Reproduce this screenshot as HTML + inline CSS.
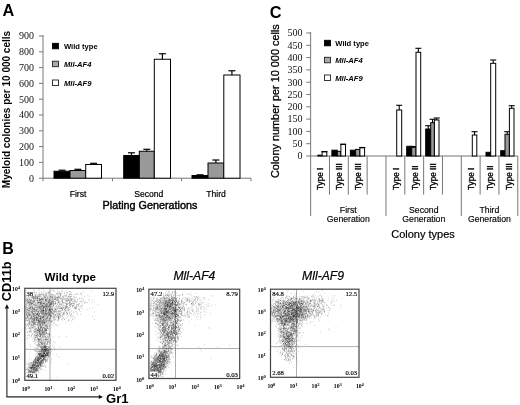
<!DOCTYPE html>
<html><head><meta charset="utf-8"><title>Figure</title>
<style>
html,body{margin:0;padding:0;background:#fff;}
body{width:520px;height:405px;overflow:hidden;}
svg{display:block;}
.sa{font-family:"Liberation Sans",Arial,sans-serif;}
.se{font-family:"Liberation Serif","Times New Roman",serif;}
</style></head><body>
<svg width="520" height="405" viewBox="0 0 520 405" style="filter:blur(0.4px)">
<defs><filter id="bl" x="-5%" y="-5%" width="110%" height="110%"><feGaussianBlur stdDeviation="0.35"/></filter></defs>
<rect width="520" height="405" fill="#fff"/>
<text class="sa" x="2.4" y="15.8" font-size="16.3" font-weight="bold" font-style="normal" text-anchor="start" fill="#000" >A</text>
<text class="sa" transform="translate(9.6,188.2) rotate(-90)" font-size="10" font-weight="bold" text-anchor="start" fill="#000" >Myeloid colonies per 10 000 cells</text>
<line x1="43" y1="35" x2="43" y2="178.2" stroke="#777" stroke-width="1"/>
<line x1="43" y1="178.2" x2="251" y2="178.2" stroke="#777" stroke-width="1"/>
<line x1="39" y1="178.2" x2="43" y2="178.2" stroke="#777" stroke-width="1"/>
<text class="se" x="33.9" y="181.5" font-size="10" font-weight="normal" font-style="normal" text-anchor="end" fill="#111" >0</text>
<line x1="39" y1="162.39999999999998" x2="43" y2="162.39999999999998" stroke="#777" stroke-width="1"/>
<text class="se" x="33.9" y="165.7" font-size="10" font-weight="normal" font-style="normal" text-anchor="end" fill="#111" >100</text>
<line x1="39" y1="146.6" x2="43" y2="146.6" stroke="#777" stroke-width="1"/>
<text class="se" x="33.9" y="149.9" font-size="10" font-weight="normal" font-style="normal" text-anchor="end" fill="#111" >200</text>
<line x1="39" y1="130.79999999999998" x2="43" y2="130.79999999999998" stroke="#777" stroke-width="1"/>
<text class="se" x="33.9" y="134.1" font-size="10" font-weight="normal" font-style="normal" text-anchor="end" fill="#111" >300</text>
<line x1="39" y1="114.99999999999999" x2="43" y2="114.99999999999999" stroke="#777" stroke-width="1"/>
<text class="se" x="33.9" y="118.3" font-size="10" font-weight="normal" font-style="normal" text-anchor="end" fill="#111" >400</text>
<line x1="39" y1="99.19999999999999" x2="43" y2="99.19999999999999" stroke="#777" stroke-width="1"/>
<text class="se" x="33.9" y="102.5" font-size="10" font-weight="normal" font-style="normal" text-anchor="end" fill="#111" >500</text>
<line x1="39" y1="83.39999999999998" x2="43" y2="83.39999999999998" stroke="#777" stroke-width="1"/>
<text class="se" x="33.9" y="86.7" font-size="10" font-weight="normal" font-style="normal" text-anchor="end" fill="#111" >600</text>
<line x1="39" y1="67.59999999999998" x2="43" y2="67.59999999999998" stroke="#777" stroke-width="1"/>
<text class="se" x="33.9" y="70.9" font-size="10" font-weight="normal" font-style="normal" text-anchor="end" fill="#111" >700</text>
<line x1="39" y1="51.79999999999998" x2="43" y2="51.79999999999998" stroke="#777" stroke-width="1"/>
<text class="se" x="33.9" y="55.1" font-size="10" font-weight="normal" font-style="normal" text-anchor="end" fill="#111" >800</text>
<line x1="39" y1="35.99999999999997" x2="43" y2="35.99999999999997" stroke="#777" stroke-width="1"/>
<text class="se" x="33.9" y="39.3" font-size="10" font-weight="normal" font-style="normal" text-anchor="end" fill="#111" >900</text>
<line x1="43" y1="178.2" x2="43" y2="181.2" stroke="#777" stroke-width="1"/>
<line x1="112.5" y1="178.2" x2="112.5" y2="181.2" stroke="#777" stroke-width="1"/>
<line x1="181.5" y1="178.2" x2="181.5" y2="181.2" stroke="#777" stroke-width="1"/>
<line x1="251" y1="178.2" x2="251" y2="181.2" stroke="#777" stroke-width="1"/>
<rect x="54.00" y="171.25" width="16.00" height="6.95" fill="#000" stroke="#000" stroke-width="1"/>
<line x1="62.0" y1="170.2" x2="62.0" y2="171.25" stroke="#000" stroke-width="1.2"/>
<line x1="58.5" y1="170.2" x2="65.5" y2="170.2" stroke="#000" stroke-width="1.2"/>
<rect x="70.00" y="170.50" width="15.70" height="7.70" fill="#999" stroke="#000" stroke-width="1"/>
<line x1="77.85" y1="169.3" x2="77.85" y2="170.5" stroke="#000" stroke-width="1.2"/>
<line x1="74.35" y1="169.3" x2="81.35" y2="169.3" stroke="#000" stroke-width="1.2"/>
<rect x="85.70" y="164.50" width="15.80" height="13.70" fill="#fff" stroke="#000" stroke-width="1"/>
<line x1="93.6" y1="163.3" x2="93.6" y2="164.5" stroke="#000" stroke-width="1.2"/>
<line x1="90.1" y1="163.3" x2="97.1" y2="163.3" stroke="#000" stroke-width="1.2"/>
<rect x="123.70" y="155.50" width="15.60" height="22.70" fill="#000" stroke="#000" stroke-width="1"/>
<line x1="131.5" y1="152.8" x2="131.5" y2="155.5" stroke="#000" stroke-width="1.2"/>
<line x1="128.0" y1="152.8" x2="135.0" y2="152.8" stroke="#000" stroke-width="1.2"/>
<rect x="139.30" y="151.25" width="15.00" height="26.95" fill="#999" stroke="#000" stroke-width="1"/>
<line x1="146.8" y1="149.3" x2="146.8" y2="151.25" stroke="#000" stroke-width="1.2"/>
<line x1="143.3" y1="149.3" x2="150.3" y2="149.3" stroke="#000" stroke-width="1.2"/>
<rect x="154.30" y="59.25" width="16.20" height="118.95" fill="#fff" stroke="#000" stroke-width="1"/>
<line x1="162.4" y1="53.75" x2="162.4" y2="59.25" stroke="#000" stroke-width="1.2"/>
<line x1="158.9" y1="53.75" x2="165.9" y2="53.75" stroke="#000" stroke-width="1.2"/>
<rect x="192.00" y="175.50" width="16.00" height="2.70" fill="#000" stroke="#000" stroke-width="1"/>
<line x1="200.0" y1="174.8" x2="200.0" y2="175.5" stroke="#000" stroke-width="1.2"/>
<line x1="196.5" y1="174.8" x2="203.5" y2="174.8" stroke="#000" stroke-width="1.2"/>
<rect x="208.00" y="163.00" width="15.80" height="15.20" fill="#999" stroke="#000" stroke-width="1"/>
<line x1="215.9" y1="160" x2="215.9" y2="163" stroke="#000" stroke-width="1.2"/>
<line x1="212.4" y1="160" x2="219.4" y2="160" stroke="#000" stroke-width="1.2"/>
<rect x="223.80" y="75.00" width="16.20" height="103.20" fill="#fff" stroke="#000" stroke-width="1"/>
<line x1="231.9" y1="70.75" x2="231.9" y2="75" stroke="#000" stroke-width="1.2"/>
<line x1="228.4" y1="70.75" x2="235.4" y2="70.75" stroke="#000" stroke-width="1.2"/>
<text class="sa" x="78" y="197.2" font-size="8.6" font-weight="normal" font-style="normal" text-anchor="middle" fill="#000" stroke="#000" stroke-width=".2">First</text>
<text class="sa" x="148.8" y="197.2" font-size="8.6" font-weight="normal" font-style="normal" text-anchor="middle" fill="#000" stroke="#000" stroke-width=".2">Second</text>
<text class="sa" x="216" y="197.2" font-size="8.6" font-weight="normal" font-style="normal" text-anchor="middle" fill="#000" stroke="#000" stroke-width=".2">Third</text>
<text class="sa" x="150" y="208.9" font-size="10.8" font-weight="normal" font-style="normal" text-anchor="middle" fill="#000" stroke="#000" stroke-width=".4">Plating Generations</text>
<rect x="52.50" y="43.30" width="6.00" height="5.50" fill="#000" stroke="#000" stroke-width="0.9"/>
<text class="sa" x="64" y="48.6" font-size="7.6" font-weight="bold" font-style="normal" text-anchor="start" fill="#000" >Wild type</text>
<rect x="52.50" y="61.20" width="6.00" height="5.50" fill="#aaa" stroke="#222" stroke-width="0.9"/>
<text class="sa" x="64" y="66.7" font-size="7.6" font-weight="bold" font-style="italic" text-anchor="start" fill="#000" >Mll-AF4</text>
<rect x="52.50" y="80.00" width="6.00" height="5.50" fill="#fff" stroke="#222" stroke-width="0.9"/>
<text class="sa" x="64" y="85.7" font-size="7.6" font-weight="bold" font-style="italic" text-anchor="start" fill="#000" >Mll-AF9</text>
<text class="sa" x="269.8" y="18.2" font-size="16.3" font-weight="bold" font-style="normal" text-anchor="start" fill="#000" >C</text>
<text class="sa" transform="translate(279.2,178) rotate(-90)" font-size="10.9" font-weight="normal" text-anchor="start" fill="#000" stroke="#000" stroke-width=".3">Colony number per 10 000 cells</text>
<line x1="310.65" y1="32" x2="310.65" y2="156" stroke="#777" stroke-width="1"/>
<line x1="310.65" y1="156" x2="517.78" y2="156" stroke="#777" stroke-width="1"/>
<line x1="306.3" y1="156.0" x2="310.65" y2="156.0" stroke="#777" stroke-width="1"/>
<text class="se" x="302.6" y="159.3" font-size="10" font-weight="normal" font-style="normal" text-anchor="end" fill="#111" >0</text>
<line x1="306.3" y1="143.7" x2="310.65" y2="143.7" stroke="#777" stroke-width="1"/>
<text class="se" x="302.6" y="147.0" font-size="10" font-weight="normal" font-style="normal" text-anchor="end" fill="#111" >50</text>
<line x1="306.3" y1="131.4" x2="310.65" y2="131.4" stroke="#777" stroke-width="1"/>
<text class="se" x="302.6" y="134.7" font-size="10" font-weight="normal" font-style="normal" text-anchor="end" fill="#111" >100</text>
<line x1="306.3" y1="119.1" x2="310.65" y2="119.1" stroke="#777" stroke-width="1"/>
<text class="se" x="302.6" y="122.4" font-size="10" font-weight="normal" font-style="normal" text-anchor="end" fill="#111" >150</text>
<line x1="306.3" y1="106.8" x2="310.65" y2="106.8" stroke="#777" stroke-width="1"/>
<text class="se" x="302.6" y="110.1" font-size="10" font-weight="normal" font-style="normal" text-anchor="end" fill="#111" >200</text>
<line x1="306.3" y1="94.5" x2="310.65" y2="94.5" stroke="#777" stroke-width="1"/>
<text class="se" x="302.6" y="97.8" font-size="10" font-weight="normal" font-style="normal" text-anchor="end" fill="#111" >250</text>
<line x1="306.3" y1="82.19999999999999" x2="310.65" y2="82.19999999999999" stroke="#777" stroke-width="1"/>
<text class="se" x="302.6" y="85.5" font-size="10" font-weight="normal" font-style="normal" text-anchor="end" fill="#111" >300</text>
<line x1="306.3" y1="69.89999999999999" x2="310.65" y2="69.89999999999999" stroke="#777" stroke-width="1"/>
<text class="se" x="302.6" y="73.2" font-size="10" font-weight="normal" font-style="normal" text-anchor="end" fill="#111" >350</text>
<line x1="306.3" y1="57.599999999999994" x2="310.65" y2="57.599999999999994" stroke="#777" stroke-width="1"/>
<text class="se" x="302.6" y="60.9" font-size="10" font-weight="normal" font-style="normal" text-anchor="end" fill="#111" >400</text>
<line x1="306.3" y1="45.3" x2="310.65" y2="45.3" stroke="#777" stroke-width="1"/>
<text class="se" x="302.6" y="48.6" font-size="10" font-weight="normal" font-style="normal" text-anchor="end" fill="#111" >450</text>
<line x1="306.3" y1="33.0" x2="310.65" y2="33.0" stroke="#777" stroke-width="1"/>
<text class="se" x="302.6" y="36.3" font-size="10" font-weight="normal" font-style="normal" text-anchor="end" fill="#111" >500</text>
<line x1="310.65" y1="156" x2="310.65" y2="216" stroke="#777" stroke-width="1"/>
<line x1="329.47999999999996" y1="156" x2="329.47999999999996" y2="194.6" stroke="#777" stroke-width="1"/>
<line x1="348.30999999999995" y1="156" x2="348.30999999999995" y2="194.6" stroke="#777" stroke-width="1"/>
<line x1="367.14" y1="156" x2="367.14" y2="194.6" stroke="#777" stroke-width="1"/>
<line x1="385.96999999999997" y1="156" x2="385.96999999999997" y2="216" stroke="#777" stroke-width="1"/>
<line x1="404.79999999999995" y1="156" x2="404.79999999999995" y2="194.6" stroke="#777" stroke-width="1"/>
<line x1="423.63" y1="156" x2="423.63" y2="194.6" stroke="#777" stroke-width="1"/>
<line x1="442.46" y1="156" x2="442.46" y2="194.6" stroke="#777" stroke-width="1"/>
<line x1="461.28999999999996" y1="156" x2="461.28999999999996" y2="216" stroke="#777" stroke-width="1"/>
<line x1="480.11999999999995" y1="156" x2="480.11999999999995" y2="194.6" stroke="#777" stroke-width="1"/>
<line x1="498.94999999999993" y1="156" x2="498.94999999999993" y2="194.6" stroke="#777" stroke-width="1"/>
<line x1="517.78" y1="156" x2="517.78" y2="216" stroke="#777" stroke-width="1"/>
<rect x="317.80" y="155.20" width="3.60" height="0.80" fill="#999" stroke="#000" stroke-width="1"/>
<rect x="322.10" y="151.80" width="4.70" height="4.20" fill="#fff" stroke="#000" stroke-width="1"/>
<line x1="324.45000000000005" y1="151.6" x2="324.45000000000005" y2="151.8" stroke="#000" stroke-width="1.1"/>
<line x1="321.45000000000005" y1="151.6" x2="327.45000000000005" y2="151.6" stroke="#000" stroke-width="1.1"/>
<rect x="331.90" y="150.20" width="5.40" height="5.80" fill="#000" stroke="#000" stroke-width="1"/>
<rect x="337.30" y="151.40" width="3.60" height="4.60" fill="#999" stroke="#000" stroke-width="1"/>
<rect x="340.90" y="144.40" width="4.60" height="11.60" fill="#fff" stroke="#000" stroke-width="1"/>
<line x1="343.2" y1="144.2" x2="343.2" y2="144.4" stroke="#000" stroke-width="1.1"/>
<line x1="340.2" y1="144.2" x2="346.2" y2="144.2" stroke="#000" stroke-width="1.1"/>
<rect x="350.40" y="150.20" width="5.20" height="5.80" fill="#000" stroke="#000" stroke-width="1"/>
<rect x="355.60" y="149.40" width="4.30" height="6.60" fill="#999" stroke="#000" stroke-width="1"/>
<rect x="359.90" y="147.80" width="4.70" height="8.20" fill="#fff" stroke="#000" stroke-width="1"/>
<line x1="362.25" y1="147.5" x2="362.25" y2="147.8" stroke="#000" stroke-width="1.1"/>
<line x1="359.25" y1="147.5" x2="365.25" y2="147.5" stroke="#000" stroke-width="1.1"/>
<rect x="396.70" y="110.00" width="5.00" height="46.00" fill="#fff" stroke="#000" stroke-width="1"/>
<line x1="399.2" y1="105.3" x2="399.2" y2="110" stroke="#000" stroke-width="1.1"/>
<line x1="396.2" y1="105.3" x2="402.2" y2="105.3" stroke="#000" stroke-width="1.1"/>
<rect x="406.70" y="147.30" width="5.00" height="8.70" fill="#000" stroke="#000" stroke-width="1"/>
<line x1="409.2" y1="146.3" x2="409.2" y2="147.3" stroke="#000" stroke-width="1.1"/>
<line x1="406.2" y1="146.3" x2="412.2" y2="146.3" stroke="#000" stroke-width="1.1"/>
<rect x="411.70" y="147.30" width="4.30" height="8.70" fill="#999" stroke="#000" stroke-width="1"/>
<line x1="413.85" y1="146.5" x2="413.85" y2="147.3" stroke="#000" stroke-width="1.1"/>
<line x1="410.85" y1="146.5" x2="416.85" y2="146.5" stroke="#000" stroke-width="1.1"/>
<rect x="416.00" y="52.30" width="4.70" height="103.70" fill="#fff" stroke="#000" stroke-width="1"/>
<line x1="418.35" y1="48.3" x2="418.35" y2="52.3" stroke="#000" stroke-width="1.1"/>
<line x1="415.35" y1="48.3" x2="421.35" y2="48.3" stroke="#000" stroke-width="1.1"/>
<rect x="425.70" y="129.00" width="5.00" height="27.00" fill="#000" stroke="#000" stroke-width="1"/>
<line x1="428.2" y1="125.7" x2="428.2" y2="129" stroke="#000" stroke-width="1.1"/>
<line x1="425.2" y1="125.7" x2="431.2" y2="125.7" stroke="#000" stroke-width="1.1"/>
<rect x="430.70" y="122.70" width="3.70" height="33.30" fill="#999" stroke="#000" stroke-width="1"/>
<line x1="432.54999999999995" y1="119.3" x2="432.54999999999995" y2="122.7" stroke="#000" stroke-width="1.1"/>
<line x1="429.54999999999995" y1="119.3" x2="435.54999999999995" y2="119.3" stroke="#000" stroke-width="1.1"/>
<rect x="434.40" y="120.00" width="4.60" height="36.00" fill="#fff" stroke="#000" stroke-width="1"/>
<line x1="436.7" y1="118" x2="436.7" y2="120" stroke="#000" stroke-width="1.1"/>
<line x1="433.7" y1="118" x2="439.7" y2="118" stroke="#000" stroke-width="1.1"/>
<rect x="472.30" y="135.00" width="4.50" height="21.00" fill="#fff" stroke="#000" stroke-width="1"/>
<line x1="474.55" y1="131.7" x2="474.55" y2="135" stroke="#000" stroke-width="1.1"/>
<line x1="471.55" y1="131.7" x2="477.55" y2="131.7" stroke="#000" stroke-width="1.1"/>
<rect x="486.00" y="152.30" width="4.70" height="3.70" fill="#000" stroke="#000" stroke-width="1"/>
<rect x="490.70" y="63.30" width="5.00" height="92.70" fill="#fff" stroke="#000" stroke-width="1"/>
<line x1="493.2" y1="60" x2="493.2" y2="63.3" stroke="#000" stroke-width="1.1"/>
<line x1="490.2" y1="60" x2="496.2" y2="60" stroke="#000" stroke-width="1.1"/>
<rect x="500.70" y="150.70" width="4.30" height="5.30" fill="#000" stroke="#000" stroke-width="1"/>
<rect x="505.00" y="134.30" width="4.40" height="21.70" fill="#999" stroke="#000" stroke-width="1"/>
<line x1="507.2" y1="131.7" x2="507.2" y2="134.3" stroke="#000" stroke-width="1.1"/>
<line x1="504.2" y1="131.7" x2="510.2" y2="131.7" stroke="#000" stroke-width="1.1"/>
<rect x="509.40" y="108.30" width="4.60" height="47.70" fill="#fff" stroke="#000" stroke-width="1"/>
<line x1="511.7" y1="105.7" x2="511.7" y2="108.3" stroke="#000" stroke-width="1.1"/>
<line x1="508.7" y1="105.7" x2="514.7" y2="105.7" stroke="#000" stroke-width="1.1"/>
<text class="sa" transform="translate(323.37,190) rotate(-90)" font-size="8.2" font-weight="normal" text-anchor="start" fill="#000" stroke="#000" stroke-width=".3">Type I</text>
<text class="sa" transform="translate(342.19,190) rotate(-90)" font-size="8.2" font-weight="normal" text-anchor="start" fill="#000" stroke="#000" stroke-width=".3">Type III</text>
<text class="sa" transform="translate(361.02,190) rotate(-90)" font-size="8.2" font-weight="normal" text-anchor="start" fill="#000" stroke="#000" stroke-width=".3">Type III</text>
<text class="sa" transform="translate(398.69,190) rotate(-90)" font-size="8.2" font-weight="normal" text-anchor="start" fill="#000" stroke="#000" stroke-width=".3">Type I</text>
<text class="sa" transform="translate(417.51,190) rotate(-90)" font-size="8.2" font-weight="normal" text-anchor="start" fill="#000" stroke="#000" stroke-width=".3">Type II</text>
<text class="sa" transform="translate(436.34,190) rotate(-90)" font-size="8.2" font-weight="normal" text-anchor="start" fill="#000" stroke="#000" stroke-width=".3">Type III</text>
<text class="sa" transform="translate(474.0,190) rotate(-90)" font-size="8.2" font-weight="normal" text-anchor="start" fill="#000" stroke="#000" stroke-width=".3">Type I</text>
<text class="sa" transform="translate(492.83,190) rotate(-90)" font-size="8.2" font-weight="normal" text-anchor="start" fill="#000" stroke="#000" stroke-width=".3">Type II</text>
<text class="sa" transform="translate(511.66,190) rotate(-90)" font-size="8.2" font-weight="normal" text-anchor="start" fill="#000" stroke="#000" stroke-width=".3">Type III</text>
<text class="sa" x="348.3" y="213" font-size="8.7" font-weight="normal" font-style="normal" text-anchor="middle" fill="#000" stroke="#000" stroke-width=".15">First</text>
<text class="sa" x="348.3" y="222" font-size="8.7" font-weight="normal" font-style="normal" text-anchor="middle" fill="#000" stroke="#000" stroke-width=".15">Generation</text>
<text class="sa" x="423.8" y="213" font-size="8.7" font-weight="normal" font-style="normal" text-anchor="middle" fill="#000" stroke="#000" stroke-width=".15">Second</text>
<text class="sa" x="423.8" y="222" font-size="8.7" font-weight="normal" font-style="normal" text-anchor="middle" fill="#000" stroke="#000" stroke-width=".15">Generation</text>
<text class="sa" x="489.4" y="213" font-size="8.7" font-weight="normal" font-style="normal" text-anchor="middle" fill="#000" stroke="#000" stroke-width=".15">Third</text>
<text class="sa" x="489.4" y="222" font-size="8.7" font-weight="normal" font-style="normal" text-anchor="middle" fill="#000" stroke="#000" stroke-width=".15">Generation</text>
<text class="sa" x="423" y="237.5" font-size="11" font-weight="normal" font-style="normal" text-anchor="middle" fill="#000" stroke="#000" stroke-width=".2">Colony types</text>
<rect x="324.50" y="40.30" width="6.00" height="5.50" fill="#000" stroke="#000" stroke-width="0.9"/>
<text class="sa" x="335.3" y="46.2" font-size="7.6" font-weight="bold" font-style="normal" text-anchor="start" fill="#000" >Wild type</text>
<rect x="324.50" y="57.30" width="6.00" height="5.50" fill="#aaa" stroke="#222" stroke-width="0.9"/>
<text class="sa" x="335.3" y="62.6" font-size="7.6" font-weight="bold" font-style="italic" text-anchor="start" fill="#000" >Mll-AF4</text>
<rect x="324.50" y="75.00" width="6.00" height="5.50" fill="#fff" stroke="#222" stroke-width="0.9"/>
<text class="sa" x="335.3" y="80.6" font-size="7.6" font-weight="bold" font-style="italic" text-anchor="start" fill="#000" >Mll-AF9</text>
<text class="sa" x="2.2" y="254" font-size="16" font-weight="bold" font-style="normal" text-anchor="start" fill="#000" >B</text>
<text class="sa" transform="translate(11.2,301.2) rotate(-90)" font-size="12.8" font-weight="bold" text-anchor="start" fill="#000" >CD11b</text>
<line x1="6.9" y1="307" x2="6.9" y2="397" stroke="#222" stroke-width="1.1"/>
<line x1="6.4" y1="396.9" x2="100" y2="396.9" stroke="#222" stroke-width="1.1"/>
<polygon points="6.9,304.2 4.7,308.5 9.1,308.5" fill="#111"/>
<polygon points="103,396.9 98.8,394.8 98.8,399" fill="#111"/>
<text class="sa" x="106" y="402.7" font-size="13.1" font-weight="bold" font-style="normal" text-anchor="start" fill="#000" >Gr1</text>
<line x1="50.0" y1="288.3" x2="50.0" y2="380.3" stroke="#999" stroke-width="0.8"/>
<line x1="24.8" y1="349.3" x2="116.0" y2="349.3" stroke="#999" stroke-width="0.8"/>
<path transform="translate(24.8,288.3)" d="M14.5 70.7h.6M22.2 67.5h.6M20.1 63.6h.6M11.6 81.6h.6M9.2 80.6h.6M16.8 62.5h.6M10.2 85.5h.6M23.1 64.3h.6M18.3 66.4h.6M12.5 71.9h.6M13.2 77.5h.6M7.8 78.5h.6M9.1 77.4h.6M13.4 74.6h.6M13.8 74.2h.6M14.2 72.6h.6M20.2 59.2h.6M18.0 65.1h.6M17.7 72.8h.6M20.7 61.2h.6M8.7 76.4h.6M9.7 81.7h.6M16.0 67.7h.6M6.5 80.8h.6M8.3 84.1h.6M14.4 66.2h.6M15.0 77.3h.6M23.1 61.9h.6M14.5 69.6h.6M16.9 69.1h.6M15.3 69.1h.6M7.0 82.9h.6M9.0 89.9h.6M9.3 78.9h.6M15.8 65.0h.6M10.8 79.4h.6M13.0 77.2h.6M3.3 82.1h.6M18.0 61.9h.6M5.8 80.0h.6M12.1 77.1h.6M17.1 67.9h.6M14.9 71.4h.6M20.8 68.2h.6M17.9 67.9h.6M18.9 68.3h.6M7.8 86.0h.6M16.8 72.4h.6M14.0 75.3h.6M18.9 65.6h.6M8.1 78.4h.6M12.9 68.7h.6M2.8 79.6h.6M10.8 71.9h.6M9.2 76.4h.6M7.8 78.3h.6M20.3 65.9h.6M12.1 76.3h.6M22.9 60.2h.6M18.7 70.0h.6M11.2 68.2h.6M16.1 70.2h.6M17.7 69.6h.6M6.4 80.0h.6M12.7 76.8h.6M8.0 75.2h.6M13.1 77.1h.6M9.1 82.8h.6M22.0 64.0h.6M11.9 80.8h.6M13.5 65.3h.6M13.1 80.8h.6M24.8 61.2h.6M16.7 67.9h.6M8.8 77.5h.6M18.9 61.2h.6M20.9 63.6h.6M22.7 65.5h.6M14.0 69.2h.6M9.8 82.7h.6M13.6 83.7h.6M23.3 64.8h.6M10.7 74.0h.6M8.1 81.0h.6M16.6 67.3h.6M15.6 67.9h.6M15.7 73.8h.6M6.7 74.4h.6M14.0 76.9h.6M9.5 78.4h.6M5.3 87.8h.6M19.0 67.9h.6M10.2 74.6h.6M10.6 74.8h.6M8.5 78.4h.6M22.6 65.3h.6M2.9 85.5h.6M13.7 75.5h.6M8.5 81.9h.6M21.4 62.2h.6M14.1 67.5h.6M14.0 74.0h.6M14.2 67.2h.6M22.5 64.8h.6M12.4 77.1h.6M15.2 73.3h.6M21.5 69.9h.6M14.4 79.2h.6M15.4 70.9h.6M20.7 68.2h.6M20.3 57.5h.6M8.7 87.6h.6M23.1 64.5h.6M3.4 80.9h.6M18.1 67.7h.6M18.6 67.2h.6M10.0 84.1h.6M13.9 79.9h.6M19.4 65.0h.6M6.0 77.9h.6M18.5 68.2h.6M13.6 65.3h.6M9.3 71.7h.6M17.0 68.1h.6M11.2 78.0h.6M9.6 83.2h.6M11.3 78.0h.6M9.9 79.1h.6M11.0 73.9h.6M25.1 65.6h.6M10.2 70.9h.6M7.6 78.8h.6M12.7 82.3h.6M20.2 67.4h.6M12.8 72.0h.6M20.3 61.8h.6M16.6 72.8h.6M16.4 68.5h.6M23.2 61.7h.6M18.3 70.5h.6M19.7 71.5h.6M14.0 72.3h.6M21.3 66.6h.6M13.4 78.5h.6M19.0 61.5h.6M6.3 87.8h.6M13.7 71.0h.6M11.0 77.1h.6M19.0 63.3h.6M11.0 80.7h.6M17.4 64.9h.6M17.6 68.6h.6M19.0 67.8h.6M15.5 70.0h.6M25.9 61.0h.6M11.1 83.2h.6M10.1 73.9h.6M5.1 79.5h.6M8.8 85.2h.6M9.0 79.2h.6M21.1 65.6h.6M17.6 65.0h.6M7.4 80.1h.6M14.5 68.5h.6M17.1 77.9h.6M13.5 63.3h.6M16.1 62.0h.6M11.3 82.3h.6M20.2 59.7h.6M14.9 67.5h.6M18.1 68.9h.6M20.4 71.9h.6M9.2 81.6h.6M2.9 82.6h.6M14.9 77.4h.6M18.0 67.8h.6M23.2 65.9h.6M14.2 66.0h.6M7.1 83.4h.6M22.7 67.6h.6M18.1 65.1h.6M19.1 65.5h.6M17.2 74.9h.6M22.3 60.7h.6M5.7 82.5h.6M9.4 85.3h.6M6.8 84.3h.6M4.4 75.0h.6M9.7 79.4h.6M10.0 82.4h.6M18.8 71.7h.6M6.6 87.6h.6M14.3 66.0h.6M7.9 80.7h.6M12.5 67.7h.6M5.5 85.8h.6M10.5 79.3h.6M22.0 62.2h.6M12.1 72.3h.6M21.1 63.4h.6M14.9 70.1h.6M12.9 74.8h.6M5.6 80.4h.6M14.3 76.3h.6M8.4 85.8h.6M24.8 66.5h.6M26.4 63.2h.6M14.8 64.6h.6M5.3 85.4h.6M12.2 72.4h.6M11.8 77.1h.6M10.6 84.6h.6M18.2 68.3h.6M18.2 58.1h.6M15.2 76.8h.6M18.4 62.5h.6M17.8 63.8h.6M10.9 82.4h.6M16.7 67.0h.6M18.3 65.2h.6M8.0 79.6h.6M16.8 75.0h.6M14.7 68.6h.6M17.3 71.1h.6M9.1 77.4h.6M17.0 71.7h.6M13.5 68.2h.6M20.5 66.3h.6M19.7 64.7h.6M10.2 73.5h.6M16.2 67.9h.6M17.5 64.5h.6M19.6 67.4h.6M5.9 82.2h.6M5.7 82.8h.6M13.3 66.9h.6M6.5 81.0h.6M12.2 70.5h.6M20.0 61.0h.6M11.7 74.3h.6M7.4 79.0h.6M15.1 76.1h.6M10.6 70.1h.6M4.2 83.9h.6M16.5 74.4h.6M4.4 85.8h.6M18.1 70.9h.6M17.9 63.1h.6M13.3 78.0h.6M8.6 76.2h.6M17.0 73.8h.6M3.4 75.8h.6M8.2 78.3h.6M6.4 79.2h.6M13.4 74.5h.6M8.4 86.7h.6M19.8 69.5h.6M14.0 69.4h.6M8.2 74.3h.6M4.7 79.2h.6M18.5 68.0h.6M5.7 77.8h.6M9.2 79.5h.6M5.3 76.9h.6M6.9 79.1h.6M23.6 65.4h.6M6.9 76.9h.6M11.0 75.5h.6M16.7 66.8h.6M14.9 68.7h.6M7.9 81.6h.6M11.8 74.9h.6M17.9 66.8h.6M8.1 75.9h.6M12.4 64.3h.6M10.7 82.7h.6M13.8 61.7h.6M18.9 66.7h.6M20.8 66.5h.6M18.3 72.1h.6M14.8 77.1h.6M7.9 85.2h.6M16.6 72.4h.6M21.3 63.7h.6M11.3 82.4h.6M4.0 78.8h.6M16.9 76.2h.6M15.5 69.2h.6M21.0 67.0h.6M12.3 81.6h.6M10.7 81.4h.6M13.4 66.1h.6M13.7 65.6h.6M18.2 64.2h.6M23.1 62.4h.6M17.8 61.7h.6M18.9 65.0h.6M20.1 66.4h.6M11.9 73.5h.6M15.0 65.1h.6M9.1 77.4h.6M22.1 65.8h.6M21.6 65.1h.6M15.0 63.7h.6M7.5 74.8h.6M12.1 76.4h.6M14.8 75.6h.6M5.2 84.8h.6M20.0 62.0h.6M15.0 73.2h.6M9.4 76.5h.6M18.2 70.0h.6M20.6 67.7h.6M16.7 78.5h.6M23.2 64.8h.6M18.5 57.9h.6M15.0 76.8h.6M3.1 85.6h.6M15.3 66.4h.6M22.6 62.5h.6M7.2 83.8h.6M18.3 67.7h.6M19.4 61.6h.6M16.3 60.7h.6M5.2 83.7h.6M10.0 79.1h.6M17.3 58.9h.6M3.5 83.1h.6M9.8 81.0h.6M15.5 70.1h.6M13.5 76.6h.6M15.8 62.9h.6M7.1 80.8h.6M15.9 61.9h.6M9.8 79.7h.6M15.8 62.3h.6M8.4 86.6h.6M14.0 73.0h.6M8.0 86.0h.6M15.7 72.7h.6M7.9 77.5h.6M22.0 66.6h.6M14.2 74.9h.6M9.9 86.5h.6M21.9 58.5h.6M23.7 63.1h.6M23.3 60.7h.6M5.9 75.5h.6M10.0 75.7h.6M6.3 79.0h.6M3.5 77.7h.6M9.0 84.7h.6M15.4 69.8h.6M6.6 80.2h.6M8.0 77.4h.6M21.6 60.9h.6M16.3 74.7h.6M8.3 84.8h.6M13.8 70.1h.6M5.1 79.4h.6M18.5 70.5h.6M12.7 82.4h.6M15.9 70.1h.6M20.4 71.2h.6M14.7 67.2h.6M14.6 74.3h.6M14.8 63.3h.6M22.1 65.7h.6M8.1 80.2h.6M11.0 83.5h.6M6.3 83.1h.6M21.6 61.1h.6M26.3 60.9h.6M2.9 79.8h.6M21.0 60.1h.6M7.1 81.3h.6M11.0 70.1h.6M14.9 71.3h.6M17.5 60.6h.6M8.4 83.4h.6M4.6 77.7h.6M19.1 69.7h.6M4.9 84.1h.6M11.2 78.8h.6M11.3 71.8h.6M16.0 68.1h.6M20.7 70.4h.6M22.4 66.3h.6M24.7 66.5h.6M14.9 65.2h.6M22.0 65.2h.6M14.8 71.0h.6M19.0 63.8h.6M12.1 73.6h.6M6.3 79.5h.6M16.8 66.2h.6M4.4 83.0h.6M20.3 59.7h.6M16.5 63.4h.6M13.7 76.8h.6M24.2 60.6h.6M8.4 80.0h.6M14.7 75.8h.6M10.8 81.6h.6M16.2 61.3h.6M13.5 70.5h.6M19.6 65.1h.6M12.0 76.9h.6M17.2 63.1h.6M17.7 67.1h.6M18.5 73.1h.6M16.8 62.4h.6M10.9 73.0h.6M8.5 74.2h.6M12.9 69.0h.6M19.8 68.6h.6M11.8 78.8h.6M12.5 71.2h.6M9.4 84.2h.6M12.8 75.0h.6M20.3 67.1h.6M11.2 85.6h.6M20.3 63.3h.6M6.0 89.2h.6M19.4 62.1h.6M11.6 69.8h.6M8.5 73.0h.6M16.2 67.5h.6M15.5 68.2h.6M17.0 67.7h.6M3.4 83.9h.6M10.6 72.2h.6M20.4 74.4h.6M23.1 62.8h.6M4.4 86.9h.6M13.6 77.3h.6M18.6 69.9h.6M14.0 69.4h.6M10.7 87.9h.6M19.2 71.4h.6M7.0 76.4h.6M7.2 84.4h.6M22.0 65.8h.6M4.9 76.3h.6M10.9 74.1h.6M14.0 70.1h.6M19.0 69.8h.6M17.9 71.6h.6M17.1 59.4h.6M9.2 77.2h.6M23.4 67.7h.6M17.9 67.4h.6M18.8 67.1h.6M16.5 66.0h.6M15.1 74.3h.6M18.1 73.3h.6M12.3 78.9h.6M20.7 67.0h.6M9.2 76.0h.6M5.9 75.8h.6M19.2 59.2h.6M12.9 70.0h.6M17.6 76.1h.6M19.8 67.9h.6M10.5 70.6h.6M18.5 59.0h.6M19.5 62.0h.6M12.6 73.9h.6M12.2 67.5h.6M3.1 82.7h.6M9.1 79.9h.6M16.7 66.8h.6M15.0 70.5h.6M14.5 74.1h.6M18.2 70.5h.6M19.5 70.7h.6M21.9 69.9h.6M13.6 71.8h.6M5.9 78.9h.6M8.3 72.9h.6M11.5 81.0h.6M15.2 77.3h.6M23.0 58.6h.6M7.5 77.3h.6M11.3 73.8h.6M11.7 79.8h.6M14.3 69.9h.6M21.0 56.9h.6M19.1 64.6h.6M10.2 74.1h.6M10.6 81.6h.6M20.1 66.7h.6M9.5 73.6h.6M17.9 64.8h.6M7.9 77.3h.6M19.8 62.4h.6M12.3 80.6h.6M17.5 73.6h.6M6.1 79.3h.6M11.5 71.8h.6M21.2 65.3h.6M16.7 62.2h.6M13.2 71.6h.6M19.9 69.1h.6M12.2 74.4h.6M11.3 80.7h.6M15.8 73.8h.6M8.8 84.2h.6M12.6 79.1h.6M14.9 68.9h.6M21.9 68.4h.6M5.2 81.6h.6M18.2 71.6h.6M18.4 66.9h.6M10.9 75.5h.6M8.9 83.1h.6M19.9 65.6h.6M10.2 77.0h.6M15.6 69.9h.6M12.2 71.9h.6M13.1 71.8h.6M15.6 78.5h.6M10.1 73.0h.6M11.0 78.0h.6M19.6 64.5h.6M13.1 78.5h.6M19.9 63.4h.6M11.1 78.1h.6M6.5 75.3h.6M7.8 77.1h.6M6.7 87.8h.6M8.3 73.7h.6M18.6 65.0h.6M17.2 67.0h.6M5.6 74.6h.6M9.7 82.9h.6M11.3 70.7h.6M13.9 65.3h.6M13.1 72.0h.6M19.4 67.0h.6M14.2 71.1h.6M17.4 67.1h.6M16.3 67.6h.6M16.2 63.9h.6M12.8 78.0h.6M6.6 79.6h.6M12.3 75.1h.6M15.8 76.1h.6M4.2 80.5h.6M13.6 72.6h.6M17.5 68.5h.6M9.1 84.4h.6M4.2 81.8h.6M9.6 80.9h.6M11.2 79.2h.6M25.3 61.2h.6M8.5 78.6h.6M10.8 79.8h.6M6.0 79.6h.6M13.0 73.7h.6M1.4 84.2h.6M11.4 75.3h.6M10.3 85.5h.6M6.4 77.2h.6M15.5 64.7h.6M7.2 77.5h.6M12.0 68.5h.6M10.6 74.5h.6M10.4 77.0h.6M21.9 62.3h.6M10.9 81.6h.6M22.8 58.6h.6M24.3 63.6h.6M18.7 65.8h.6M5.8 84.2h.6M19.7 69.0h.6M20.0 65.7h.6M17.2 68.9h.6M10.7 77.6h.6M21.0 56.6h.6M20.4 62.3h.6M7.1 79.9h.6M11.7 74.3h.6M5.8 86.1h.6M23.1 66.2h.6M17.0 62.6h.6M19.8 61.3h.6M15.8 72.0h.6M22.0 73.0h.6M15.0 66.8h.6M15.0 69.8h.6M17.1 62.9h.6M17.7 65.8h.6M12.0 74.1h.6M12.9 69.6h.6M9.0 88.0h.6M18.3 68.1h.6M16.1 65.8h.6M15.3 75.5h.6M15.0 65.9h.6M21.3 66.6h.6M13.7 70.0h.6M2.5 85.7h.6M9.2 80.0h.6M3.7 76.1h.6M9.2 77.0h.6M12.9 70.1h.6M23.5 67.6h.6M13.9 80.4h.6M19.6 58.1h.6M14.8 67.6h.6M19.4 65.2h.6M9.7 73.1h.6M8.4 88.4h.6M16.1 59.4h.6M8.3 80.9h.6M7.8 79.0h.6M16.9 67.9h.6M17.8 66.9h.6M11.4 81.9h.6M4.8 82.6h.6M18.2 60.0h.6M9.2 81.2h.6M20.1 71.2h.6M12.2 80.5h.6M18.1 67.8h.6M4.0 83.0h.6M20.5 72.7h.6M7.6 85.0h.6M18.8 70.0h.6M18.9 62.9h.6M5.1 84.4h.6M7.8 77.0h.6M18.1 62.6h.6M12.2 65.0h.6M6.6 74.5h.6M18.8 71.5h.6M16.5 76.7h.6M14.2 61.7h.6M15.4 75.7h.6M18.9 67.1h.6M16.2 73.0h.6M15.2 66.6h.6M15.0 75.9h.6M19.7 66.9h.6M19.3 69.9h.6M9.1 75.6h.6M4.8 83.6h.6M19.4 65.0h.6M17.3 71.4h.6M12.4 80.2h.6M13.3 65.5h.6M8.5 76.0h.6M13.6 70.2h.6M16.9 60.0h.6M12.2 73.5h.6M14.3 74.5h.6M10.3 75.4h.6M5.8 83.6h.6M8.7 77.2h.6M10.9 77.9h.6M7.2 82.6h.6M2.8 80.7h.6M10.4 72.2h.6M7.0 84.3h.6M17.1 67.0h.6M20.1 62.8h.6M7.2 77.7h.6M11.7 73.6h.6M9.9 70.9h.6M8.1 84.4h.6M9.3 83.0h.6M21.0 67.3h.6M12.8 71.2h.6M17.7 68.2h.6M7.7 84.9h.6M18.6 68.9h.6M23.5 68.5h.6M23.2 67.6h.6M12.1 86.4h.6M12.1 72.0h.6M12.4 77.5h.6M17.9 65.6h.6M4.8 78.8h.6M6.7 82.9h.6M15.5 65.2h.6M10.6 74.7h.6M7.8 73.6h.6M23.3 65.1h.6M11.6 80.3h.6M3.5 81.3h.6M11.0 77.4h.6M5.5 79.2h.6M8.6 83.2h.6M15.2 73.5h.6M19.4 60.0h.6M18.5 68.4h.6M19.2 70.3h.6M7.2 76.5h.6M17.4 73.0h.6M16.0 68.0h.6M16.2 70.5h.6M21.3 64.6h.6M16.2 75.2h.6M8.8 80.9h.6M18.1 69.6h.6M9.6 71.7h.6M13.3 84.0h.6M18.0 74.5h.6M18.4 67.0h.6M6.3 82.3h.6M15.2 65.9h.6M17.6 68.2h.6M12.0 76.6h.6M8.3 78.9h.6M14.4 78.4h.6M18.3 72.6h.6M13.5 65.3h.6M17.5 67.3h.6M3.3 79.1h.6M23.0 63.6h.6M24.4 64.1h.6M13.2 85.1h.6M8.5 82.4h.6M8.8 81.5h.6M19.4 64.3h.6M21.8 64.3h.6M4.2 88.9h.6M12.4 75.3h.6M11.3 83.3h.6M15.3 76.3h.6M17.3 60.8h.6M8.9 85.6h.6M7.1 78.8h.6M13.3 76.6h.6M13.9 74.7h.6M19.9 67.4h.6M13.8 74.7h.6M7.5 82.5h.6M8.3 75.9h.6M22.8 64.1h.6M20.1 68.4h.6M12.3 82.2h.6M14.9 65.5h.6M15.1 76.2h.6M23.1 66.7h.6M4.2 85.1h.6M19.9 61.4h.6M6.9 84.5h.6M13.6 79.3h.6M14.3 71.0h.6M14.9 74.5h.6M9.6 82.9h.6M4.1 80.6h.6M11.0 78.4h.6M7.5 90.8h.6M7.8 77.4h.6M0.9 81.3h.6M9.9 73.3h.6M11.8 77.9h.6M15.2 74.0h.6M8.2 80.8h.6M4.3 86.0h.6M8.3 75.1h.6M15.1 62.8h.6M7.2 75.4h.6M11.5 77.6h.6M16.4 67.7h.6M14.5 79.4h.6M21.2 62.7h.6M22.2 69.5h.6M14.0 76.2h.6M22.1 71.5h.6M10.3 81.6h.6M7.0 80.2h.6M13.2 71.7h.6M20.2 72.7h.6M25.4 62.1h.6M5.7 79.5h.6M18.1 64.6h.6M13.1 69.6h.6M5.9 80.9h.6M23.1 58.1h.6M13.7 65.2h.6M6.0 80.6h.6M23.0 67.2h.6M9.3 84.9h.6M6.0 79.9h.6M11.0 80.8h.6M21.1 60.2h.6M8.0 84.7h.6M23.4 63.6h.6M9.9 72.5h.6M5.7 83.1h.6M16.6 70.5h.6M15.3 77.6h.6M13.6 70.1h.6M14.4 71.6h.6M18.3 67.6h.6M20.4 61.4h.6M7.9 78.6h.6M13.3 66.5h.6M13.4 73.8h.6M16.3 65.0h.6M22.2 62.2h.6M18.5 61.0h.6M9.5 80.1h.6M19.3 71.9h.6M22.2 65.1h.6M20.2 63.2h.6M13.5 78.1h.6M18.6 63.2h.6M12.3 71.7h.6M12.0 71.1h.6M16.1 67.2h.6M10.3 76.4h.6M10.6 69.0h.6M15.5 75.0h.6M12.8 72.2h.6M8.8 79.0h.6M6.7 86.2h.6M19.8 68.3h.6M14.7 75.2h.6M16.7 72.8h.6M21.8 64.7h.6M6.2 79.2h.6M8.7 72.3h.6M13.8 80.6h.6M12.2 80.7h.6M23.6 67.9h.6M10.2 69.6h.6M13.3 77.5h.6M12.3 70.4h.6M9.9 80.4h.6M10.5 80.8h.6M21.2 72.3h.6M15.0 66.6h.6M15.5 78.4h.6M13.8 67.5h.6M4.4 86.3h.6M15.1 78.3h.6M16.8 74.3h.6M8.4 77.1h.6M9.1 74.7h.6M19.2 69.3h.6M18.5 70.8h.6M4.7 83.5h.6M16.1 65.8h.6M5.5 79.6h.6M20.1 58.9h.6M10.3 78.1h.6M7.5 78.9h.6M5.8 80.8h.6M23.8 59.3h.6M7.3 79.1h.6M11.5 73.7h.6M24.2 59.4h.6M22.2 64.5h.6M4.9 84.1h.6M12.6 75.2h.6M10.5 70.7h.6M10.5 66.5h.6M8.3 75.9h.6M13.5 77.8h.6M0.9 88.4h.6M6.5 82.4h.6M14.9 75.2h.6M3.7 84.2h.6M10.2 79.1h.6M16.8 81.2h.6M7.4 88.3h.6M10.4 82.1h.6M16.4 61.7h.6M10.2 71.9h.6M12.5 82.0h.6M22.0 67.0h.6M5.5 86.1h.6M12.2 78.1h.6M23.1 64.8h.6M18.4 58.4h.6M11.7 68.6h.6M4.6 82.2h.6M11.5 72.3h.6M8.8 85.5h.6M11.2 80.9h.6M7.9 79.4h.6M5.9 79.8h.6M18.6 73.8h.6M8.0 81.1h.6M6.2 83.4h.6M23.8 62.0h.6M15.6 76.5h.6M10.7 78.3h.6M8.9 86.2h.6M20.7 66.5h.6M16.3 68.1h.6M12.8 73.3h.6M13.3 66.6h.6M2.7 85.4h.6M5.3 76.8h.6M16.9 73.1h.6M19.3 61.1h.6M19.8 64.6h.6M11.9 69.9h.6M11.4 68.8h.6M3.7 83.8h.6M19.7 64.7h.6M3.6 85.3h.6M7.6 85.4h.6M17.4 67.3h.6M20.7 69.2h.6M21.8 67.9h.6M12.6 70.7h.6M7.8 77.3h.6M4.2 78.4h.6M22.6 67.2h.6M21.8 64.3h.6M11.9 77.8h.6M20.0 63.0h.6M16.3 74.9h.6M9.4 76.5h.6M12.9 68.5h.6M7.2 83.6h.6M13.0 72.3h.6M9.5 79.2h.6M19.3 67.8h.6M11.0 70.1h.6M16.9 61.0h.6M19.8 59.8h.6M7.0 76.2h.6M16.1 77.4h.6M22.6 63.4h.6M13.4 69.5h.6M9.1 84.4h.6M2.7 82.2h.6M29.7 60.3h.6M16.1 72.5h.6M4.3 86.0h.6M18.2 77.6h.6M15.9 75.1h.6M17.0 71.2h.6M19.8 60.1h.6M23.6 60.7h.6M5.8 83.7h.6M6.8 79.5h.6M14.0 74.4h.6M28.0 65.5h.6M16.8 72.5h.6M18.8 66.3h.6M15.8 69.0h.6M15.3 72.5h.6M4.2 77.8h.6M25.5 64.1h.6M21.1 66.0h.6M19.5 76.5h.6M5.6 79.7h.6M10.9 80.5h.6M9.9 78.8h.6M10.8 75.8h.6M6.0 78.4h.6M16.7 80.3h.6M15.2 81.0h.6M16.2 72.3h.6M10.2 72.8h.6M22.5 62.5h.6M15.0 66.0h.6M9.3 73.5h.6M13.3 73.2h.6M20.3 73.2h.6M11.6 80.4h.6M12.0 77.1h.6M9.1 75.1h.6M18.2 67.2h.6M10.6 75.4h.6M9.6 77.3h.6M8.6 73.3h.6M17.5 68.0h.6M10.0 74.1h.6M2.2 81.0h.6M17.9 72.3h.6M8.9 83.4h.6M16.1 67.4h.6M16.2 67.8h.6M21.9 66.7h.6M20.8 68.9h.6M9.7 62.0h.6M12.5 78.4h.6M4.9 81.9h.6M25.2 60.8h.6M16.7 77.2h.6M23.2 63.4h.6M11.5 63.4h.6M24.2 59.4h.6M14.3 68.4h.6M14.6 71.2h.6M14.1 66.4h.6M18.1 69.7h.6M17.3 72.1h.6M2.8 81.8h.6M21.1 60.4h.6M10.1 73.9h.6M10.5 71.3h.6M25.5 74.7h.6M20.0 59.6h.6M11.4 60.1h.6M1.0 75.7h.6M14.8 73.7h.6M17.4 74.7h.6M13.1 71.4h.6M5.2 86.5h.6M8.3 73.0h.6M5.1 83.6h.6M15.2 65.4h.6M19.3 59.2h.6M20.7 79.1h.6M8.7 75.3h.6M15.3 75.6h.6M17.5 78.1h.6M10.2 79.7h.6M12.7 75.0h.6M28.2 53.2h.6M15.1 80.9h.6M19.7 60.7h.6M10.7 62.7h.6M14.0 68.7h.6M2.0 79.8h.6M13.5 72.9h.6M21.8 72.7h.6M28.0 56.5h.6M21.9 63.0h.6M18.4 63.9h.6M14.0 56.3h.6M9.6 71.8h.6M12.6 71.0h.6M17.9 59.2h.6M8.3 85.9h.6M20.1 74.1h.6M6.9 81.0h.6M1.5 87.7h.6M6.8 74.5h.6M2.3 84.9h.6M4.3 70.2h.6M21.4 56.3h.6M12.3 69.1h.6M15.2 73.8h.6M21.6 61.7h.6M22.3 59.9h.6M10.2 82.4h.6M22.8 62.4h.6M16.3 65.9h.6M13.7 71.3h.6M16.7 60.2h.6M3.9 73.8h.6M8.3 82.6h.6M12.9 72.6h.6M17.9 74.2h.6M11.1 71.3h.6M12.8 78.9h.6M20.3 61.0h.6M23.3 61.6h.6M18.9 61.9h.6M22.4 65.8h.6M10.9 84.2h.6M11.6 63.5h.6M15.9 71.8h.6M11.6 65.9h.6M10.2 73.1h.6M25.0 58.4h.6M12.3 62.5h.6M7.1 76.5h.6M17.0 61.0h.6M26.2 70.7h.6M14.2 66.7h.6M22.1 66.7h.6M10.7 76.2h.6M10.3 75.6h.6M9.0 74.7h.6M12.7 63.2h.6M26.2 73.0h.6M5.8 79.5h.6M24.9 67.1h.6M6.8 71.6h.6M12.1 76.8h.6M19.4 64.7h.6M18.0 71.3h.6M15.6 66.8h.6M2.4 76.4h.6M16.2 72.9h.6M6.7 78.6h.6M31.3 65.8h.6M12.2 72.1h.6M15.0 66.2h.6M5.8 83.2h.6M10.4 68.6h.6M20.4 78.2h.6M11.9 82.9h.6M17.5 72.3h.6M9.0 76.8h.6M10.3 76.2h.6M22.5 65.2h.6M7.0 74.1h.6M1.4 86.6h.6M16.5 78.1h.6M5.9 87.4h.6M10.7 62.2h.6M19.9 81.8h.6M8.1 78.8h.6M19.7 58.2h.6M9.0 73.8h.6M23.9 68.7h.6M22.7 64.6h.6M10.5 70.2h.6M12.2 66.4h.6M8.0 83.4h.6M15.0 66.7h.6M21.5 64.1h.6M3.8 74.6h.6M20.0 58.4h.6M4.6 82.9h.6M7.8 87.0h.6M1.5 81.1h.6M28.1 48.7h.6M14.1 68.0h.6M15.4 69.7h.6M9.1 61.8h.6M21.0 72.6h.6M13.9 76.1h.6M28.8 58.9h.6M11.1 74.5h.6M13.8 63.1h.6M18.3 74.4h.6M8.1 81.0h.6M13.8 82.5h.6M20.3 63.8h.6M15.0 74.4h.6M16.2 67.8h.6M11.3 81.5h.6M15.8 73.0h.6M14.1 65.9h.6M23.6 64.9h.6M18.6 64.3h.6M12.0 70.9h.6M18.6 78.0h.6M18.8 61.9h.6M7.4 77.2h.6M20.0 77.3h.6M10.5 81.0h.6M15.2 64.8h.6M22.1 61.7h.6M13.6 73.0h.6M13.0 72.5h.6M9.9 71.3h.6M24.8 64.6h.6M21.0 63.7h.6M13.0 72.4h.6M8.3 79.9h.6M17.6 60.7h.6M8.7 79.6h.6M19.8 68.1h.6M16.2 74.3h.6M15.7 73.9h.6M18.1 61.7h.6M17.1 71.3h.6M7.8 84.3h.6M29.7 61.9h.6M10.4 87.0h.6M21.0 61.2h.6M12.6 69.2h.6M8.1 89.6h.6M4.6 75.5h.6M17.3 66.5h.6M20.7 71.3h.6M23.3 59.5h.6M14.0 82.5h.6M20.8 73.8h.6M6.6 88.0h.6M14.8 78.6h.6M9.0 71.3h.6M14.9 79.9h.6M18.8 75.3h.6M21.0 72.1h.6M6.9 77.5h.6M22.3 67.0h.6M10.4 70.2h.6M6.7 83.4h.6M12.5 81.8h.6M3.7 84.8h.6M13.7 72.4h.6M14.0 44.7h.6M18.7 68.6h.6M24.2 47.6h.6M15.2 53.2h.6M18.0 51.4h.6M22.6 40.7h.6M15.0 43.5h.6M14.3 51.4h.6M13.6 39.5h.6M19.5 44.7h.6M20.1 48.8h.6M17.0 45.2h.6M17.9 45.9h.6M22.6 54.2h.6M21.2 55.3h.6M12.5 47.8h.6M17.7 59.7h.6M18.1 62.4h.6M20.4 37.3h.6M16.6 52.3h.6M14.9 48.9h.6M15.6 50.5h.6M11.3 47.5h.6M17.4 48.9h.6M15.0 48.0h.6M19.6 58.7h.6M13.8 39.1h.6M15.8 56.6h.6M14.0 38.2h.6M14.0 65.9h.6M20.3 61.0h.6M15.8 38.5h.6M19.7 51.8h.6M13.4 55.0h.6M18.1 44.7h.6M11.8 57.5h.6M15.4 47.9h.6M15.9 69.0h.6M20.1 55.3h.6M18.4 57.1h.6M16.8 42.8h.6M20.9 41.2h.6M18.4 59.0h.6M19.6 34.4h.6M20.7 56.6h.6M17.4 68.4h.6M16.6 70.5h.6M18.8 34.7h.6M15.6 50.0h.6M19.3 57.2h.6M21.8 58.1h.6M20.8 61.2h.6M16.2 35.6h.6M12.7 48.9h.6M17.4 32.3h.6M16.9 52.0h.6M21.3 71.2h.6M16.0 39.9h.6M16.6 53.7h.6M20.7 52.9h.6M15.9 33.8h.6M16.8 52.7h.6M23.6 40.2h.6M23.2 50.9h.6M20.1 58.2h.6M18.8 43.6h.6M13.8 54.6h.6M19.7 37.6h.6M17.8 39.1h.6M18.8 48.8h.6M15.4 42.1h.6M17.5 42.6h.6M16.6 52.8h.6M18.9 40.0h.6M23.0 53.1h.6M19.1 42.7h.6M11.8 56.7h.6M13.7 47.3h.6M11.9 43.9h.6M14.5 56.8h.6M20.0 54.9h.6M19.3 56.1h.6M15.2 40.9h.6M18.7 57.8h.6M14.5 43.8h.6M12.7 34.0h.6M12.4 44.5h.6M14.6 63.8h.6M22.9 49.5h.6M12.8 38.1h.6M22.4 53.6h.6M22.4 40.0h.6M16.8 41.9h.6M17.3 43.9h.6M14.9 51.6h.6M17.4 55.5h.6M20.4 53.0h.6M17.5 48.1h.6M21.5 44.9h.6M22.2 46.2h.6M19.2 53.5h.6M19.2 48.8h.6M17.2 44.2h.6M18.9 65.4h.6M13.4 55.9h.6M19.2 58.5h.6M18.6 52.4h.6M14.1 51.3h.6M25.0 53.6h.6M13.9 57.1h.6M14.2 41.4h.6M18.9 45.9h.6M11.2 62.1h.6M14.3 48.2h.6M12.2 58.4h.6M14.2 32.5h.6M16.9 54.7h.6M19.0 54.5h.6M22.0 49.5h.6M21.0 52.4h.6M22.2 51.1h.6M19.7 34.9h.6M15.4 45.9h.6M21.8 42.0h.6M15.7 37.2h.6M15.2 58.7h.6M22.8 35.3h.6M20.7 42.7h.6M18.4 39.2h.6M20.5 59.1h.6M21.0 41.7h.6M12.5 43.8h.6M17.1 55.5h.6M13.7 28.1h.6M18.1 42.6h.6M14.7 51.1h.6M22.7 48.6h.6M19.6 40.1h.6M14.5 37.2h.6M17.5 42.3h.6M13.2 36.5h.6M17.7 34.7h.6M19.7 62.2h.6M18.7 55.4h.6M11.0 56.0h.6M15.9 47.5h.6M19.5 35.5h.6M18.9 42.1h.6M21.9 60.6h.6M12.7 50.8h.6M19.6 39.0h.6M14.9 54.3h.6M18.6 50.8h.6M19.4 45.9h.6M20.0 67.0h.6M15.2 40.3h.6M18.4 44.9h.6M13.2 42.3h.6M12.5 57.2h.6M19.8 58.2h.6M17.3 56.2h.6M11.7 45.2h.6M14.1 47.5h.6M17.6 47.1h.6M22.9 34.5h.6M21.4 37.6h.6M20.7 57.7h.6M11.3 53.6h.6M17.2 32.7h.6M19.7 53.6h.6M19.0 35.9h.6M19.1 34.2h.6M16.5 55.3h.6M23.9 53.5h.6M23.1 49.8h.6M17.2 58.6h.6M13.9 58.0h.6M24.7 54.8h.6M15.4 39.6h.6M22.2 55.0h.6M24.4 53.0h.6M13.8 53.1h.6M18.7 63.2h.6M16.3 34.3h.6M19.3 70.7h.6M18.9 57.1h.6M24.4 45.8h.6M19.8 63.6h.6M17.5 42.0h.6M21.7 38.2h.6M16.4 58.2h.6M15.8 46.1h.6M25.1 61.2h.6M14.3 42.9h.6M15.3 47.5h.6M17.7 46.1h.6M13.8 35.2h.6M10.4 43.0h.6M21.4 37.3h.6M14.4 41.7h.6M15.5 60.8h.6M15.8 45.5h.6M13.7 43.1h.6M13.7 61.9h.6M18.2 36.0h.6M25.7 50.8h.6M20.6 45.9h.6M20.5 59.3h.6M12.0 47.0h.6M17.4 45.1h.6M13.0 51.3h.6M20.8 49.1h.6M16.8 68.5h.6M17.7 35.6h.6M17.2 60.8h.6M15.6 68.5h.6M12.2 56.8h.6M19.9 58.8h.6M12.5 42.5h.6M13.2 57.0h.6M16.1 45.2h.6M14.8 58.3h.6M18.5 29.4h.6M21.5 44.5h.6M18.4 31.2h.6M18.3 60.2h.6M17.6 41.5h.6M20.9 59.9h.6M11.1 42.1h.6M19.1 42.0h.6M14.3 63.4h.6M13.1 58.9h.6M17.6 61.3h.6M16.1 63.6h.6M19.9 57.8h.6M21.7 59.9h.6M10.0 59.8h.6M17.0 47.5h.6M24.4 46.0h.6M20.8 63.0h.6M22.9 56.2h.6M18.1 49.1h.6M12.3 50.1h.6M13.3 55.1h.6M20.4 41.4h.6M21.2 41.6h.6M14.6 41.3h.6M16.2 51.6h.6M18.5 31.1h.6M11.7 32.3h.6M15.9 53.6h.6M23.5 52.0h.6M24.9 40.6h.6M17.1 58.1h.6M24.1 47.3h.6M15.2 48.1h.6M14.4 55.8h.6M10.0 49.4h.6M21.0 65.1h.6M15.9 55.1h.6M25.1 68.4h.6M18.7 29.0h.6M18.3 34.7h.6M11.4 36.5h.6M23.1 47.8h.6M16.1 38.4h.6M16.9 36.2h.6M10.2 38.3h.6M21.1 40.9h.6M21.3 59.6h.6M15.0 43.8h.6M17.9 55.9h.6M19.1 61.8h.6M21.2 61.6h.6M18.0 44.0h.6M23.6 41.1h.6M16.7 62.8h.6M15.4 32.3h.6M15.9 34.5h.6M9.2 50.5h.6M14.3 53.4h.6M21.6 51.2h.6M18.6 39.2h.6M14.2 52.6h.6M18.9 61.2h.6M10.6 44.3h.6M16.6 68.1h.6M20.0 48.3h.6M20.2 38.4h.6M14.4 45.2h.6M21.1 42.2h.6M24.2 46.5h.6M15.8 40.9h.6M20.7 48.6h.6M12.0 55.8h.6M10.7 49.7h.6M20.3 51.0h.6M17.7 36.6h.6M18.3 33.8h.6M15.1 44.0h.6M16.3 57.4h.6M20.8 58.0h.6M23.8 52.9h.6M16.8 35.3h.6M11.7 44.6h.6M22.5 51.3h.6M20.0 58.3h.6M20.3 40.8h.6M18.4 45.7h.6M25.5 52.0h.6M17.9 47.8h.6M19.4 33.8h.6M11.1 49.2h.6M15.5 32.8h.6M15.0 36.4h.6M17.3 48.4h.6M19.0 40.2h.6M14.4 49.9h.6M23.7 58.8h.6M13.4 51.1h.6M15.8 58.5h.6M18.6 43.5h.6M12.8 48.0h.6M20.0 43.6h.6M20.1 41.3h.6M16.7 75.7h.6M24.4 48.3h.6M17.9 66.6h.6M19.0 47.5h.6M13.9 57.3h.6M11.6 46.8h.6M15.3 35.4h.6M16.4 65.4h.6M15.5 46.5h.6M20.9 51.2h.6M10.0 63.5h.6M13.3 41.7h.6M11.1 47.4h.6M22.6 55.8h.6M15.3 56.6h.6M16.0 21.9h.6M13.3 52.3h.6M20.8 67.0h.6M15.9 58.8h.6M18.6 54.4h.6M10.6 51.1h.6M22.2 51.4h.6M19.1 60.8h.6M19.9 43.9h.6M22.3 55.6h.6M16.9 62.8h.6M16.9 58.2h.6M20.6 54.5h.6M19.3 40.7h.6M16.5 43.3h.6M17.8 53.9h.6M15.3 48.5h.6M20.7 47.8h.6M20.8 31.7h.6M17.6 56.7h.6M24.3 46.8h.6M12.1 41.0h.6M16.6 59.3h.6M23.8 49.2h.6M15.6 46.9h.6M11.8 52.4h.6M22.8 45.2h.6M19.7 39.3h.6M13.3 37.4h.6M20.9 52.4h.6M13.5 46.3h.6M13.2 27.7h.6M17.0 60.8h.6M15.4 46.2h.6M13.5 39.5h.6M15.8 47.0h.6M13.7 41.7h.6M17.9 46.8h.6M17.5 40.9h.6M20.4 37.4h.6M15.5 51.5h.6M12.6 46.1h.6M12.6 48.6h.6M16.4 54.0h.6M23.3 51.1h.6M20.8 61.6h.6M15.0 40.8h.6M20.9 34.3h.6M13.6 32.6h.6M21.3 38.0h.6M16.1 59.2h.6M20.4 35.5h.6M20.1 57.9h.6M16.2 49.7h.6M18.8 32.3h.6M13.7 58.8h.6M17.3 40.0h.6M21.9 47.6h.6M30.1 54.0h.6M20.4 59.3h.6M18.0 44.1h.6M13.6 53.2h.6M21.6 40.1h.6M11.9 36.6h.6M14.7 62.0h.6M19.2 55.8h.6M13.0 51.4h.6M23.1 62.0h.6M21.7 61.4h.6M15.1 47.7h.6M15.1 51.2h.6M13.1 63.3h.6M12.4 53.3h.6M19.5 43.9h.6M20.0 62.2h.6M19.0 59.7h.6M18.6 34.2h.6M15.5 35.8h.6M18.9 65.4h.6M12.5 60.5h.6M17.6 44.5h.6M22.9 62.0h.6M22.7 53.3h.6M15.6 54.1h.6M16.1 42.5h.6M22.1 72.5h.6M23.5 70.1h.6M12.4 59.4h.6M15.9 38.4h.6M18.8 51.9h.6M21.9 66.3h.6M14.2 43.3h.6M20.2 42.4h.6M16.1 52.1h.6M25.7 54.5h.6M19.5 44.7h.6M17.1 36.9h.6M16.0 47.0h.6M21.8 45.0h.6M20.6 50.8h.6M13.4 52.2h.6M18.5 59.6h.6M12.6 45.5h.6M14.5 51.9h.6M12.7 50.5h.6M12.8 39.1h.6M14.8 43.3h.6M13.9 39.7h.6M19.5 65.1h.6M20.9 44.2h.6M16.5 56.0h.6M13.4 56.3h.6M20.8 59.1h.6M10.8 36.7h.6M10.9 40.0h.6M20.5 57.9h.6M20.1 61.6h.6M21.6 50.3h.6M16.6 54.7h.6M13.2 33.0h.6M15.7 63.2h.6M19.6 67.1h.6M14.4 51.4h.6M14.6 48.5h.6M12.4 46.7h.6M13.2 40.7h.6M20.5 31.3h.6M19.7 54.1h.6M13.2 53.7h.6M13.9 64.6h.6M15.1 45.9h.6M19.8 40.9h.6M13.1 50.9h.6M17.0 37.1h.6M10.2 47.2h.6M13.2 34.1h.6M19.5 45.8h.6M21.0 60.9h.6M13.2 54.6h.6M14.8 63.3h.6M20.5 66.5h.6M15.8 45.7h.6M15.4 39.6h.6M19.5 31.7h.6M18.7 50.5h.6M22.0 53.1h.6M20.6 61.4h.6M15.4 38.6h.6M17.0 44.3h.6M17.3 56.4h.6M12.6 41.3h.6M13.8 42.6h.6M21.0 67.5h.6M11.9 40.8h.6M21.7 49.0h.6M18.9 54.6h.6M16.9 54.4h.6M19.6 33.4h.6M19.4 34.9h.6M21.8 33.8h.6M16.1 60.8h.6M16.6 56.6h.6M16.6 39.4h.6M24.1 62.2h.6M21.3 57.9h.6M14.4 65.2h.6M16.5 31.7h.6M14.9 37.9h.6M17.7 43.7h.6M18.7 46.7h.6M25.5 55.3h.6M11.2 51.4h.6M21.6 44.1h.6M19.4 57.8h.6M15.0 36.5h.6M16.9 55.2h.6M15.6 58.2h.6M17.8 36.3h.6M21.7 52.0h.6M12.1 42.6h.6M22.6 54.9h.6M16.4 69.4h.6M23.2 45.5h.6M19.2 63.3h.6M22.2 40.1h.6M19.7 65.0h.6M21.4 67.5h.6M17.9 45.3h.6M14.3 43.9h.6M20.6 49.0h.6M20.3 62.3h.6M24.9 43.3h.6M10.9 60.6h.6M16.7 54.8h.6M21.7 58.5h.6M12.9 51.9h.6M16.7 39.8h.6M25.0 57.2h.6M22.9 45.3h.6M14.2 41.3h.6M22.6 66.3h.6M22.0 61.9h.6M20.9 54.5h.6M19.3 56.7h.6M18.8 45.7h.6M14.7 66.3h.6M15.5 41.0h.6M20.6 42.3h.6M18.4 52.1h.6M24.0 63.6h.6M16.0 48.9h.6M9.6 52.1h.6M16.2 42.5h.6M19.1 51.0h.6M19.3 41.7h.6M18.0 55.0h.6M14.7 34.7h.6M22.6 70.9h.6M15.1 59.1h.6M20.6 44.8h.6M16.6 63.9h.6M13.2 40.9h.6M22.7 62.3h.6M9.3 46.4h.6M14.4 57.9h.6M19.6 55.2h.6M16.0 46.7h.6M20.9 51.5h.6M17.2 54.2h.6M16.1 29.4h.6M25.2 51.3h.6M16.8 59.5h.6M17.0 39.2h.6M13.6 40.1h.6M14.9 36.5h.6M20.0 33.2h.6M19.9 59.9h.6M17.7 38.2h.6M15.0 37.3h.6M20.7 50.2h.6M11.6 45.4h.6M16.6 74.8h.6M16.6 55.8h.6M14.7 32.0h.6M18.3 66.6h.6M14.9 54.6h.6M14.4 45.4h.6M24.1 45.7h.6M20.4 34.6h.6M21.9 66.7h.6M18.0 48.7h.6M21.4 41.7h.6M20.6 63.1h.6M22.4 51.1h.6M25.4 35.3h.6M16.9 35.9h.6M18.9 43.3h.6M17.6 72.4h.6M6.8 47.6h.6M12.5 44.2h.6M17.8 53.6h.6M20.5 51.0h.6M15.9 22.8h.6M22.2 52.9h.6M22.5 60.1h.6M15.8 45.9h.6M23.1 54.0h.6M24.0 54.1h.6M19.9 51.1h.6M14.0 40.5h.6M23.2 48.6h.6M17.1 61.6h.6M15.9 50.7h.6M18.3 43.7h.6M15.5 54.2h.6M21.7 39.3h.6M20.8 42.1h.6M22.3 60.3h.6M20.3 46.4h.6M15.0 30.5h.6M17.2 34.1h.6M21.4 51.0h.6M16.1 39.4h.6M27.2 57.7h.6M16.9 63.5h.6M15.3 42.6h.6M22.3 48.1h.6M20.8 44.7h.6M17.6 49.9h.6M16.7 45.0h.6M19.6 55.9h.6M21.2 45.3h.6M20.8 41.6h.6M16.2 49.8h.6M19.5 41.1h.6M20.7 66.8h.6M20.8 58.5h.6M8.1 34.8h.6M14.7 32.2h.6M14.5 45.8h.6M16.6 50.6h.6M18.5 62.5h.6M21.5 46.6h.6M20.3 41.8h.6M17.3 63.9h.6M17.9 42.8h.6M24.1 46.5h.6M15.2 43.8h.6M19.0 61.4h.6M23.5 45.7h.6M25.4 32.9h.6M14.3 27.8h.6M0.9 24.8h.6M25.5 24.5h.6M23.8 27.3h.6M4.7 19.8h.6M29.9 9.0h.6M2.0 22.9h.6M17.1 23.7h.6M24.2 25.4h.6M21.4 7.0h.6M11.7 14.3h.6M12.4 13.0h.6M2.0 28.5h.6M17.2 23.8h.6M1.2 19.3h.6M2.2 20.2h.6M7.8 30.8h.6M0.9 28.9h.6M26.9 16.7h.6M6.3 39.2h.6M7.8 20.3h.6M12.6 8.6h.6M20.9 28.4h.6M21.7 18.8h.6M9.7 35.3h.6M8.3 12.2h.6M12.9 33.0h.6M20.2 33.3h.6M20.5 25.2h.6M8.3 1.8h.6M29.8 31.7h.6M22.5 16.6h.6M16.4 18.2h.6M15.7 6.1h.6M7.5 33.8h.6M3.8 35.6h.6M8.1 25.8h.6M9.5 16.3h.6M5.2 17.3h.6M9.6 35.6h.6M18.6 30.3h.6M6.2 23.3h.6M12.8 11.9h.6M9.8 27.2h.6M11.3 32.3h.6M1.0 13.0h.6M3.5 23.5h.6M17.0 6.4h.6M8.4 33.5h.6M19.5 27.6h.6M8.7 29.4h.6M11.6 31.2h.6M8.6 28.2h.6M20.4 22.2h.6M7.1 27.0h.6M8.0 13.8h.6M22.0 22.4h.6M24.3 21.5h.6M19.5 7.7h.6M23.3 18.2h.6M18.6 19.5h.6M21.4 21.7h.6M22.2 20.8h.6M17.4 14.6h.6M13.2 30.6h.6M14.0 9.6h.6M31.2 9.1h.6M12.7 9.5h.6M9.6 27.8h.6M9.2 36.2h.6M12.1 27.5h.6M16.4 19.2h.6M1.6 13.4h.6M16.5 25.7h.6M15.5 29.4h.6M14.0 10.1h.6M23.5 12.8h.6M26.6 32.8h.6M17.5 17.8h.6M6.3 27.9h.6M1.6 30.4h.6M5.7 37.5h.6M12.9 36.1h.6M13.6 27.0h.6M12.3 17.2h.6M18.9 32.1h.6M8.1 25.8h.6M14.1 25.7h.6M5.9 35.5h.6M8.4 36.6h.6M14.8 19.0h.6M26.3 29.8h.6M15.3 23.4h.6M16.8 13.7h.6M4.1 5.5h.6M25.5 29.6h.6M4.3 14.8h.6M19.2 3.5h.6M14.7 20.4h.6M3.9 8.0h.6M20.6 41.8h.6M12.7 7.4h.6M15.7 21.9h.6M16.5 37.9h.6M12.3 12.4h.6M8.6 10.5h.6M17.2 9.3h.6M8.5 9.3h.6M14.0 22.5h.6M5.5 29.5h.6M4.5 21.9h.6M6.5 16.5h.6M12.7 27.9h.6M24.5 21.0h.6M14.5 16.7h.6M3.9 3.5h.6M7.5 32.9h.6M14.1 33.3h.6M13.5 14.4h.6M11.3 32.1h.6M4.7 31.8h.6M30.6 23.7h.6M10.7 12.2h.6M3.2 25.4h.6M27.7 24.7h.6M18.9 11.8h.6M7.9 15.5h.6M24.3 16.9h.6M14.2 11.0h.6M19.0 31.7h.6M16.1 18.3h.6M2.3 27.9h.6M21.9 11.4h.6M14.4 12.1h.6M3.0 31.5h.6M5.4 8.7h.6M21.5 32.5h.6M8.8 9.5h.6M13.4 18.0h.6M19.3 30.6h.6M13.8 33.0h.6M20.3 21.8h.6M22.0 28.7h.6M21.7 15.5h.6M26.2 33.4h.6M17.8 21.7h.6M21.4 21.5h.6M25.4 36.8h.6M8.5 17.2h.6M27.2 32.2h.6M25.7 40.6h.6M20.8 28.1h.6M28.7 23.5h.6M21.1 12.3h.6M3.3 26.7h.6M22.6 8.2h.6M15.7 7.5h.6M16.8 10.1h.6M14.1 8.2h.6M25.6 18.0h.6M18.8 27.9h.6M5.0 14.3h.6M17.6 11.2h.6M20.9 18.7h.6M4.2 24.4h.6M8.6 36.0h.6M8.1 13.6h.6M5.3 17.3h.6M15.9 34.3h.6M23.3 20.4h.6M28.8 15.1h.6M24.5 22.6h.6M22.6 13.6h.6M23.6 14.0h.6M24.0 34.4h.6M7.6 25.6h.6M20.3 16.0h.6M16.0 11.4h.6M11.3 7.6h.6M8.6 38.3h.6M6.0 22.4h.6M9.4 13.0h.6M1.4 10.2h.6M17.2 6.0h.6M12.3 31.7h.6M14.0 26.8h.6M16.0 32.5h.6M20.1 12.8h.6M6.9 34.2h.6M11.5 9.2h.6M26.5 27.7h.6M17.0 35.0h.6M26.4 23.7h.6M6.5 23.0h.6M26.9 13.4h.6M28.8 18.9h.6M22.6 18.5h.6M31.8 25.1h.6M20.1 21.5h.6M4.1 23.1h.6M18.3 13.3h.6M6.7 24.0h.6M1.8 36.0h.6M31.0 11.7h.6M5.8 23.7h.6M12.4 9.6h.6M4.7 20.5h.6M14.2 11.7h.6M10.4 7.1h.6M7.8 28.2h.6M4.1 19.1h.6M15.3 36.5h.6M30.3 22.9h.6M23.5 24.1h.6M28.3 28.3h.6M18.9 24.1h.6M11.9 36.1h.6M1.1 9.0h.6M12.8 15.3h.6M9.5 31.1h.6M26.6 31.6h.6M17.3 17.7h.6M22.4 36.0h.6M7.5 18.4h.6M6.8 25.8h.6M7.4 18.1h.6M24.8 21.0h.6M28.3 6.5h.6M4.8 14.6h.6M9.3 34.2h.6M11.2 10.8h.6M9.4 34.6h.6M13.7 34.0h.6M16.7 30.7h.6M16.5 8.5h.6M1.0 27.1h.6M11.5 29.4h.6M22.5 24.9h.6M3.6 8.2h.6M10.1 33.5h.6M8.4 33.8h.6M6.2 14.8h.6M3.5 35.7h.6M27.6 11.7h.6M16.9 21.7h.6M16.2 27.7h.6M30.2 27.5h.6M11.8 31.7h.6M19.0 28.3h.6M13.6 19.1h.6M23.5 10.1h.6M18.1 11.3h.6M16.6 28.5h.6M10.0 30.1h.6M16.2 13.4h.6M22.5 37.0h.6M11.2 26.5h.6M8.7 33.0h.6M9.7 32.2h.6M19.3 36.5h.6M4.5 30.9h.6M10.3 29.5h.6M6.3 20.8h.6M8.3 10.3h.6M2.8 24.6h.6M8.9 26.7h.6M12.9 29.9h.6M13.5 32.3h.6M11.5 9.7h.6M30.8 19.9h.6M18.7 23.4h.6M1.4 12.2h.6M6.3 29.6h.6M5.6 14.7h.6M9.8 21.9h.6M6.7 31.2h.6M4.0 13.8h.6M26.5 34.3h.6M13.5 13.7h.6M9.3 31.5h.6M9.5 16.3h.6M10.7 8.1h.6M25.9 16.4h.6M18.3 28.8h.6M24.3 22.2h.6M16.1 33.6h.6M22.6 32.2h.6M29.8 21.4h.6M13.4 14.9h.6M20.1 23.0h.6M5.9 16.0h.6M6.7 32.1h.6M22.9 12.0h.6M23.6 32.9h.6M20.7 15.0h.6M3.6 7.5h.6M31.4 37.1h.6M1.0 19.4h.6M11.9 17.3h.6M25.0 29.1h.6M18.4 26.1h.6M20.9 34.7h.6M15.0 20.3h.6M12.1 15.0h.6M15.0 29.9h.6M23.0 26.9h.6M22.8 22.2h.6M7.4 21.6h.6M13.0 24.6h.6M17.5 21.5h.6M26.2 33.2h.6M16.2 43.4h.6M13.6 14.3h.6M8.0 8.2h.6M6.5 29.5h.6M14.4 17.8h.6M10.2 11.6h.6M14.0 14.1h.6M20.1 9.7h.6M18.8 23.2h.6M16.9 16.8h.6M20.6 17.5h.6M15.4 27.9h.6M12.7 9.6h.6M18.5 15.0h.6M25.0 25.9h.6M1.0 12.4h.6M20.9 32.2h.6M13.5 16.6h.6M21.4 42.3h.6M13.4 32.7h.6M3.3 14.5h.6M23.7 26.7h.6M16.3 20.0h.6M14.1 36.9h.6M13.8 7.2h.6M23.2 16.1h.6M22.1 22.6h.6M16.4 16.8h.6M9.1 8.3h.6M15.3 19.2h.6M27.6 34.1h.6M18.0 25.7h.6M12.1 9.1h.6M24.7 16.6h.6M11.8 28.0h.6M12.9 14.5h.6M16.1 20.9h.6M21.3 36.0h.6M17.5 31.6h.6M9.7 14.1h.6M1.4 24.5h.6M16.4 17.5h.6M24.5 5.7h.6M5.7 26.1h.6M1.9 19.7h.6M17.9 28.7h.6M8.9 35.7h.6M7.3 39.7h.6M10.4 8.5h.6M6.2 23.8h.6M16.6 10.5h.6M9.6 20.8h.6M5.6 20.6h.6M7.8 14.4h.6M20.0 14.4h.6M21.8 33.2h.6M21.7 10.6h.6M19.9 31.8h.6M5.0 1.4h.6M8.5 21.5h.6M15.0 6.5h.6M26.3 16.4h.6M17.7 21.9h.6M5.7 17.3h.6M14.9 31.5h.6M9.5 31.9h.6M4.4 18.4h.6M17.6 36.3h.6M8.4 31.2h.6M6.3 29.0h.6M12.0 31.8h.6M3.1 32.5h.6M25.4 20.7h.6M2.0 26.0h.6M28.6 20.7h.6M22.7 24.2h.6M4.9 5.8h.6M15.0 28.0h.6M22.7 38.1h.6M10.0 20.9h.6M1.0 22.2h.6M15.6 20.2h.6M28.8 34.8h.6M20.1 22.8h.6M13.9 23.8h.6M12.1 36.6h.6M8.3 16.2h.6M8.7 23.7h.6M22.6 9.7h.6M20.0 27.0h.6M4.0 33.5h.6M27.4 20.9h.6M1.2 30.6h.6M20.8 17.6h.6M15.1 33.2h.6M25.0 23.4h.6M18.0 25.4h.6M24.0 22.5h.6M13.1 28.8h.6M22.6 30.0h.6M18.2 23.3h.6M30.8 26.8h.6M4.9 20.5h.6M24.9 24.8h.6M16.9 40.5h.6M16.3 23.7h.6M7.7 8.6h.6M19.1 18.6h.6M21.0 27.3h.6M26.3 14.7h.6M10.4 10.9h.6M16.6 15.3h.6M14.7 16.5h.6M18.7 17.5h.6M9.2 23.3h.6M8.2 18.6h.6M11.5 23.0h.6M24.0 18.9h.6M23.7 30.8h.6M25.1 28.0h.6M17.9 15.5h.6M10.8 27.1h.6M20.9 20.9h.6M19.9 40.4h.6M9.6 5.1h.6M21.7 14.7h.6M25.4 15.8h.6M14.5 29.9h.6M22.9 32.3h.6M17.6 25.2h.6M8.2 30.5h.6M7.6 20.3h.6M19.3 14.6h.6M4.0 15.8h.6M8.9 32.6h.6M5.3 39.6h.6M13.4 23.1h.6M14.2 29.8h.6M23.4 17.6h.6M20.4 7.4h.6M14.8 6.8h.6M17.1 18.4h.6M14.5 10.5h.6M14.3 6.8h.6M27.4 21.6h.6M11.4 12.4h.6M17.9 22.9h.6M24.3 26.8h.6M2.6 29.3h.6M18.3 22.3h.6M22.1 28.3h.6M8.3 13.1h.6M9.8 8.0h.6M2.1 10.9h.6M19.4 33.5h.6M4.8 11.4h.6M28.7 25.4h.6M14.7 8.6h.6M4.4 16.4h.6M6.8 22.9h.6M2.3 15.3h.6M17.9 28.4h.6M27.0 18.9h.6M10.5 16.7h.6M23.1 23.5h.6M3.1 17.9h.6M16.5 32.1h.6M31.9 17.3h.6M0.8 32.4h.6M25.1 16.0h.6M24.8 17.4h.6M23.4 24.2h.6M7.5 20.0h.6M11.5 30.4h.6M19.9 8.7h.6M15.0 27.9h.6M15.8 11.3h.6M9.9 31.7h.6M24.5 18.8h.6M4.6 26.0h.6M27.8 13.8h.6M9.0 25.9h.6M5.2 30.4h.6M20.7 16.8h.6M17.7 33.2h.6M16.0 13.1h.6M1.9 36.9h.6M4.6 13.9h.6M21.8 26.0h.6M4.7 30.7h.6M18.3 18.7h.6M8.8 14.3h.6M29.6 26.5h.6M12.2 24.9h.6M1.8 14.0h.6M2.3 14.3h.6M3.2 22.3h.6M14.8 30.2h.6M13.3 31.6h.6M23.0 27.5h.6M15.4 13.7h.6M15.1 14.5h.6M17.8 17.8h.6M11.9 8.2h.6M17.3 25.6h.6M21.7 25.6h.6M21.7 25.7h.6M8.3 5.0h.6M4.1 18.4h.6M17.0 16.0h.6M9.1 2.4h.6M17.7 10.0h.6M7.0 13.2h.6M2.4 29.9h.6M28.5 17.2h.6M26.1 24.9h.6M9.1 20.9h.6M25.8 19.6h.6M25.4 25.9h.6M1.8 15.3h.6M33.2 9.4h.6M3.9 11.5h.6M9.3 18.3h.6M3.8 37.3h.6M14.0 10.2h.6M1.0 11.7h.6M13.4 24.7h.6M23.9 26.0h.6M15.8 13.7h.6M10.2 30.3h.6M26.9 14.4h.6M4.4 31.5h.6M22.4 30.0h.6M8.5 21.2h.6M15.1 34.8h.6M14.4 21.5h.6M14.9 14.7h.6M12.5 33.9h.6M5.1 12.1h.6M6.6 27.6h.6M18.3 15.0h.6M11.5 17.8h.6M1.4 25.7h.6M5.2 27.0h.6M6.7 36.1h.6M12.4 29.4h.6M15.1 29.8h.6M13.8 6.4h.6M6.3 11.2h.6M13.1 34.3h.6M12.3 26.6h.6M3.4 13.5h.6M1.1 26.6h.6M20.3 24.4h.6M0.7 19.6h.6M15.9 31.4h.6M6.6 18.9h.6M17.9 30.0h.6M18.0 17.4h.6M20.7 12.6h.6M28.8 18.4h.6M15.8 30.4h.6M16.1 12.9h.6M10.8 18.3h.6M14.2 14.0h.6M9.2 9.7h.6M3.8 29.9h.6M29.8 22.3h.6M15.5 30.5h.6M16.5 4.3h.6M14.4 11.3h.6M4.3 36.1h.6M10.1 15.6h.6M7.2 27.6h.6M2.6 10.8h.6M11.8 19.4h.6M7.1 23.5h.6M5.7 19.5h.6M20.4 17.0h.6M1.6 20.9h.6M18.4 24.0h.6M5.1 22.8h.6M17.7 15.2h.6M13.3 32.5h.6M16.5 21.2h.6M2.1 22.4h.6M4.1 26.3h.6M3.7 13.9h.6M14.3 33.6h.6M20.9 25.1h.6M23.0 29.1h.6M6.6 15.0h.6M13.6 27.3h.6M4.7 35.0h.6M4.9 16.2h.6M19.2 22.6h.6M4.2 13.2h.6M30.4 8.0h.6M15.2 18.4h.6M8.4 27.0h.6M20.0 26.6h.6M4.3 14.5h.6M25.7 8.2h.6M10.2 17.1h.6M3.7 18.4h.6M25.9 20.9h.6M6.5 40.9h.6M15.3 27.7h.6M18.0 10.8h.6M22.9 19.0h.6M15.2 39.2h.6M30.8 21.1h.6M8.1 37.0h.6M13.8 4.3h.6M21.7 19.1h.6M9.0 32.9h.6M8.9 12.5h.6M7.1 29.5h.6M5.0 15.2h.6M0.8 20.9h.6M6.7 32.4h.6M15.9 33.8h.6M29.9 20.7h.6M27.0 29.8h.6M21.7 36.2h.6M10.2 6.6h.6M6.7 8.0h.6M23.3 32.2h.6M13.8 6.4h.6M19.1 19.1h.6M3.9 23.6h.6M23.3 22.0h.6M3.3 24.0h.6M13.1 7.8h.6M6.4 36.8h.6M16.4 3.8h.6M7.2 12.1h.6M7.5 31.9h.6M20.9 25.0h.6M11.2 30.8h.6M24.5 20.7h.6M19.0 18.3h.6M17.9 27.9h.6M21.8 22.2h.6M3.4 3.4h.6M5.3 29.4h.6M18.5 12.9h.6M7.1 20.5h.6M17.3 29.4h.6M4.1 9.0h.6M16.4 19.3h.6M22.5 29.6h.6M16.3 25.4h.6M18.4 32.7h.6M12.6 8.1h.6M2.8 14.5h.6M25.4 23.8h.6M27.2 7.5h.6M5.0 14.8h.6M26.7 19.6h.6M11.7 5.1h.6M13.0 31.0h.6M16.6 24.1h.6M18.8 23.8h.6M22.9 25.3h.6M4.0 34.2h.6M17.2 11.8h.6M20.6 20.2h.6M7.8 19.8h.6M3.5 8.7h.6M2.3 26.7h.6M20.7 21.8h.6M21.0 18.1h.6M3.1 25.6h.6M23.9 14.0h.6M13.6 8.4h.6M3.7 28.6h.6M13.2 34.6h.6M8.7 23.0h.6M25.4 27.5h.6M30.2 10.6h.6M9.7 12.8h.6M22.5 16.0h.6M21.0 5.8h.6M7.1 8.0h.6M3.2 14.1h.6M26.6 27.2h.6M8.5 34.5h.6M10.7 21.8h.6M8.0 25.7h.6M10.3 28.8h.6M4.8 24.5h.6M18.8 35.7h.6M23.1 8.4h.6M8.2 32.4h.6M12.5 14.1h.6M5.4 12.0h.6M23.6 12.5h.6M31.2 23.7h.6M15.8 32.1h.6M1.3 25.8h.6M18.8 36.9h.6M3.9 20.6h.6M25.9 27.7h.6M19.6 30.3h.6M20.1 32.9h.6M11.2 28.2h.6M6.8 36.4h.6M16.7 13.5h.6M5.0 19.3h.6M21.2 22.5h.6M4.6 26.0h.6M2.1 28.0h.6M14.3 35.9h.6M3.7 13.6h.6M19.5 18.2h.6M8.5 27.3h.6M22.5 29.7h.6M8.0 10.5h.6M6.4 5.3h.6M1.2 16.0h.6M18.4 6.0h.6M35.2 25.8h.6M2.5 32.2h.6M16.7 23.3h.6M18.3 22.3h.6M4.4 25.7h.6M12.8 29.7h.6M9.1 34.0h.6M20.9 30.6h.6M26.8 15.5h.6M9.7 27.5h.6M9.1 30.4h.6M17.1 13.7h.6M23.1 15.6h.6M17.3 29.4h.6M4.0 27.7h.6M16.1 13.5h.6M22.2 17.3h.6M4.7 29.6h.6M18.6 21.5h.6M15.7 9.9h.6M21.6 29.6h.6M12.9 11.5h.6M4.7 16.4h.6M7.5 31.4h.6M2.4 11.4h.6M2.8 12.4h.6M6.7 33.6h.6M7.9 4.3h.6M22.4 31.7h.6M0.7 29.6h.6M11.1 25.9h.6M5.7 13.1h.6M25.9 15.8h.6M16.0 22.7h.6M8.5 8.2h.6M21.0 16.7h.6M12.7 7.8h.6M26.4 19.4h.6M17.8 41.5h.6M27.6 25.2h.6M22.9 31.1h.6M21.0 20.1h.6M14.2 19.3h.6M2.2 32.3h.6M19.0 32.4h.6M12.9 25.3h.6M20.1 23.5h.6M12.1 41.9h.6M5.2 11.5h.6M1.6 20.8h.6M20.4 21.3h.6M24.8 18.3h.6M9.1 31.8h.6M18.2 21.9h.6M24.6 11.8h.6M4.1 10.8h.6M7.8 15.4h.6M0.9 24.0h.6M23.4 29.0h.6M14.7 8.3h.6M6.7 15.0h.6M10.7 39.5h.6M21.9 29.7h.6M9.6 38.0h.6M8.0 8.9h.6M19.8 18.9h.6M12.7 25.5h.6M4.8 9.6h.6M4.5 33.7h.6M15.9 23.3h.6M11.2 33.6h.6M10.1 36.8h.6M15.3 18.3h.6M14.0 1.2h.6M4.0 7.2h.6M4.3 20.6h.6M17.7 26.0h.6M23.6 19.1h.6M24.4 11.6h.6M4.6 34.6h.6M21.4 37.2h.6M18.7 4.7h.6M11.5 16.8h.6M16.6 6.3h.6M21.4 18.5h.6M27.0 8.7h.6M1.8 27.3h.6M19.0 15.3h.6M10.9 6.5h.6M10.0 10.3h.6M23.6 25.9h.6M20.4 12.0h.6M2.2 27.9h.6M9.6 34.9h.6M15.0 14.4h.6M20.9 12.4h.6M11.5 33.9h.6M14.0 11.4h.6M16.0 13.1h.6M28.1 25.3h.6M12.6 41.7h.6M8.5 10.4h.6M27.3 13.3h.6M6.4 15.2h.6M7.6 36.9h.6M22.4 11.3h.6M15.2 12.0h.6M17.8 15.1h.6M14.6 25.1h.6M10.3 15.6h.6M3.9 27.1h.6M3.6 24.7h.6M16.8 30.7h.6M14.0 17.0h.6M27.0 25.1h.6M4.8 11.4h.6M6.9 13.0h.6M2.4 29.3h.6M23.6 5.5h.6M1.2 31.6h.6M20.7 16.0h.6M25.0 11.2h.6M10.9 8.2h.6M18.2 39.9h.6M8.5 8.8h.6M13.7 40.2h.6M12.3 29.5h.6M3.6 22.3h.6M22.1 26.0h.6M15.7 7.9h.6M6.5 28.9h.6M7.4 8.9h.6M10.6 35.3h.6M29.6 29.6h.6M4.5 26.5h.6M18.0 19.8h.6M6.8 10.7h.6M21.3 23.3h.6M16.9 11.2h.6M10.2 36.1h.6M6.1 25.4h.6M24.0 16.5h.6M8.9 26.2h.6M18.6 31.7h.6M6.5 15.9h.6M18.0 22.6h.6M15.9 29.7h.6M6.3 30.3h.6M9.2 3.7h.6M16.7 21.8h.6M5.8 14.2h.6M15.7 8.7h.6M10.2 9.7h.6M10.8 10.6h.6M6.1 12.1h.6M3.5 15.8h.6M16.4 10.4h.6M6.7 27.8h.6M19.1 22.2h.6M23.2 26.6h.6M13.9 12.2h.6M4.2 16.6h.6M21.0 32.0h.6M8.3 23.1h.6M3.6 25.2h.6M10.5 23.3h.6M18.8 19.4h.6M16.1 24.1h.6M20.0 23.9h.6M5.6 38.9h.6M9.6 9.6h.6M9.3 28.8h.6M11.9 25.2h.6M9.9 10.3h.6M25.4 16.2h.6M25.8 10.6h.6M26.0 7.2h.6M20.0 9.5h.6M6.9 13.9h.6M21.2 32.7h.6M10.4 8.1h.6M18.2 9.2h.6M3.5 12.6h.6M6.2 12.4h.6M18.5 20.1h.6M27.9 25.8h.6M12.1 9.6h.6M30.2 10.6h.6M33.4 29.4h.6M11.8 17.0h.6M3.2 12.2h.6M10.2 16.8h.6M7.1 9.7h.6M11.7 10.0h.6M21.7 12.1h.6M20.9 34.0h.6M15.2 11.7h.6M12.2 19.6h.6M13.6 32.9h.6M13.8 12.5h.6M17.8 34.3h.6M12.4 11.0h.6M16.8 5.5h.6M20.2 11.5h.6M27.8 16.9h.6M14.5 13.0h.6M25.0 15.1h.6M7.7 18.9h.6M8.8 20.7h.6M18.3 9.8h.6M17.4 17.1h.6M24.2 14.3h.6M18.2 7.8h.6M14.3 17.7h.6M1.2 18.5h.6M14.6 14.1h.6M19.9 26.9h.6M2.5 13.1h.6M6.6 8.9h.6M18.6 21.9h.6M10.1 32.5h.6M15.7 15.9h.6M7.9 8.0h.6M12.6 37.2h.6M19.5 28.0h.6M11.6 4.0h.6M16.5 21.3h.6M20.1 20.8h.6M6.5 28.0h.6M21.5 18.0h.6M24.4 26.4h.6M16.7 30.7h.6M25.3 21.4h.6M5.8 29.5h.6M20.8 8.5h.6M15.1 32.9h.6M2.0 21.6h.6M11.5 29.2h.6M7.4 34.2h.6M7.5 5.8h.6M13.2 39.1h.6M21.8 7.7h.6M9.4 34.5h.6M14.6 18.8h.6M1.0 2.8h.6M13.3 39.2h.6M22.7 33.3h.6M19.9 8.5h.6M18.5 18.4h.6M6.3 27.2h.6M2.1 21.1h.6M11.4 31.4h.6M1.8 7.7h.6M22.4 24.9h.6M2.6 19.2h.6M27.4 10.6h.6M1.0 4.6h.6M17.5 27.8h.6M0.8 17.8h.6M14.6 27.9h.6M2.1 27.3h.6M13.0 26.5h.6M10.5 28.6h.6M8.4 36.6h.6M16.8 38.2h.6M26.1 27.6h.6M5.2 19.1h.6M20.7 9.3h.6M13.5 27.7h.6M11.7 23.7h.6M30.5 15.3h.6M4.4 22.1h.6M9.7 4.3h.6M9.2 25.4h.6M39.3 24.4h.6M15.6 36.0h.6M28.2 17.0h.6M25.0 23.4h.6M8.7 4.1h.6M18.4 25.0h.6M27.0 13.6h.6M14.3 10.7h.6M14.3 5.7h.6M17.3 33.7h.6M3.4 20.6h.6M17.3 22.2h.6M19.1 24.6h.6M2.7 25.0h.6M8.1 25.4h.6M11.4 40.4h.6M10.5 14.2h.6M20.6 20.0h.6M13.6 31.3h.6M15.4 21.7h.6M1.4 2.6h.6M1.8 16.9h.6M16.6 25.9h.6M15.4 29.9h.6M4.6 22.6h.6M3.8 26.8h.6M20.1 23.6h.6M5.3 13.0h.6M3.5 14.7h.6M5.2 28.7h.6M13.4 23.2h.6M33.8 20.2h.6M11.5 21.2h.6M9.5 29.3h.6M22.0 28.3h.6M7.1 20.0h.6M25.0 16.8h.6M1.2 22.8h.6M11.7 31.0h.6M1.4 25.7h.6M5.9 22.8h.6M21.8 19.5h.6M21.7 23.1h.6M6.1 30.0h.6M17.0 7.4h.6M8.4 11.2h.6M14.1 18.6h.6M13.9 10.6h.6M19.6 16.9h.6M5.0 23.9h.6M9.8 19.1h.6M13.2 10.3h.6M4.6 10.7h.6M27.7 24.4h.6M7.0 13.9h.6M18.5 2.3h.6M14.9 15.1h.6M23.5 11.0h.6M29.6 15.4h.6M10.3 6.3h.6M13.8 14.4h.6M30.8 26.1h.6M6.2 19.3h.6M23.9 8.7h.6M9.0 20.7h.6M8.9 29.7h.6M30.5 20.7h.6M8.3 25.9h.6M24.8 15.7h.6M4.3 22.3h.6M3.8 27.2h.6M22.8 24.0h.6M19.8 22.3h.6M18.7 11.3h.6M19.2 13.5h.6M4.9 19.1h.6M14.5 33.0h.6M15.5 14.4h.6M7.5 33.3h.6M5.1 18.6h.6M4.3 20.3h.6M8.9 28.0h.6M11.6 29.2h.6M13.2 25.0h.6M10.6 24.2h.6M2.4 11.8h.6M21.4 16.3h.6M28.4 12.1h.6M24.1 31.9h.6M15.8 21.4h.6M11.2 25.3h.6M5.0 18.9h.6M12.1 10.4h.6M24.6 31.5h.6M18.8 17.3h.6M6.5 21.2h.6M5.1 13.7h.6M6.7 18.5h.6M18.9 27.0h.6M28.2 28.4h.6M3.9 40.3h.6M12.2 10.5h.6M8.6 34.7h.6M3.9 25.3h.6M15.8 5.9h.6M18.8 25.9h.6M1.5 23.1h.6M23.7 14.2h.6M16.9 20.3h.6M18.3 26.9h.6M7.5 8.1h.6M7.1 24.3h.6M16.6 33.8h.6M6.0 24.9h.6M1.3 15.6h.6M12.2 32.4h.6M21.3 13.0h.6M2.2 13.5h.6M20.9 3.6h.6M19.8 27.9h.6M3.4 14.1h.6M12.3 36.2h.6M11.5 26.6h.6M19.8 19.6h.6M19.8 16.2h.6M22.6 27.1h.6M13.6 26.9h.6M17.5 16.8h.6M16.1 14.1h.6M26.1 15.1h.6M1.2 11.8h.6M22.2 10.0h.6M5.2 36.5h.6M20.2 26.6h.6M25.2 22.5h.6M16.3 10.2h.6M9.1 12.5h.6M7.8 22.3h.6M12.7 18.4h.6M2.7 9.5h.6M2.2 24.5h.6M19.9 24.6h.6M20.6 11.9h.6M5.7 15.5h.6M31.2 17.9h.6M22.9 13.6h.6M16.5 27.5h.6M2.4 29.9h.6M5.0 20.9h.6M14.2 42.0h.6M2.3 16.7h.6M26.3 12.4h.6M14.5 19.2h.6M17.5 23.8h.6M2.7 10.8h.6M2.5 21.3h.6M4.5 11.3h.6M14.6 2.7h.6M9.2 12.7h.6M9.1 11.0h.6M16.0 14.7h.6M15.3 17.1h.6M26.1 18.3h.6M8.9 19.6h.6M2.8 10.8h.6M12.1 35.8h.6M26.0 23.4h.6M6.1 13.7h.6M12.7 30.4h.6M7.1 22.2h.6M16.8 28.8h.6M15.4 15.1h.6M4.2 12.3h.6M10.1 7.3h.6M21.9 15.7h.6M22.9 27.9h.6M22.1 18.2h.6M21.2 14.9h.6M9.1 7.6h.6M9.2 39.0h.6M22.0 16.9h.6M2.5 36.2h.6M11.5 12.6h.6M7.6 14.9h.6M5.1 12.0h.6M18.6 28.1h.6M4.1 17.0h.6M8.6 9.1h.6M8.2 22.5h.6M3.8 20.5h.6M24.7 31.6h.6M7.4 9.5h.6M22.5 20.3h.6M19.8 15.5h.6M23.9 15.3h.6M19.7 8.5h.6M27.4 11.8h.6M46.5 32.7h.6M43.4 19.5h.6M49.0 28.8h.6M51.6 18.1h.6M18.0 14.8h.6M37.9 26.9h.6M50.9 23.6h.6M60.3 13.2h.6M11.3 22.6h.6M12.8 9.7h.6M38.9 14.1h.6M25.8 14.0h.6M18.3 7.8h.6M37.5 21.4h.6M18.7 19.5h.6M2.6 28.2h.6M30.8 15.3h.6M33.0 9.7h.6M39.8 7.0h.6M45.4 16.3h.6M34.1 23.5h.6M27.4 24.7h.6M21.9 29.2h.6M8.7 20.0h.6M25.1 8.9h.6M43.4 31.8h.6M39.4 31.4h.6M56.6 5.5h.6M29.0 29.7h.6M7.3 18.7h.6M42.5 25.6h.6M45.7 10.2h.6M14.8 14.3h.6M9.0 19.6h.6M33.4 11.0h.6M42.5 15.9h.6M15.1 15.7h.6M26.6 5.9h.6M20.2 11.2h.6M14.3 25.0h.6M12.8 26.1h.6M34.0 19.8h.6M24.4 20.8h.6M20.2 18.6h.6M54.1 10.4h.6M16.7 19.4h.6M28.7 14.7h.6M14.3 20.0h.6M37.0 12.0h.6M11.1 28.8h.6M32.3 6.5h.6M27.8 15.0h.6M44.6 12.6h.6M15.4 15.3h.6M21.8 11.0h.6M27.4 12.3h.6M58.0 12.8h.6M10.5 21.9h.6M34.9 29.1h.6M20.5 17.3h.6M36.6 19.9h.6M41.5 19.0h.6M32.7 1.9h.6M34.4 30.4h.6M36.3 16.4h.6M22.8 10.0h.6M27.8 10.7h.6M9.5 12.2h.6M25.9 28.0h.6M19.8 26.6h.6M26.9 13.1h.6M42.6 18.7h.6M36.0 5.3h.6M38.9 14.6h.6M47.1 14.2h.6M0.9 18.8h.6M38.4 19.2h.6M30.5 16.3h.6M29.3 23.8h.6M12.3 20.5h.6M39.8 20.7h.6M47.5 13.7h.6M44.7 26.1h.6M29.7 28.9h.6M40.8 12.7h.6M44.8 14.1h.6M54.6 21.3h.6M48.5 17.2h.6M33.0 25.7h.6M32.1 3.9h.6M33.2 28.8h.6M33.9 5.5h.6M23.3 25.3h.6M42.6 12.8h.6M19.7 21.3h.6M18.4 22.4h.6M36.1 9.8h.6M22.4 12.5h.6M26.3 21.0h.6M4.3 27.4h.6M40.9 2.7h.6M30.8 7.6h.6M28.4 16.4h.6M38.8 19.3h.6M34.6 14.4h.6M19.6 18.4h.6M56.1 6.6h.6M24.1 26.2h.6M45.5 15.6h.6M54.8 20.1h.6M22.3 9.4h.6M32.1 5.2h.6M18.0 20.1h.6M45.9 11.7h.6M26.2 8.2h.6M14.7 22.1h.6M48.9 22.1h.6M43.5 8.5h.6M17.7 15.5h.6M48.0 17.1h.6M33.5 6.9h.6M64.2 11.9h.6M52.3 26.8h.6M21.9 15.9h.6M25.6 18.8h.6M19.6 6.6h.6M33.7 17.2h.6M31.9 19.6h.6M42.1 12.7h.6M32.4 14.9h.6M11.6 30.0h.6M18.2 18.3h.6M50.6 17.6h.6M46.0 6.0h.6M28.8 2.4h.6M28.8 26.7h.6M28.2 25.8h.6M31.1 24.6h.6M8.3 25.3h.6M44.0 21.3h.6M20.1 18.5h.6M32.9 9.2h.6M34.0 28.5h.6M47.9 28.0h.6M2.9 14.2h.6M50.4 6.2h.6M37.3 28.0h.6M21.0 30.6h.6M9.1 19.6h.6M46.5 7.9h.6M34.6 9.4h.6M40.5 14.7h.6M26.6 12.6h.6M18.6 16.6h.6M43.9 20.4h.6M18.6 6.5h.6M44.6 15.9h.6M8.9 28.3h.6M16.9 23.2h.6M11.9 30.7h.6M49.4 15.1h.6M8.2 13.2h.6M15.3 28.8h.6M40.0 8.2h.6M33.7 3.3h.6M58.8 11.6h.6M54.6 22.5h.6M40.1 23.2h.6M41.8 19.0h.6M7.3 29.5h.6M18.5 28.4h.6M24.8 20.8h.6M27.1 19.8h.6M11.8 15.8h.6M17.8 28.2h.6M19.9 6.5h.6M45.3 8.2h.6M37.0 9.9h.6M25.4 23.9h.6M27.1 6.1h.6M36.1 20.1h.6M21.7 6.5h.6M27.0 10.0h.6M8.0 26.9h.6M41.4 20.0h.6M43.1 3.6h.6M36.0 9.3h.6M39.1 17.9h.6M37.1 14.8h.6M57.4 12.9h.6M34.0 23.7h.6M11.9 21.6h.6M15.6 24.7h.6M42.0 19.7h.6M46.2 12.1h.6M42.0 23.6h.6M43.0 10.5h.6M34.4 15.8h.6M10.7 14.9h.6M20.5 12.3h.6M7.7 12.4h.6M24.7 13.3h.6M12.1 15.0h.6M32.9 19.1h.6M28.0 13.1h.6M5.5 27.2h.6M42.4 18.2h.6M41.9 10.5h.6M11.1 20.6h.6M33.1 13.3h.6M41.1 24.4h.6M26.7 8.3h.6M43.7 20.6h.6M33.9 13.6h.6M46.7 15.8h.6M33.4 10.0h.6M27.6 21.6h.6M38.3 24.5h.6M41.0 29.5h.6M35.3 19.9h.6M24.2 27.6h.6M18.8 15.0h.6M25.5 8.0h.6M23.3 33.7h.6M33.6 27.1h.6M33.6 14.3h.6M29.4 8.7h.6M30.5 14.7h.6M33.6 14.2h.6M52.0 11.3h.6M47.7 11.2h.6M22.9 7.3h.6M37.2 11.8h.6M25.8 27.8h.6M28.8 22.2h.6M26.1 16.1h.6M21.1 25.4h.6M11.3 22.2h.6M33.8 23.2h.6M47.2 10.4h.6M16.7 22.6h.6M38.0 25.2h.6M24.3 24.4h.6M35.9 16.4h.6M20.3 5.1h.6M26.3 15.7h.6M29.0 7.3h.6M33.3 32.1h.6M28.1 14.5h.6M39.6 26.5h.6M30.0 26.3h.6M33.2 5.0h.6M35.5 28.6h.6M23.7 23.8h.6M15.8 11.4h.6M23.6 13.2h.6M24.7 30.7h.6M59.3 14.8h.6M55.2 18.2h.6M21.9 20.5h.6M24.1 12.5h.6M35.8 22.0h.6M39.9 19.2h.6M21.1 8.6h.6M17.3 32.2h.6M56.2 17.1h.6M45.9 12.1h.6M9.8 29.1h.6M6.8 25.3h.6M18.9 28.9h.6M34.5 15.5h.6M39.1 21.8h.6M25.2 12.1h.6M9.0 13.5h.6M34.7 16.4h.6M40.3 19.7h.6M30.2 15.1h.6M21.8 18.2h.6M38.7 25.9h.6M29.5 9.7h.6M13.9 18.2h.6M31.8 11.1h.6M13.0 29.6h.6M44.1 9.4h.6M36.4 2.9h.6M15.8 15.0h.6M33.4 28.2h.6M48.6 15.1h.6M2.4 21.9h.6M27.6 15.8h.6M53.2 16.5h.6M9.0 17.0h.6M27.2 22.4h.6M10.3 18.7h.6M29.1 23.9h.6M8.8 13.7h.6M21.5 23.0h.6M32.5 11.9h.6M36.2 24.2h.6M37.7 20.1h.6M47.5 17.4h.6M40.2 7.4h.6M41.6 22.4h.6M16.8 10.9h.6M28.1 29.0h.6M69.2 13.9h.6M59.4 8.0h.6M42.7 10.8h.6M41.3 24.1h.6M44.3 25.0h.6M24.2 11.7h.6M55.9 23.1h.6M24.3 13.7h.6M28.8 22.7h.6M59.1 14.2h.6M5.2 6.6h.6M35.3 6.1h.6M7.3 15.0h.6M21.1 29.2h.6M28.6 14.9h.6M23.7 18.0h.6M34.0 18.2h.6M19.7 9.6h.6M28.9 30.4h.6M13.0 17.7h.6M23.3 17.4h.6M10.8 25.8h.6M39.2 4.7h.6M12.6 29.1h.6M41.8 16.0h.6M22.8 17.9h.6M26.4 33.3h.6M46.5 25.9h.6M32.0 25.4h.6M5.2 15.8h.6M37.8 9.5h.6M35.2 14.8h.6M25.1 33.5h.6M10.3 18.9h.6M31.7 22.3h.6M25.8 9.6h.6M56.3 5.6h.6M24.7 3.7h.6M56.3 9.7h.6M49.7 9.5h.6M21.2 27.0h.6M17.3 18.9h.6M48.6 24.3h.6M28.2 11.0h.6M32.7 26.8h.6M25.2 20.5h.6M13.0 26.2h.6M23.8 22.8h.6M15.8 16.2h.6M8.9 24.8h.6M24.9 16.4h.6M54.5 21.8h.6M51.8 5.6h.6M29.2 23.6h.6M32.4 9.7h.6M37.1 2.7h.6M47.6 31.6h.6M35.3 25.2h.6M21.8 20.8h.6M24.6 9.8h.6M47.3 19.4h.6M63.7 11.1h.6M20.5 25.0h.6M3.1 17.6h.6M42.1 25.4h.6M29.1 11.3h.6M32.1 36.9h.6M46.8 28.7h.6M31.3 5.1h.6M11.0 19.1h.6M4.2 27.5h.6M29.8 3.2h.6M14.1 12.5h.6M34.7 8.7h.6M11.7 23.5h.6M24.6 13.4h.6M9.6 17.0h.6M25.3 30.6h.6M23.1 13.9h.6M40.6 18.1h.6M48.7 6.5h.6M27.7 8.5h.6M17.1 24.7h.6M56.9 18.7h.6M37.0 15.1h.6M40.0 11.3h.6M40.5 20.1h.6M51.5 16.0h.6M45.5 11.2h.6M41.3 12.9h.6M41.5 7.9h.6M16.8 17.7h.6M21.0 26.2h.6M28.9 30.8h.6M31.8 11.1h.6M30.6 21.2h.6M36.1 20.4h.6M30.8 20.8h.6M24.4 30.2h.6M7.6 23.7h.6M41.1 33.7h.6M40.3 20.1h.6M17.3 26.5h.6M37.2 4.3h.6M37.1 13.1h.6M31.8 20.0h.6M5.2 20.1h.6M13.0 14.8h.6M20.9 25.3h.6M53.3 16.7h.6M16.8 22.6h.6M26.0 2.1h.6M13.5 19.6h.6M23.8 32.6h.6M35.8 10.7h.6M5.2 5.0h.6M31.1 18.3h.6M21.4 11.4h.6M45.3 20.5h.6M45.6 18.1h.6M3.1 29.9h.6M27.8 26.7h.6M44.9 30.6h.6M20.7 10.6h.6M25.6 27.6h.6M45.2 13.1h.6M25.5 15.4h.6M12.9 25.2h.6M18.9 19.0h.6M10.9 21.2h.6M39.6 21.0h.6M6.4 20.8h.6M46.0 15.5h.6M8.0 28.2h.6M31.1 27.9h.6M9.8 26.9h.6M24.3 17.5h.6M44.6 6.2h.6M45.8 5.6h.6M49.6 13.1h.6M29.0 10.6h.6M32.5 16.2h.6M33.9 8.9h.6M40.9 15.4h.6M23.5 15.3h.6M47.2 18.1h.6M36.7 17.1h.6M45.5 3.1h.6M37.5 26.4h.6M41.8 16.4h.6M18.8 24.3h.6M24.1 11.2h.6M13.4 7.9h.6M24.8 21.6h.6M28.2 36.6h.6M43.2 11.4h.6M12.2 15.8h.6M69.5 23.6h.6M27.7 20.8h.6M49.2 16.1h.6M43.9 31.9h.6M25.8 14.6h.6M51.7 13.5h.6M42.3 22.2h.6M16.4 24.9h.6M22.6 14.9h.6M33.9 25.6h.6M6.1 11.3h.6M33.8 13.9h.6M21.9 34.2h.6M20.2 7.4h.6M42.1 15.1h.6M73.0 16.1h.6M36.8 16.1h.6M38.0 30.2h.6M29.2 16.0h.6M21.1 35.9h.6M34.4 25.8h.6M50.9 5.9h.6M33.1 8.1h.6M44.5 19.1h.6M26.8 26.4h.6M62.7 7.7h.6M7.2 21.5h.6M40.3 14.8h.6M39.0 11.7h.6M34.4 26.2h.6M14.1 14.2h.6M15.5 34.5h.6M27.0 7.7h.6M31.8 29.6h.6M12.6 25.2h.6M14.5 25.4h.6M39.1 11.0h.6M45.6 10.3h.6M20.9 16.2h.6M19.2 15.1h.6M18.7 15.7h.6M62.7 14.5h.6M37.0 30.9h.6M29.5 34.2h.6M43.4 32.1h.6M60.8 14.6h.6M48.0 17.7h.6M9.6 21.9h.6M28.4 16.0h.6M22.8 21.3h.6M24.9 26.9h.6M13.7 31.1h.6M24.9 32.4h.6M15.1 11.2h.6M35.5 10.1h.6M30.9 28.5h.6M9.8 22.9h.6M6.6 18.1h.6M23.6 7.4h.6M40.7 21.9h.6M38.9 15.4h.6M29.2 9.3h.6M22.3 25.4h.6M18.0 20.1h.6M24.7 25.1h.6M14.5 6.0h.6M23.5 12.0h.6M19.1 17.9h.6M64.7 20.2h.6M40.9 9.9h.6M26.9 13.1h.6M29.2 23.1h.6M27.9 22.7h.6M32.9 28.9h.6M22.6 19.9h.6M29.9 11.1h.6M45.1 8.7h.6M43.1 11.8h.6M35.0 10.7h.6M49.6 20.2h.6M34.1 22.1h.6M16.3 11.1h.6M6.1 18.1h.6M19.5 26.0h.6M29.0 13.8h.6M36.4 10.6h.6M46.2 10.7h.6M20.2 18.6h.6M17.5 24.1h.6M42.6 13.3h.6M46.1 4.3h.6M21.6 18.0h.6M35.7 23.4h.6M50.3 13.1h.6M35.0 27.3h.6M28.9 16.0h.6M2.3 24.0h.6M49.0 8.7h.6M41.2 15.9h.6M32.1 9.6h.6M24.2 3.4h.6M11.7 22.4h.6M28.5 25.5h.6M28.2 14.2h.6M47.1 16.8h.6M12.1 19.5h.6M50.9 20.1h.6M30.7 13.2h.6M48.2 15.4h.6M17.6 34.7h.6M36.6 19.8h.6M48.5 13.3h.6M31.9 8.9h.6M9.3 25.3h.6M24.9 25.7h.6M38.1 8.4h.6M10.2 25.5h.6M9.3 20.2h.6M34.2 13.4h.6M16.0 14.4h.6M41.7 16.7h.6M13.6 28.7h.6M5.6 14.4h.6M17.8 23.5h.6M51.6 19.4h.6M18.8 5.9h.6M30.1 11.0h.6M34.0 26.3h.6M15.6 24.1h.6M47.0 18.1h.6M33.1 24.4h.6M36.3 31.1h.6M7.2 15.6h.6M6.4 15.9h.6M26.6 22.6h.6M25.6 16.7h.6M41.6 11.6h.6M50.9 23.2h.6M25.4 22.1h.6M25.5 23.9h.6M37.4 11.5h.6M52.2 13.5h.6M18.5 29.5h.6M40.3 22.2h.6M26.9 6.1h.6M25.0 26.8h.6M43.5 15.3h.6M18.0 25.0h.6M15.3 11.2h.6M41.5 17.4h.6M29.6 22.6h.6M26.3 28.0h.6M27.4 21.2h.6M38.0 10.6h.6M24.2 13.4h.6M41.2 26.8h.6M36.1 6.1h.6M51.7 17.4h.6M48.2 23.8h.6M44.1 15.5h.6M26.7 24.3h.6M32.2 23.3h.6M20.7 24.8h.6M66.5 14.3h.6M26.3 23.4h.6M38.0 29.7h.6M50.0 11.9h.6M10.6 24.8h.6M18.4 11.0h.6M23.6 14.6h.6M15.3 15.5h.6M11.5 19.4h.6M22.8 9.6h.6M49.4 18.4h.6M41.1 24.7h.6M30.8 14.9h.6M30.7 36.3h.6M7.1 24.1h.6M41.9 15.0h.6M37.6 21.2h.6M15.2 11.2h.6M33.7 11.9h.6M26.2 17.7h.6M21.5 23.0h.6M16.1 12.1h.6M19.7 25.3h.6M15.7 23.6h.6M37.6 11.2h.6M36.4 12.4h.6M34.7 3.6h.6M26.5 21.1h.6M24.8 32.4h.6M57.8 10.2h.6M5.8 13.0h.6M48.4 17.3h.6M35.3 6.3h.6M31.3 5.5h.6M22.1 25.0h.6M26.4 23.3h.6M13.8 29.6h.6M10.4 16.9h.6M28.4 12.5h.6M7.4 17.0h.6M42.4 26.1h.6M46.8 22.1h.6M9.9 32.2h.6M34.3 28.1h.6M33.4 29.6h.6M32.6 20.2h.6M37.6 13.7h.6M42.1 11.8h.6M44.3 16.8h.6M55.0 20.0h.6M30.7 18.6h.6M43.8 12.1h.6M7.6 23.6h.6M27.2 18.2h.6M12.3 23.1h.6M50.5 19.7h.6M61.3 14.2h.6M38.5 26.0h.6M12.2 13.2h.6M28.8 30.1h.6M30.8 14.0h.6M33.3 28.4h.6M45.4 5.7h.6M44.6 9.9h.6M50.3 19.2h.6M23.0 28.1h.6M20.6 20.2h.6M50.9 12.7h.6M27.0 1.9h.6M11.8 30.5h.6M12.2 12.0h.6M31.4 23.5h.6M44.8 14.3h.6M51.4 9.3h.6M27.4 14.0h.6M22.4 15.8h.6M53.5 16.9h.6M22.1 19.6h.6M51.6 14.5h.6M33.9 8.7h.6M33.8 28.9h.6M26.3 23.4h.6M34.8 27.4h.6M23.3 27.0h.6M20.0 26.2h.6M28.4 10.1h.6M21.9 4.9h.6M34.9 7.7h.6M31.7 27.5h.6M25.1 18.4h.6M27.4 27.7h.6M26.3 14.9h.6M53.7 6.6h.6M30.2 13.2h.6M21.3 12.7h.6M24.7 20.7h.6M39.4 31.0h.6M27.8 32.7h.6M27.0 20.0h.6M26.0 14.0h.6M32.9 8.4h.6M37.3 20.8h.6M38.6 16.7h.6M7.4 19.6h.6M15.2 12.6h.6M42.2 25.2h.6M46.3 8.4h.6M49.6 12.8h.6M33.0 14.4h.6M46.5 25.6h.6M29.1 18.7h.6M28.8 31.0h.6M10.6 34.4h.6M17.8 22.1h.6M20.6 23.4h.6M44.5 12.1h.6M52.5 5.6h.6M21.9 19.9h.6M35.6 5.1h.6M35.1 23.0h.6M18.6 14.0h.6M7.5 30.2h.6M18.1 19.0h.6M9.8 23.5h.6M24.4 21.3h.6M27.9 13.6h.6M28.0 32.1h.6M26.7 17.7h.6M38.0 24.1h.6M15.7 19.4h.6M44.4 13.4h.6M7.1 24.2h.6M31.5 21.9h.6M36.2 26.6h.6M18.0 15.6h.6M8.2 26.2h.6M40.8 13.3h.6M20.9 30.1h.6M41.5 7.0h.6M41.8 24.8h.6M30.3 9.5h.6M30.3 22.7h.6M45.4 12.2h.6M37.4 19.0h.6M16.3 15.0h.6M34.0 17.9h.6M38.4 7.8h.6M33.7 12.2h.6M33.5 12.2h.6M28.3 6.7h.6M28.4 24.7h.6M17.2 10.7h.6M9.7 20.6h.6M45.9 27.0h.6M20.0 15.8h.6M34.7 20.0h.6M10.7 9.5h.6M33.1 22.6h.6M17.1 19.8h.6M67.6 12.1h.6M16.9 33.3h.6M15.7 16.4h.6M44.1 24.2h.6M46.1 6.4h.6M3.6 10.9h.6M35.5 17.9h.6M42.5 28.2h.6M12.2 19.4h.6M41.8 15.4h.6M22.0 13.6h.6M15.0 22.8h.6M25.2 28.3h.6M22.1 20.8h.6M11.0 27.7h.6M58.6 3.2h.6M23.1 25.3h.6M18.8 25.2h.6M44.1 17.1h.6M29.3 28.1h.6M49.8 19.3h.6M25.0 20.5h.6M36.3 22.0h.6M32.1 20.9h.6M32.8 8.6h.6M26.6 14.9h.6M28.8 28.8h.6M53.8 18.5h.6M19.9 13.9h.6M21.6 25.0h.6M23.8 18.5h.6M40.3 17.4h.6M37.1 13.0h.6M45.1 18.0h.6M10.9 22.1h.6M34.4 25.0h.6M27.0 15.5h.6M25.9 26.5h.6M32.6 5.7h.6M3.8 22.0h.6M35.5 20.0h.6M32.6 11.6h.6M9.8 21.8h.6M28.0 17.7h.6M52.5 16.0h.6M24.1 25.3h.6M39.3 24.6h.6M26.6 24.9h.6M18.7 11.5h.6M16.5 25.2h.6M23.5 23.0h.6M49.3 19.4h.6M42.8 11.3h.6M21.0 6.0h.6M44.9 23.6h.6M28.1 13.8h.6M18.9 18.9h.6M37.9 20.3h.6M16.4 16.3h.6M9.4 30.0h.6M48.8 9.9h.6M5.4 20.1h.6M38.5 25.2h.6M10.4 10.1h.6M29.9 11.5h.6M27.4 9.8h.6M24.2 30.0h.6M1.6 24.1h.6M28.4 23.4h.6M29.7 13.0h.6M17.9 10.2h.6M29.5 32.0h.6M45.8 16.3h.6M18.6 21.1h.6M34.3 10.0h.6M13.2 21.0h.6M35.9 27.4h.6M41.1 18.8h.6M61.9 21.2h.6M43.9 22.7h.6M38.3 17.0h.6M50.6 19.4h.6M15.2 18.2h.6M45.0 27.3h.6M23.4 3.8h.6M21.5 10.2h.6M46.5 10.9h.6M33.8 27.8h.6M47.4 30.6h.6M10.4 27.3h.6M35.5 20.1h.6M23.6 4.2h.6M26.5 9.1h.6M4.9 25.4h.6M43.7 7.8h.6M33.5 8.7h.6M15.3 20.3h.6M12.1 12.2h.6M16.9 17.5h.6M50.3 20.7h.6M29.0 27.7h.6M24.1 20.5h.6M37.9 9.6h.6M30.7 28.6h.6M33.7 29.7h.6M42.1 12.4h.6M34.7 35.7h.6M42.2 4.2h.6M13.1 24.1h.6M31.5 12.1h.6M25.8 6.0h.6M32.1 29.0h.6M30.0 26.8h.6M22.4 4.4h.6M24.3 21.9h.6M45.3 17.6h.6M21.2 17.6h.6M13.3 13.0h.6M39.1 7.5h.6M45.7 15.6h.6M25.7 22.2h.6M33.5 18.5h.6M17.5 17.6h.6M27.7 8.9h.6M47.3 15.2h.6M41.4 4.3h.6M33.0 25.2h.6M26.0 14.3h.6M9.8 9.3h.6M35.2 8.1h.6M38.6 14.4h.6M45.9 23.1h.6M57.3 19.9h.6M37.6 19.0h.6M45.4 14.0h.6M14.1 22.5h.6M47.0 26.6h.6M43.7 22.5h.6M50.1 12.0h.6M40.9 10.5h.6M37.2 27.9h.6M51.6 18.4h.6M21.8 31.5h.6M40.9 21.8h.6M18.2 19.5h.6M13.8 23.3h.6M37.9 22.5h.6M32.6 27.5h.6M38.9 30.3h.6M41.6 17.4h.6M18.6 22.3h.6M35.6 6.9h.6M45.8 27.9h.6M24.8 15.2h.6M26.8 8.8h.6M16.3 33.6h.6M43.2 11.6h.6M55.6 25.9h.6M11.5 17.0h.6M41.4 6.4h.6M45.0 16.6h.6M21.6 17.1h.6M25.0 25.0h.6M15.2 18.1h.6M19.8 11.3h.6M34.4 19.9h.6M41.8 18.2h.6M33.2 14.4h.6M43.6 10.4h.6M33.8 29.8h.6M13.6 20.2h.6M51.1 20.8h.6M48.2 12.3h.6M20.7 11.8h.6M55.1 13.0h.6M37.7 7.8h.6M33.1 26.0h.6M56.6 17.9h.6M8.7 20.8h.6M42.7 16.0h.6M26.4 21.0h.6M17.9 29.0h.6M52.3 16.2h.6M39.2 21.1h.6M12.9 16.2h.6M20.3 22.1h.6M43.0 8.1h.6M55.3 13.6h.6M6.1 33.8h.6M36.0 19.5h.6M25.8 29.6h.6M7.9 14.6h.6M28.8 8.0h.6M8.8 21.4h.6M22.4 15.6h.6M52.2 25.5h.6M37.7 32.7h.6M43.2 21.3h.6M41.2 19.3h.6M36.1 28.8h.6M46.1 15.7h.6M14.0 18.1h.6M25.5 13.6h.6M42.7 5.8h.6M20.3 13.3h.6M23.8 22.6h.6M48.9 15.2h.6M52.4 11.2h.6M22.4 27.6h.6M19.9 10.0h.6M40.0 10.1h.6M36.5 19.8h.6M20.9 24.9h.6M39.7 10.5h.6M32.6 10.5h.6M66.2 2.5h.6M49.9 8.8h.6M44.2 14.9h.6M46.2 11.0h.6M67.3 19.5h.6M47.1 10.8h.6M21.5 30.7h.6M37.0 13.7h.6M32.7 13.1h.6M23.5 30.6h.6M34.8 4.4h.6M35.1 26.7h.6M30.6 10.1h.6M23.5 23.9h.6M44.3 14.0h.6M9.4 25.9h.6M31.6 10.0h.6M35.0 5.0h.6M1.0 16.9h.6M54.1 10.3h.6M7.5 20.2h.6M17.8 22.0h.6M41.4 11.9h.6M21.2 18.1h.6M24.0 20.6h.6M3.1 31.1h.6M23.8 22.0h.6M35.0 12.5h.6M42.2 20.7h.6M26.4 15.5h.6M35.9 19.0h.6M38.0 25.4h.6M21.3 26.6h.6M20.0 25.6h.6M57.5 16.8h.6M18.0 22.1h.6M48.3 7.9h.6M32.5 26.6h.6M50.0 29.4h.6M21.6 13.8h.6M40.0 20.9h.6M37.8 18.4h.6M28.5 1.6h.6M35.8 6.8h.6M19.6 14.9h.6M30.3 10.6h.6M24.2 17.8h.6M42.5 9.3h.6M30.0 23.7h.6M11.8 26.0h.6M25.2 23.1h.6M30.1 6.8h.6M19.2 8.6h.6M50.3 20.2h.6M37.3 8.5h.6M44.7 17.7h.6M20.4 11.4h.6M24.5 21.9h.6M45.8 9.1h.6M10.8 21.6h.6M38.1 19.8h.6M33.9 17.9h.6M22.8 17.7h.6M33.1 23.0h.6M16.6 29.9h.6M34.5 5.5h.6M13.5 23.4h.6M14.7 32.8h.6M48.9 30.8h.6M22.7 37.5h.6M3.5 26.0h.6M44.8 6.5h.6M20.9 31.2h.6M30.6 31.3h.6M44.5 8.2h.6M37.6 13.9h.6M54.9 12.7h.6M29.7 8.1h.6M39.5 5.3h.6M17.1 12.2h.6M34.4 22.8h.6M51.8 24.7h.6M39.0 25.2h.6M33.6 30.4h.6M6.5 9.3h.6M24.6 20.7h.6M12.5 19.5h.6M43.9 14.7h.6M21.7 5.4h.6M37.6 22.1h.6M17.4 11.1h.6M56.8 12.6h.6M13.9 21.5h.6M33.3 31.4h.6M64.2 7.8h.6M35.0 23.8h.6M17.9 23.5h.6M41.7 14.7h.6M46.6 15.3h.6M43.8 8.0h.6M5.1 26.2h.6M35.8 15.7h.6M3.2 19.8h.6M57.0 14.5h.6M32.7 12.0h.6M23.4 21.4h.6M41.0 7.7h.6M39.3 22.9h.6M15.3 30.4h.6M54.1 15.4h.6M27.9 9.4h.6M7.3 24.9h.6M51.2 20.1h.6M53.0 17.8h.6M49.8 14.3h.6M41.0 18.3h.6M17.5 17.2h.6M44.0 28.5h.6M55.3 4.8h.6M43.9 11.7h.6M53.3 21.3h.6M20.6 9.3h.6M46.8 12.5h.6M44.3 5.8h.6M11.1 29.1h.6M10.3 9.5h.6M19.6 19.1h.6M32.5 32.2h.6M38.6 10.9h.6M27.4 21.5h.6M30.6 26.3h.6M29.5 20.5h.6M32.7 31.6h.6M40.8 11.9h.6M40.3 18.7h.6M30.7 20.9h.6M35.2 7.0h.6M23.4 18.6h.6M43.8 21.7h.6M23.8 26.6h.6M54.4 15.5h.6M31.2 9.6h.6M36.3 22.5h.6M20.3 27.5h.6M26.3 11.2h.6M35.3 16.7h.6M32.7 17.9h.6M23.3 4.8h.6M15.2 29.0h.6M32.7 15.6h.6M33.6 30.5h.6M40.9 19.4h.6M49.5 11.2h.6M26.9 9.8h.6M5.3 30.1h.6M29.4 11.4h.6M6.5 15.7h.6M12.5 21.4h.6M41.4 16.7h.6M21.7 26.3h.6M21.2 15.6h.6M30.3 31.4h.6M8.6 10.4h.6M38.8 9.3h.6M25.5 22.5h.6M56.4 10.5h.6M15.7 15.8h.6M44.7 3.1h.6M20.8 24.5h.6M45.8 25.6h.6M18.6 33.7h.6M43.5 18.9h.6M25.4 30.3h.6M18.2 21.2h.6M14.5 26.2h.6M8.9 52.7h.6M4.7 35.6h.6M19.8 31.5h.6M10.3 48.6h.6M13.4 44.7h.6M18.4 31.2h.6M2.9 43.5h.6M5.1 42.3h.6M26.2 24.5h.6M10.5 45.3h.6M4.5 44.0h.6M10.1 54.2h.6M7.6 46.1h.6M3.6 46.6h.6M9.0 23.0h.6M11.5 26.2h.6M11.6 47.5h.6M15.1 21.5h.6M1.6 38.2h.6M17.3 29.7h.6M8.1 32.9h.6M19.9 43.0h.6M13.6 50.8h.6M2.4 44.1h.6M16.1 36.8h.6M4.4 39.9h.6M13.7 43.7h.6M19.8 28.8h.6M24.5 44.7h.6M11.2 28.6h.6M16.9 41.1h.6M14.4 35.5h.6M17.1 46.1h.6M8.8 44.0h.6M13.6 50.7h.6M15.6 36.9h.6M5.9 37.2h.6M17.5 29.6h.6M19.4 34.3h.6M12.2 45.8h.6M9.9 42.7h.6M9.5 55.3h.6M12.7 46.5h.6M19.3 26.4h.6M21.0 25.2h.6M8.2 29.7h.6M4.9 34.0h.6M5.9 31.5h.6M18.7 32.5h.6M13.1 50.6h.6M13.9 44.7h.6M15.0 26.7h.6M14.3 26.6h.6M10.6 33.9h.6M4.2 39.5h.6M6.9 40.4h.6M12.7 42.2h.6M14.5 45.0h.6M9.3 51.9h.6M8.1 35.1h.6M20.8 40.5h.6M7.8 39.0h.6M13.1 23.0h.6M9.2 31.0h.6M5.5 42.9h.6M1.6 32.0h.6M8.1 49.1h.6M6.0 27.8h.6M17.9 34.4h.6M3.6 38.4h.6M8.5 31.2h.6M16.0 24.9h.6M10.8 41.6h.6M15.2 45.4h.6M16.8 20.7h.6M0.8 36.6h.6M8.9 24.5h.6M4.9 42.6h.6M20.7 33.6h.6M10.8 43.0h.6M15.4 30.9h.6M22.6 39.0h.6M9.0 43.1h.6M12.2 24.0h.6M15.0 33.3h.6M10.0 52.6h.6M20.3 38.8h.6M17.3 44.6h.6M18.3 46.7h.6M12.1 42.6h.6M8.9 41.6h.6M8.5 36.4h.6M9.0 44.1h.6M1.7 50.7h.6M14.6 42.0h.6M17.3 29.2h.6M11.6 48.3h.6M7.9 30.9h.6M12.0 32.0h.6M13.6 41.4h.6M14.5 33.6h.6M22.9 42.6h.6M5.4 40.4h.6M14.3 45.8h.6M16.8 32.5h.6M12.2 25.2h.6M9.9 43.3h.6M4.9 26.9h.6M8.0 53.2h.6M16.6 44.5h.6M20.9 44.9h.6M7.5 23.0h.6M15.3 42.4h.6M15.5 29.7h.6M17.8 52.4h.6M14.0 35.5h.6M15.1 31.4h.6M18.2 37.1h.6M4.9 56.6h.6M12.2 34.6h.6M5.6 33.1h.6M2.2 49.7h.6M15.8 38.9h.6M18.3 29.1h.6M9.4 44.4h.6M10.6 31.1h.6M9.8 41.7h.6M9.3 35.7h.6M12.7 29.6h.6M14.3 43.5h.6M8.9 15.9h.6M5.7 35.4h.6M7.6 33.4h.6M17.3 43.3h.6M8.1 36.1h.6M21.2 39.0h.6M10.0 49.0h.6M20.1 48.8h.6M3.4 34.3h.6M6.3 37.7h.6M14.4 56.3h.6M14.6 53.4h.6M10.3 40.3h.6M24.2 37.3h.6M12.2 30.7h.6M13.6 47.5h.6M7.4 31.2h.6M22.2 39.3h.6M17.7 41.4h.6M15.1 38.3h.6M1.3 28.9h.6M14.5 31.4h.6M8.3 28.7h.6M14.6 43.3h.6M18.2 39.4h.6M6.6 46.7h.6M13.4 42.3h.6M17.9 40.4h.6M13.0 41.6h.6M9.2 30.0h.6M4.2 33.0h.6M6.9 29.9h.6M3.0 35.7h.6M18.1 27.8h.6M12.8 35.3h.6M3.7 28.8h.6M11.6 31.6h.6M3.1 30.6h.6M19.3 46.8h.6M19.0 48.3h.6M2.8 22.0h.6M6.3 33.1h.6M13.3 32.2h.6M8.4 38.6h.6M5.5 41.0h.6M8.6 15.8h.6M9.9 46.7h.6M7.2 37.4h.6M13.7 37.4h.6M10.0 46.8h.6M6.6 47.5h.6M11.8 43.6h.6M0.9 39.6h.6M21.0 40.8h.6M0.7 30.3h.6M11.0 47.1h.6M14.4 32.7h.6M14.3 24.6h.6M13.5 28.6h.6M19.6 46.1h.6M5.2 58.1h.6M11.1 28.9h.6M12.8 31.7h.6M7.9 42.4h.6M7.6 25.9h.6M20.2 40.2h.6M6.2 35.7h.6M8.3 46.0h.6M9.3 33.3h.6M9.9 41.3h.6M12.9 42.0h.6M10.1 27.2h.6M14.7 34.5h.6M12.5 49.3h.6M15.1 30.3h.6M20.4 29.9h.6M5.8 44.1h.6M22.1 40.0h.6M7.8 36.2h.6M16.6 39.2h.6M13.2 35.3h.6M9.3 30.5h.6M20.9 21.3h.6M6.2 43.2h.6M5.9 41.8h.6M17.9 21.6h.6M12.0 18.6h.6M23.4 36.5h.6M22.2 38.3h.6M16.3 46.0h.6M13.3 26.8h.6M17.2 35.2h.6M3.0 43.8h.6M13.0 32.5h.6M12.5 25.2h.6M8.1 30.3h.6M13.1 19.7h.6M2.4 27.5h.6M17.9 32.8h.6M20.2 37.1h.6M3.0 32.1h.6M12.5 26.2h.6M21.3 29.9h.6M14.4 27.5h.6M4.3 34.8h.6M4.9 30.1h.6M17.1 26.6h.6M23.0 38.1h.6M4.6 47.4h.6M11.8 22.8h.6M6.0 31.5h.6M9.3 41.4h.6M14.2 34.3h.6M11.2 39.8h.6M7.2 50.5h.6M24.3 38.2h.6M10.5 48.8h.6M9.9 34.4h.6M19.2 37.8h.6M11.6 26.8h.6M9.7 38.3h.6M18.2 33.4h.6M4.3 39.5h.6M17.0 40.4h.6M18.0 48.1h.6M16.0 28.1h.6M9.9 34.7h.6M11.5 42.7h.6M10.5 41.3h.6M13.7 43.7h.6M17.8 34.5h.6M12.5 26.2h.6M8.4 39.7h.6M6.2 48.5h.6M11.2 42.9h.6M12.4 22.3h.6M19.4 43.6h.6M11.6 26.4h.6M7.6 39.3h.6M10.7 29.7h.6M7.6 37.9h.6M10.0 49.8h.6M2.3 21.0h.6M3.4 38.0h.6M15.0 31.4h.6M10.9 40.6h.6M13.0 38.4h.6M19.4 34.0h.6M4.4 32.6h.6M18.2 20.0h.6M14.8 37.0h.6M6.2 38.5h.6M21.0 42.2h.6M2.7 47.2h.6M4.6 49.6h.6M10.0 30.3h.6M14.0 51.6h.6M10.3 24.9h.6M9.0 40.0h.6M10.9 47.0h.6M26.3 36.6h.6M20.6 36.6h.6M12.4 26.8h.6M4.3 43.2h.6M14.3 40.7h.6M3.5 37.2h.6M13.3 39.9h.6M14.3 42.8h.6M9.0 50.7h.6M13.1 50.2h.6M9.1 43.3h.6M7.1 39.0h.6M21.0 28.8h.6M14.9 19.2h.6M9.6 22.9h.6M6.0 33.1h.6M12.6 21.8h.6M15.9 37.9h.6M17.5 41.5h.6M19.9 19.6h.6M14.6 46.2h.6M3.9 40.4h.6M23.8 38.8h.6M18.7 25.1h.6M17.3 42.1h.6M20.1 30.3h.6M1.9 40.2h.6M9.0 47.3h.6M7.5 34.3h.6M19.5 35.3h.6M4.0 46.3h.6M9.2 44.7h.6M21.0 43.2h.6M15.9 28.3h.6M8.5 32.1h.6M23.1 34.9h.6M2.8 32.6h.6M15.0 41.4h.6M9.7 31.8h.6M15.2 42.5h.6M9.7 48.1h.6M5.7 43.0h.6M13.4 34.3h.6M2.7 36.0h.6M15.1 27.5h.6M9.5 50.5h.6M18.0 38.8h.6M8.0 32.8h.6M6.9 45.2h.6M14.7 34.1h.6M41.4 48.4h.6M32.0 89.4h.6M69.4 31.1h.6M26.4 38.8h.6M67.2 28.3h.6M42.5 75.9h.6M33.8 68.2h.6M35.5 58.8h.6M33.9 48.4h.6" stroke="#000" stroke-opacity="0.5" stroke-width="0.6" fill="none" filter="url(#bl)"/>
<rect x="24.8" y="288.3" width="91.2" height="92.0" fill="none" stroke="#444" stroke-width="1.2"/>
<text class="sa" x="70.3" y="280.8" font-size="11.6" font-weight="bold" font-style="normal" text-anchor="middle" fill="#000" >Wild type</text>
<rect x="26.0" y="290.5" width="7.7" height="5.6" fill="#fff"/>
<text class="se" x="26.5" y="295.5" font-size="6.7" font-weight="normal" font-style="normal" text-anchor="start" fill="#000" stroke="#000" stroke-width=".15">38</text>
<rect x="102.0" y="290.5" width="12.8" height="5.6" fill="#fff"/>
<text class="se" x="114.2" y="295.5" font-size="6.7" font-weight="normal" font-style="normal" text-anchor="end" fill="#000" stroke="#000" stroke-width=".15">12.9</text>
<rect x="26.0" y="373.3" width="12.8" height="5.6" fill="#fff"/>
<text class="se" x="26.5" y="378.3" font-size="6.7" font-weight="normal" font-style="normal" text-anchor="start" fill="#000" stroke="#000" stroke-width=".15">49.1</text>
<rect x="102.0" y="373.3" width="12.8" height="5.6" fill="#fff"/>
<text class="se" x="114.2" y="378.3" font-size="6.7" font-weight="normal" font-style="normal" text-anchor="end" fill="#000" stroke="#000" stroke-width=".15">0.02</text>
<text class="se" x="20.1" y="383.4" font-size="5.7" font-weight="bold" text-anchor="end" fill="#000">10<tspan dy="-2" font-size="4.6">0</tspan></text>
<text class="se" x="25.7" y="390.5" font-size="5.7" font-weight="bold" text-anchor="middle" fill="#000">10<tspan dy="-2" font-size="4.6">0</tspan></text>
<text class="se" x="20.1" y="360.4" font-size="5.7" font-weight="bold" text-anchor="end" fill="#000">10<tspan dy="-2" font-size="4.6">1</tspan></text>
<text class="se" x="48.5" y="390.5" font-size="5.7" font-weight="bold" text-anchor="middle" fill="#000">10<tspan dy="-2" font-size="4.6">1</tspan></text>
<text class="se" x="20.1" y="337.4" font-size="5.7" font-weight="bold" text-anchor="end" fill="#000">10<tspan dy="-2" font-size="4.6">2</tspan></text>
<text class="se" x="71.3" y="390.5" font-size="5.7" font-weight="bold" text-anchor="middle" fill="#000">10<tspan dy="-2" font-size="4.6">2</tspan></text>
<text class="se" x="20.1" y="314.4" font-size="5.7" font-weight="bold" text-anchor="end" fill="#000">10<tspan dy="-2" font-size="4.6">3</tspan></text>
<text class="se" x="94.1" y="390.5" font-size="5.7" font-weight="bold" text-anchor="middle" fill="#000">10<tspan dy="-2" font-size="4.6">3</tspan></text>
<text class="se" x="20.1" y="291.4" font-size="5.7" font-weight="bold" text-anchor="end" fill="#000">10<tspan dy="-2" font-size="4.6">4</tspan></text>
<text class="se" x="116.9" y="390.5" font-size="5.7" font-weight="bold" text-anchor="middle" fill="#000">10<tspan dy="-2" font-size="4.6">4</tspan></text>
<line x1="175.5" y1="289.2" x2="175.5" y2="378.5" stroke="#999" stroke-width="0.8"/>
<line x1="148.9" y1="348.5" x2="239.7" y2="348.5" stroke="#999" stroke-width="0.8"/>
<path transform="translate(148.9,289.2)" d="M6.4 73.3h.6M9.1 81.2h.6M10.8 75.7h.6M1.3 79.4h.6M18.9 71.3h.6M3.3 76.9h.6M11.0 64.4h.6M15.4 76.4h.6M9.6 73.1h.6M18.0 73.1h.6M7.6 74.5h.6M15.6 71.8h.6M11.6 69.7h.6M10.9 65.1h.6M13.7 64.6h.6M7.9 79.0h.6M8.4 83.9h.6M14.3 85.1h.6M10.9 86.9h.6M12.6 77.5h.6M2.8 80.1h.6M9.7 79.7h.6M16.3 72.2h.6M14.3 80.5h.6M11.4 83.7h.6M6.9 88.4h.6M5.9 73.2h.6M11.9 85.1h.6M17.2 62.8h.6M9.9 81.1h.6M16.7 64.2h.6M7.5 74.3h.6M16.2 63.3h.6M4.2 71.7h.6M10.8 79.6h.6M3.7 86.9h.6M13.7 74.2h.6M13.0 77.2h.6M4.2 75.1h.6M5.0 80.0h.6M6.6 77.6h.6M1.6 79.6h.6M4.2 83.4h.6M4.9 71.7h.6M13.6 82.9h.6M17.2 66.1h.6M6.8 73.5h.6M7.9 82.4h.6M11.0 79.0h.6M6.6 71.1h.6M7.7 79.5h.6M13.9 83.1h.6M10.9 83.0h.6M9.1 67.9h.6M6.3 84.5h.6M17.2 59.4h.6M6.3 68.7h.6M10.6 75.9h.6M3.7 76.6h.6M6.1 84.3h.6M10.3 77.8h.6M7.2 82.6h.6M12.9 67.3h.6M10.0 83.6h.6M2.0 83.1h.6M15.3 65.8h.6M17.0 79.2h.6M9.7 81.5h.6M4.9 81.1h.6M13.3 70.4h.6M7.6 75.1h.6M9.7 62.0h.6M4.3 75.3h.6M13.5 66.9h.6M15.8 72.6h.6M6.5 72.1h.6M18.8 61.8h.6M6.2 73.2h.6M11.5 74.3h.6M1.0 79.0h.6M20.1 70.1h.6M16.5 81.6h.6M15.9 63.4h.6M0.8 78.6h.6M11.3 75.6h.6M12.3 76.1h.6M10.0 58.1h.6M11.6 77.0h.6M4.6 88.0h.6M8.5 80.1h.6M3.2 77.6h.6M7.4 81.9h.6M12.1 76.0h.6M4.8 77.2h.6M7.8 80.4h.6M6.6 76.8h.6M9.8 75.5h.6M14.6 77.6h.6M11.5 72.7h.6M11.8 81.1h.6M2.0 76.1h.6M7.5 83.9h.6M14.6 72.2h.6M6.8 81.3h.6M4.4 88.4h.6M16.4 59.0h.6M6.5 79.1h.6M5.2 75.3h.6M12.8 83.4h.6M15.4 77.8h.6M12.9 73.4h.6M14.8 79.2h.6M10.8 65.8h.6M8.7 79.5h.6M6.6 76.7h.6M6.3 75.8h.6M5.7 80.0h.6M11.8 67.1h.6M8.9 81.1h.6M10.2 71.3h.6M13.0 63.6h.6M9.2 73.4h.6M2.0 81.4h.6M4.8 82.2h.6M3.1 80.8h.6M10.4 76.7h.6M2.4 80.8h.6M3.3 82.1h.6M14.7 66.8h.6M7.3 77.0h.6M14.8 60.0h.6M9.1 84.1h.6M7.0 84.5h.6M13.0 67.0h.6M13.0 79.2h.6M10.4 71.4h.6M3.5 81.0h.6M3.0 76.8h.6M8.1 67.1h.6M10.3 72.4h.6M17.1 76.9h.6M17.1 62.8h.6M13.4 78.8h.6M15.2 70.7h.6M11.2 70.2h.6M22.7 67.3h.6M17.2 78.4h.6M22.4 63.9h.6M12.3 73.1h.6M12.0 79.2h.6M15.4 75.0h.6M10.7 68.4h.6M11.8 73.9h.6M3.9 83.9h.6M15.0 74.3h.6M10.7 72.6h.6M14.5 69.8h.6M7.9 78.4h.6M12.8 75.2h.6M16.0 73.4h.6M2.4 81.5h.6M4.3 72.5h.6M7.8 70.0h.6M8.0 71.7h.6M18.7 68.6h.6M15.4 67.3h.6M5.7 82.5h.6M11.7 79.4h.6M19.7 66.0h.6M14.6 71.1h.6M15.4 58.2h.6M4.1 76.5h.6M11.1 77.0h.6M1.6 77.7h.6M19.6 68.7h.6M12.8 65.0h.6M1.0 66.9h.6M12.3 80.2h.6M10.7 75.0h.6M7.3 78.5h.6M13.5 69.3h.6M19.7 61.2h.6M11.7 80.2h.6M8.3 73.7h.6M2.5 75.5h.6M5.1 87.0h.6M11.3 83.8h.6M8.5 68.1h.6M3.6 75.1h.6M9.4 67.7h.6M4.9 86.2h.6M13.0 73.6h.6M7.7 75.0h.6M12.1 69.3h.6M7.5 78.3h.6M14.2 71.3h.6M8.7 68.8h.6M9.4 79.1h.6M6.0 82.7h.6M10.5 78.0h.6M22.4 62.3h.6M5.2 81.0h.6M10.1 78.4h.6M6.9 68.3h.6M6.2 76.0h.6M12.2 75.6h.6M6.6 69.4h.6M6.8 82.1h.6M1.9 82.5h.6M4.0 81.2h.6M3.0 85.3h.6M18.9 68.9h.6M2.1 81.7h.6M10.8 77.4h.6M17.3 66.3h.6M1.1 81.2h.6M10.1 60.5h.6M11.6 68.2h.6M1.7 83.6h.6M3.8 80.7h.6M14.0 67.8h.6M9.1 78.4h.6M13.4 61.8h.6M8.8 83.6h.6M9.2 70.6h.6M13.3 68.0h.6M8.8 83.9h.6M11.0 69.0h.6M4.1 76.5h.6M5.8 83.4h.6M11.8 59.1h.6M7.9 71.4h.6M4.9 82.1h.6M13.5 75.1h.6M12.7 77.6h.6M9.3 73.1h.6M4.7 79.4h.6M14.2 79.9h.6M21.5 70.0h.6M4.7 84.8h.6M1.2 85.7h.6M4.7 82.5h.6M4.1 85.0h.6M2.5 77.7h.6M3.0 75.3h.6M14.6 70.0h.6M13.7 84.4h.6M17.5 68.8h.6M13.9 67.1h.6M6.2 79.2h.6M15.7 67.6h.6M5.4 78.4h.6M7.5 86.9h.6M16.2 64.8h.6M15.2 73.5h.6M6.4 75.1h.6M7.2 80.0h.6M9.6 77.0h.6M10.5 65.2h.6M14.0 78.9h.6M9.9 75.2h.6M11.7 80.8h.6M1.3 82.6h.6M7.3 73.6h.6M18.8 65.6h.6M16.6 77.1h.6M13.9 69.4h.6M15.5 63.7h.6M19.5 59.9h.6M14.1 58.1h.6M1.0 79.8h.6M8.2 83.7h.6M4.4 79.5h.6M2.7 75.0h.6M9.3 83.4h.6M11.7 66.7h.6M4.0 76.0h.6M7.7 83.3h.6M11.2 69.1h.6M8.4 82.0h.6M7.8 77.0h.6M6.3 76.4h.6M13.7 79.1h.6M11.0 69.7h.6M7.5 80.5h.6M11.0 78.3h.6M4.2 70.4h.6M13.5 67.6h.6M4.6 83.4h.6M7.4 83.7h.6M8.3 76.3h.6M20.5 68.7h.6M7.7 63.4h.6M13.9 70.7h.6M10.5 67.1h.6M11.0 63.5h.6M9.2 80.0h.6M2.5 75.1h.6M16.9 67.0h.6M7.9 68.7h.6M7.7 76.9h.6M0.8 88.0h.6M6.3 88.2h.6M1.4 77.1h.6M12.4 68.5h.6M14.6 70.5h.6M5.4 75.9h.6M0.8 82.3h.6M6.8 82.2h.6M4.0 68.7h.6M10.6 72.2h.6M10.6 76.1h.6M7.0 87.2h.6M9.8 79.9h.6M15.4 69.6h.6M18.4 68.1h.6M6.0 82.2h.6M13.9 71.6h.6M7.9 84.5h.6M3.2 81.2h.6M15.9 78.7h.6M11.6 79.5h.6M10.2 80.2h.6M11.4 67.2h.6M8.1 72.6h.6M3.2 80.7h.6M18.4 73.9h.6M14.6 73.3h.6M10.9 68.0h.6M14.6 62.4h.6M16.0 78.3h.6M7.9 80.3h.6M13.2 71.0h.6M7.0 74.8h.6M13.5 71.5h.6M7.6 72.0h.6M21.0 72.7h.6M7.4 67.2h.6M12.2 80.5h.6M12.5 72.0h.6M7.1 73.5h.6M14.5 62.9h.6M8.8 69.4h.6M6.8 71.6h.6M9.3 66.8h.6M4.7 81.0h.6M15.9 64.2h.6M12.7 62.3h.6M14.9 75.3h.6M10.9 81.0h.6M5.2 70.2h.6M9.8 66.5h.6M16.4 71.1h.6M11.1 71.6h.6M8.1 72.8h.6M15.4 62.8h.6M14.5 82.0h.6M18.9 69.8h.6M11.6 70.6h.6M6.4 77.6h.6M4.1 82.6h.6M10.1 72.0h.6M4.2 74.6h.6M7.7 70.5h.6M18.9 70.3h.6M4.9 76.5h.6M3.5 68.5h.6M6.8 77.2h.6M7.9 85.1h.6M10.4 72.7h.6M1.5 84.7h.6M4.9 73.6h.6M10.5 76.0h.6M0.9 81.5h.6M15.6 62.5h.6M12.2 80.4h.6M11.3 81.9h.6M11.7 76.1h.6M3.5 75.2h.6M15.5 71.6h.6M3.4 85.0h.6M19.1 61.1h.6M10.9 71.8h.6M14.6 69.5h.6M19.5 67.2h.6M7.6 72.2h.6M15.5 68.5h.6M8.0 82.5h.6M5.4 82.5h.6M16.3 66.3h.6M6.4 75.2h.6M11.6 79.3h.6M2.9 82.7h.6M3.9 78.2h.6M15.4 62.4h.6M6.6 75.8h.6M7.3 65.1h.6M2.3 81.8h.6M10.6 68.5h.6M14.1 73.3h.6M6.6 84.8h.6M7.8 75.9h.6M2.5 78.5h.6M17.1 65.9h.6M5.3 78.0h.6M8.2 79.3h.6M18.1 72.2h.6M7.7 79.5h.6M1.1 80.1h.6M4.2 73.8h.6M18.7 62.7h.6M10.6 66.5h.6M8.1 67.9h.6M14.4 67.8h.6M16.5 64.1h.6M4.8 82.9h.6M17.3 68.4h.6M14.4 66.7h.6M11.9 80.5h.6M10.8 72.1h.6M16.6 76.8h.6M7.3 76.9h.6M20.6 73.3h.6M9.9 72.9h.6M3.4 80.7h.6M13.0 76.0h.6M11.1 80.4h.6M14.3 74.3h.6M16.6 71.1h.6M5.7 77.9h.6M10.1 66.2h.6M2.5 85.2h.6M4.5 81.2h.6M10.5 64.9h.6M5.9 67.6h.6M6.5 81.8h.6M8.2 69.0h.6M10.8 65.8h.6M14.0 67.1h.6M13.8 77.9h.6M15.1 76.2h.6M10.7 69.4h.6M6.7 63.8h.6M0.9 84.5h.6M7.5 66.8h.6M5.3 67.4h.6M18.2 70.8h.6M11.5 66.3h.6M12.9 67.8h.6M7.5 77.2h.6M22.1 59.6h.6M9.5 80.1h.6M5.6 64.0h.6M18.5 73.8h.6M1.5 81.7h.6M4.0 71.1h.6M5.4 82.7h.6M9.8 75.7h.6M11.4 80.6h.6M1.1 83.6h.6M11.5 80.5h.6M20.6 70.7h.6M5.5 88.4h.6M8.5 80.5h.6M13.1 60.1h.6M16.3 69.1h.6M5.1 77.8h.6M4.6 66.4h.6M3.6 85.1h.6M15.5 76.1h.6M14.8 66.5h.6M2.8 74.1h.6M12.1 76.8h.6M10.6 63.2h.6M19.4 72.3h.6M14.1 75.6h.6M10.3 72.2h.6M16.2 71.0h.6M4.3 85.9h.6M2.2 72.2h.6M9.6 79.7h.6M15.0 67.6h.6M0.7 86.1h.6M14.8 71.8h.6M14.1 79.8h.6M6.4 71.5h.6M10.6 77.8h.6M7.8 68.0h.6M9.9 82.9h.6M14.3 74.2h.6M4.5 76.4h.6M15.6 68.7h.6M14.5 75.0h.6M14.9 71.1h.6M12.8 87.6h.6M5.6 77.6h.6M5.6 69.9h.6M5.0 73.3h.6M2.1 76.6h.6M7.4 80.6h.6M5.0 75.9h.6M5.3 82.2h.6M12.7 72.9h.6M2.6 82.4h.6M21.9 60.8h.6M2.0 76.8h.6M12.8 78.7h.6M14.7 65.4h.6M9.3 71.3h.6M13.2 85.2h.6M8.8 87.1h.6M11.6 78.3h.6M16.1 69.1h.6M6.0 83.2h.6M0.8 74.3h.6M11.2 82.7h.6M11.2 80.5h.6M15.3 78.4h.6M12.9 76.3h.6M12.9 72.3h.6M20.8 62.3h.6M9.7 66.0h.6M14.3 63.3h.6M7.6 64.4h.6M8.5 68.2h.6M9.9 75.3h.6M17.4 57.0h.6M17.6 62.9h.6M12.7 60.4h.6M19.8 66.6h.6M12.4 80.4h.6M6.3 76.8h.6M16.7 64.7h.6M9.7 77.0h.6M14.9 63.3h.6M18.4 73.8h.6M20.4 58.9h.6M11.8 72.5h.6M7.1 76.6h.6M7.7 69.2h.6M10.1 72.5h.6M8.5 87.0h.6M19.2 66.1h.6M7.2 74.1h.6M15.1 80.6h.6M15.6 59.5h.6M19.5 54.0h.6M7.8 72.7h.6M13.9 64.5h.6M1.6 73.3h.6M3.0 82.4h.6M7.8 69.3h.6M9.3 71.9h.6M7.0 83.9h.6M13.8 75.1h.6M6.8 70.2h.6M8.2 75.3h.6M4.4 73.2h.6M17.2 70.9h.6M18.7 74.2h.6M10.6 61.2h.6M8.9 59.6h.6M18.5 64.1h.6M12.8 73.6h.6M5.7 70.6h.6M5.6 80.3h.6M20.4 73.2h.6M5.7 75.0h.6M23.5 60.4h.6M9.5 78.5h.6M8.1 81.4h.6M16.5 77.9h.6M8.0 82.6h.6M11.7 64.6h.6M3.4 83.3h.6M2.8 73.3h.6M5.2 85.2h.6M11.3 74.1h.6M5.3 82.4h.6M12.5 66.6h.6M8.6 88.6h.6M7.7 71.1h.6M5.7 73.5h.6M18.2 66.3h.6M6.2 79.9h.6M12.8 66.8h.6M17.3 67.2h.6M15.9 74.6h.6M11.1 72.1h.6M9.6 68.0h.6M11.7 69.9h.6M15.1 69.5h.6M13.4 69.8h.6M6.6 81.6h.6M12.5 75.8h.6M11.5 85.0h.6M14.0 72.2h.6M10.8 66.8h.6M17.2 70.3h.6M10.8 80.4h.6M14.7 64.1h.6M9.9 73.0h.6M5.7 77.5h.6M3.9 77.0h.6M8.5 70.6h.6M13.2 71.9h.6M16.6 73.8h.6M9.0 64.3h.6M6.0 77.9h.6M6.4 83.6h.6M16.9 66.8h.6M10.1 66.2h.6M6.7 87.0h.6M13.7 62.5h.6M2.0 83.0h.6M10.1 62.0h.6M9.2 70.1h.6M8.4 77.1h.6M3.3 72.9h.6M14.9 61.7h.6M18.6 68.6h.6M2.0 80.5h.6M10.4 78.4h.6M13.3 65.0h.6M20.7 72.6h.6M6.6 79.2h.6M9.5 70.3h.6M19.3 78.5h.6M9.9 82.1h.6M11.5 70.9h.6M19.0 68.3h.6M15.0 73.1h.6M13.7 82.1h.6M1.8 80.2h.6M12.7 66.2h.6M9.8 69.0h.6M11.3 73.7h.6M5.0 71.2h.6M6.5 74.2h.6M4.5 73.3h.6M9.9 71.3h.6M7.7 76.4h.6M18.5 71.3h.6M12.7 87.4h.6M1.0 78.9h.6M12.5 73.1h.6M16.8 56.4h.6M11.0 85.9h.6M15.7 63.6h.6M9.3 82.0h.6M14.1 70.7h.6M4.2 86.0h.6M14.4 67.8h.6M1.8 82.5h.6M16.7 62.6h.6M1.2 81.9h.6M12.6 63.6h.6M8.4 71.9h.6M10.5 75.4h.6M12.0 64.3h.6M9.3 76.4h.6M4.2 77.1h.6M11.1 76.3h.6M11.8 77.8h.6M19.8 61.0h.6M5.3 86.6h.6M10.0 69.0h.6M12.5 60.8h.6M7.0 86.2h.6M2.9 75.6h.6M5.7 79.3h.6M15.8 66.0h.6M8.0 84.6h.6M13.6 70.9h.6M4.9 78.2h.6M12.0 63.2h.6M6.0 65.3h.6M4.4 77.6h.6M10.4 77.3h.6M9.8 61.2h.6M17.7 67.9h.6M13.0 70.8h.6M18.3 63.8h.6M17.1 63.3h.6M7.0 81.7h.6M5.1 79.9h.6M6.9 65.7h.6M11.2 63.0h.6M10.9 70.0h.6M12.0 70.3h.6M13.5 73.0h.6M3.6 73.9h.6M3.0 84.5h.6M2.5 80.8h.6M2.0 85.0h.6M8.9 80.4h.6M11.9 72.3h.6M22.2 63.0h.6M12.9 76.0h.6M9.7 75.5h.6M17.5 67.0h.6M5.0 82.6h.6M11.7 77.8h.6M15.4 70.3h.6M14.2 65.6h.6M11.9 65.1h.6M7.0 75.7h.6M2.4 83.4h.6M8.2 76.4h.6M6.4 66.1h.6M13.6 64.8h.6M8.7 82.5h.6M13.3 71.7h.6M0.8 86.5h.6M15.3 71.9h.6M1.0 82.8h.6M5.6 82.9h.6M15.5 59.8h.6M13.7 64.2h.6M3.0 86.8h.6M10.1 81.7h.6M8.9 82.1h.6M3.9 86.7h.6M4.6 86.6h.6M4.5 80.0h.6M4.0 83.8h.6M5.3 68.0h.6M4.7 74.6h.6M16.3 68.0h.6M7.7 65.1h.6M10.9 64.8h.6M14.1 75.6h.6M15.0 67.4h.6M13.8 74.1h.6M6.4 87.2h.6M3.9 68.8h.6M5.3 69.3h.6M6.8 86.0h.6M9.6 70.8h.6M9.1 86.0h.6M15.6 62.2h.6M8.6 76.3h.6M19.1 67.7h.6M15.2 61.5h.6M6.2 77.9h.6M14.8 71.7h.6M17.3 69.6h.6M12.0 66.3h.6M12.4 72.1h.6M22.0 59.5h.6M7.9 70.5h.6M8.7 82.9h.6M15.3 58.0h.6M8.0 77.8h.6M5.0 68.2h.6M13.6 75.4h.6M3.5 82.5h.6M14.2 72.4h.6M10.3 66.1h.6M16.1 71.6h.6M2.6 78.6h.6M16.1 78.4h.6M11.5 76.8h.6M19.8 63.8h.6M5.3 79.7h.6M18.8 77.2h.6M13.9 67.1h.6M14.1 77.2h.6M5.7 66.5h.6M13.3 72.8h.6M12.9 58.1h.6M4.6 74.9h.6M2.9 78.0h.6M4.8 82.8h.6M17.7 68.0h.6M10.6 70.1h.6M14.4 82.3h.6M11.3 66.2h.6M10.2 82.4h.6M11.2 75.6h.6M16.5 65.3h.6M10.6 68.2h.6M11.2 70.8h.6M1.8 80.0h.6M11.7 75.9h.6M5.2 77.8h.6M6.7 69.4h.6M15.6 72.1h.6M3.2 77.4h.6M8.3 70.6h.6M13.6 72.8h.6M16.2 66.9h.6M6.1 76.4h.6M11.7 76.8h.6M11.0 58.9h.6M3.0 84.0h.6M12.7 84.6h.6M10.3 71.8h.6M2.3 75.1h.6M5.7 72.7h.6M7.1 83.7h.6M7.0 75.1h.6M9.4 83.4h.6M20.6 70.7h.6M4.6 81.3h.6M10.7 72.0h.6M5.4 68.5h.6M5.5 75.9h.6M4.6 72.5h.6M8.2 84.5h.6M6.3 85.8h.6M11.9 76.5h.6M10.7 62.5h.6M4.6 88.3h.6M19.2 75.3h.6M2.7 81.8h.6M11.6 64.8h.6M20.2 74.4h.6M5.0 81.1h.6M16.6 76.9h.6M16.9 58.9h.6M11.7 67.6h.6M17.5 67.7h.6M10.3 76.4h.6M5.9 77.2h.6M16.7 72.5h.6M5.3 85.1h.6M15.4 76.7h.6M5.8 78.3h.6M12.8 77.6h.6M3.5 74.8h.6M4.1 76.0h.6M5.2 75.1h.6M10.6 65.5h.6M8.2 78.5h.6M10.6 84.0h.6M16.6 74.4h.6M8.9 67.6h.6M7.5 80.2h.6M10.1 79.1h.6M15.6 69.7h.6M15.7 70.8h.6M14.6 80.1h.6M8.0 81.1h.6M13.3 64.4h.6M2.0 73.0h.6M16.9 68.8h.6M12.4 76.3h.6M12.4 63.2h.6M6.8 79.0h.6M9.9 82.9h.6M5.2 80.0h.6M13.0 66.5h.6M2.6 71.7h.6M15.3 73.0h.6M13.0 67.6h.6M20.0 67.1h.6M9.3 67.1h.6M8.8 73.2h.6M11.0 71.2h.6M9.8 81.9h.6M8.7 78.6h.6M3.1 83.3h.6M6.1 72.0h.6M7.3 77.1h.6M2.7 82.9h.6M2.8 83.8h.6M7.3 76.8h.6M14.2 68.7h.6M8.4 85.0h.6M13.9 69.9h.6M15.4 68.6h.6M14.4 70.2h.6M7.2 87.0h.6M6.7 78.8h.6M5.2 76.4h.6M12.2 63.6h.6M3.4 74.9h.6M17.1 70.1h.6M17.4 71.1h.6M7.1 81.7h.6M15.1 67.2h.6M1.8 86.7h.6M3.4 84.4h.6M9.6 81.3h.6M8.4 82.0h.6M4.4 83.7h.6M19.5 58.2h.6M11.2 82.6h.6M11.2 82.5h.6M13.7 66.6h.6M10.6 81.1h.6M7.7 78.2h.6M5.8 77.1h.6M17.6 72.4h.6M4.3 73.6h.6M1.0 73.8h.6M4.9 86.2h.6M0.8 85.0h.6M19.7 59.6h.6M12.1 74.3h.6M17.1 74.3h.6M17.5 70.2h.6M13.0 65.7h.6M12.9 78.8h.6M5.0 77.4h.6M8.9 72.2h.6M5.8 83.3h.6M9.8 70.1h.6M5.3 74.1h.6M16.4 61.9h.6M14.0 64.3h.6M8.9 85.5h.6M0.7 77.6h.6M13.7 66.7h.6M14.6 63.6h.6M9.1 81.7h.6M2.6 75.6h.6M12.4 69.2h.6M15.3 77.1h.6M13.0 77.4h.6M10.1 71.0h.6M18.8 70.1h.6M10.2 71.1h.6M12.8 73.9h.6M7.3 74.7h.6M9.5 68.9h.6M21.4 64.0h.6M16.8 62.4h.6M7.6 70.5h.6M7.2 83.3h.6M9.6 68.5h.6M20.7 60.7h.6M11.2 72.1h.6M15.6 61.9h.6M7.6 66.1h.6M2.5 76.6h.6M16.5 77.6h.6M9.0 71.7h.6M4.6 80.6h.6M5.1 81.1h.6M5.3 76.3h.6M5.6 81.2h.6M1.7 72.4h.6M16.4 66.5h.6M12.3 72.1h.6M15.1 64.3h.6M7.4 71.0h.6M11.5 64.9h.6M10.6 68.9h.6M16.3 68.7h.6M14.6 69.1h.6M11.4 86.5h.6M6.0 87.9h.6M3.0 74.3h.6M4.6 82.0h.6M6.2 66.6h.6M6.7 66.2h.6M18.5 64.5h.6M10.8 56.8h.6M3.2 78.1h.6M2.0 83.6h.6M11.3 75.3h.6M15.8 71.0h.6M3.6 80.6h.6M13.3 65.9h.6M7.8 82.5h.6M16.1 65.3h.6M17.0 72.5h.6M11.6 68.8h.6M14.0 68.3h.6M9.5 80.8h.6M6.9 76.2h.6M3.0 86.0h.6M11.5 79.2h.6M9.1 67.1h.6M7.5 88.5h.6M9.0 70.9h.6M8.4 70.6h.6M3.5 84.7h.6M6.5 70.2h.6M15.9 62.9h.6M8.2 85.0h.6M17.2 64.2h.6M3.0 77.9h.6M2.1 86.8h.6M10.4 69.5h.6M14.1 65.3h.6M5.6 83.8h.6M12.8 84.3h.6M15.1 66.8h.6M15.6 74.2h.6M8.9 86.6h.6M9.2 78.6h.6M9.7 77.8h.6M11.1 63.5h.6M16.3 84.9h.6M2.4 78.5h.6M4.7 85.8h.6M3.7 83.3h.6M14.6 76.3h.6M3.2 80.9h.6M20.0 69.8h.6M13.2 80.2h.6M2.1 84.8h.6M9.2 67.1h.6M14.2 78.6h.6M13.1 68.3h.6M8.0 73.4h.6M14.2 63.0h.6M9.5 75.4h.6M13.6 57.5h.6M11.6 61.7h.6M6.4 79.9h.6M17.5 68.4h.6M6.6 84.8h.6M11.9 81.9h.6M5.8 72.7h.6M7.8 78.7h.6M7.8 79.9h.6M5.3 80.2h.6M11.0 68.2h.6M16.6 62.0h.6M19.3 65.7h.6M17.4 68.7h.6M8.1 75.1h.6M16.7 55.7h.6M11.7 85.9h.6M18.7 73.4h.6M2.5 78.3h.6M17.7 66.2h.6M6.2 69.7h.6M15.7 60.6h.6M7.1 64.7h.6M14.8 75.5h.6M7.7 71.8h.6M4.1 73.4h.6M7.7 74.8h.6M9.7 68.1h.6M2.7 80.2h.6M5.1 82.9h.6M8.0 78.7h.6M11.1 77.2h.6M4.9 86.3h.6M1.6 75.2h.6M11.7 70.3h.6M7.6 68.9h.6M14.5 77.0h.6M13.4 75.9h.6M4.1 81.0h.6M11.2 67.3h.6M10.1 66.8h.6M12.1 64.1h.6M4.6 69.6h.6M8.8 69.9h.6M4.4 78.9h.6M8.5 81.7h.6M13.3 66.2h.6M23.7 64.4h.6M9.8 80.8h.6M13.8 66.5h.6M10.4 71.9h.6M15.8 63.1h.6M12.4 77.5h.6M15.2 61.7h.6M11.9 69.6h.6M21.5 64.6h.6M17.0 72.8h.6M11.2 82.6h.6M10.0 64.9h.6M4.5 75.0h.6M6.4 79.8h.6M5.1 83.3h.6M10.4 77.9h.6M13.8 64.4h.6M14.2 66.3h.6M12.1 72.4h.6M7.7 85.9h.6M9.6 86.4h.6M7.1 65.2h.6M15.8 75.7h.6M12.3 82.6h.6M19.5 58.5h.6M7.6 86.8h.6M17.3 62.6h.6M6.2 71.3h.6M8.3 73.7h.6M3.8 73.7h.6M12.4 81.5h.6M9.2 83.7h.6M13.6 72.5h.6M17.7 67.2h.6M9.0 76.2h.6M12.0 68.7h.6M14.7 75.1h.6M9.3 88.5h.6M6.1 74.9h.6M12.1 74.4h.6M12.6 66.0h.6M13.5 58.2h.6M14.7 69.4h.6M5.5 74.3h.6M12.2 78.9h.6M16.2 62.5h.6M6.5 74.9h.6M12.1 70.3h.6M6.0 71.7h.6M10.5 82.0h.6M18.6 62.6h.6M10.8 69.9h.6M4.5 69.4h.6M11.4 84.8h.6M11.3 74.0h.6M15.1 56.3h.6M2.0 84.7h.6M4.2 83.1h.6M9.2 63.7h.6M2.2 67.1h.6M16.1 67.8h.6M4.7 83.8h.6M1.6 85.0h.6M5.7 84.5h.6M14.2 76.2h.6M13.5 69.7h.6M15.1 69.3h.6M13.3 67.6h.6M11.3 81.7h.6M6.3 75.9h.6M7.1 81.8h.6M6.0 80.4h.6M12.8 69.2h.6M4.6 78.9h.6M18.7 67.1h.6M13.1 65.9h.6M15.9 61.8h.6M14.2 72.8h.6M15.0 69.9h.6M9.3 83.0h.6M19.7 66.4h.6M3.5 77.2h.6M12.3 65.9h.6M9.6 73.0h.6M7.8 77.3h.6M11.6 78.4h.6M4.9 77.6h.6M14.4 77.7h.6M14.4 69.3h.6M10.5 73.7h.6M13.8 77.2h.6M3.6 78.2h.6M6.0 73.6h.6M8.0 80.3h.6M21.8 60.4h.6M8.3 65.6h.6M15.6 67.9h.6M14.4 64.7h.6M20.2 68.8h.6M10.4 77.2h.6M13.0 83.7h.6M8.1 77.7h.6M4.8 87.0h.6M3.7 79.6h.6M17.2 73.3h.6M11.7 72.0h.6M8.5 72.5h.6M9.7 85.7h.6M6.0 81.5h.6M9.4 59.6h.6M9.3 69.1h.6M13.7 69.7h.6M13.9 87.0h.6M11.1 69.2h.6M17.2 66.1h.6M3.7 77.2h.6M8.1 69.3h.6M11.0 72.5h.6M15.7 63.4h.6M12.7 83.4h.6M8.5 60.7h.6M12.9 74.1h.6M15.5 73.8h.6M11.7 62.9h.6M19.2 62.0h.6M12.1 65.5h.6M3.6 84.8h.6M4.8 77.3h.6M8.8 70.1h.6M8.4 84.1h.6M13.6 72.8h.6M12.1 74.6h.6M18.6 68.2h.6M14.3 75.4h.6M17.3 75.6h.6M5.0 76.0h.6M6.7 75.5h.6M13.4 63.4h.6M10.5 74.7h.6M13.4 76.3h.6M11.0 83.4h.6M5.6 78.0h.6M18.6 68.4h.6M15.3 57.1h.6M2.1 68.4h.6M6.3 67.6h.6M9.8 81.4h.6M13.3 80.7h.6M9.1 77.6h.6M2.3 87.7h.6M14.1 61.3h.6M8.0 75.2h.6M16.4 71.3h.6M11.9 72.8h.6M15.0 61.5h.6M14.3 77.0h.6M14.8 66.4h.6M6.8 86.5h.6M15.6 70.7h.6M10.9 78.8h.6M2.6 79.3h.6M6.9 76.1h.6M7.7 68.3h.6M12.5 67.0h.6M13.8 75.4h.6M13.8 76.7h.6M9.2 78.9h.6M3.5 82.3h.6M14.4 75.7h.6M5.4 71.4h.6M3.2 74.7h.6M14.3 72.5h.6M14.9 73.4h.6M5.5 80.6h.6M15.8 69.4h.6M15.5 69.5h.6M6.9 88.1h.6M19.8 68.0h.6M9.4 87.2h.6M11.5 72.8h.6M13.3 78.8h.6M5.7 77.3h.6M12.4 76.9h.6M0.7 87.7h.6M15.4 57.3h.6M17.4 61.8h.6M19.4 62.6h.6M13.4 68.2h.6M12.1 74.2h.6M5.5 85.2h.6M9.0 76.3h.6M17.4 70.2h.6M5.2 88.4h.6M10.8 62.7h.6M9.4 68.9h.6M11.9 78.6h.6M7.6 86.7h.6M14.8 75.1h.6M15.2 75.4h.6M2.3 85.9h.6M15.5 79.0h.6M5.4 84.8h.6M7.7 76.1h.6M16.1 65.9h.6M10.2 86.9h.6M13.5 71.2h.6M14.2 77.4h.6M13.2 78.9h.6M6.3 80.6h.6M4.3 84.8h.6M13.8 65.9h.6M14.2 65.6h.6M12.2 75.0h.6M8.6 81.0h.6M14.2 59.3h.6M9.6 62.9h.6M2.2 79.2h.6M11.9 74.1h.6M12.7 64.9h.6M13.9 61.3h.6M4.6 83.5h.6M5.9 66.9h.6M12.2 73.8h.6M7.3 69.4h.6M9.4 79.4h.6M15.4 69.0h.6M12.4 75.9h.6M19.3 65.6h.6M11.5 65.8h.6M18.6 72.2h.6M15.9 71.1h.6M22.1 59.9h.6M10.1 78.5h.6M9.4 62.2h.6M16.5 77.7h.6M7.4 61.7h.6M7.1 82.4h.6M11.4 66.1h.6M11.9 62.1h.6M2.3 78.2h.6M11.3 82.9h.6M7.9 79.5h.6M10.0 73.7h.6M11.2 68.9h.6M8.9 68.4h.6M15.7 61.7h.6M12.6 62.3h.6M8.9 82.6h.6M10.5 66.8h.6M15.2 80.7h.6M14.8 68.9h.6M16.7 75.3h.6M9.3 86.9h.6M10.9 66.9h.6M20.2 65.2h.6M9.9 67.4h.6M18.3 76.5h.6M14.6 78.4h.6M7.1 78.2h.6M2.5 86.2h.6M14.1 70.1h.6M5.9 83.2h.6M5.7 81.3h.6M16.2 60.3h.6M11.0 76.5h.6M10.3 82.7h.6M12.5 67.0h.6M11.8 68.9h.6M11.0 71.6h.6M13.5 69.5h.6M8.3 79.6h.6M13.7 84.8h.6M12.3 82.7h.6M10.3 83.0h.6M18.4 64.7h.6M2.8 73.3h.6M18.0 68.8h.6M12.4 64.3h.6M1.3 85.2h.6M7.6 71.6h.6M13.9 67.6h.6M13.6 68.6h.6M20.6 63.3h.6M17.2 75.2h.6M10.0 82.2h.6M11.9 81.6h.6M5.0 70.0h.6M10.7 60.5h.6M8.1 70.8h.6M4.9 69.1h.6M19.5 57.0h.6M10.5 61.4h.6M4.8 69.0h.6M7.7 83.7h.6M17.7 60.3h.6M18.6 67.2h.6M6.7 70.1h.6M11.4 78.3h.6M15.4 69.4h.6M8.0 81.1h.6M3.5 77.3h.6M4.3 80.7h.6M10.2 66.3h.6M5.7 72.6h.6M2.9 78.3h.6M8.4 76.5h.6M15.5 71.6h.6M14.4 70.4h.6M8.8 69.9h.6M19.8 64.5h.6M5.3 76.7h.6M9.8 75.2h.6M2.5 82.2h.6M14.6 75.0h.6M9.4 87.3h.6M1.2 79.0h.6M5.2 74.9h.6M19.1 72.1h.6M13.7 58.9h.6M10.7 82.2h.6M14.8 63.1h.6M1.5 80.9h.6M5.1 76.8h.6M3.1 73.5h.6M5.4 72.3h.6M7.4 76.8h.6M13.1 79.2h.6M15.4 77.6h.6M15.7 67.8h.6M22.4 53.6h.6M7.2 70.6h.6M10.3 74.6h.6M22.8 21.4h.6M24.1 9.6h.6M28.7 56.1h.6M15.1 37.4h.6M25.0 19.0h.6M22.2 50.5h.6M16.2 54.5h.6M13.9 34.9h.6M28.0 34.6h.6M22.8 43.9h.6M19.3 11.3h.6M21.0 12.2h.6M26.5 21.7h.6M21.6 35.0h.6M29.4 35.2h.6M18.7 19.5h.6M15.1 38.9h.6M19.8 12.6h.6M15.2 17.5h.6M17.9 44.8h.6M27.5 20.3h.6M29.0 11.4h.6M24.6 21.3h.6M21.8 48.1h.6M14.5 39.3h.6M14.1 40.4h.6M23.6 29.5h.6M22.3 31.4h.6M16.2 40.6h.6M17.6 20.2h.6M28.5 13.4h.6M26.6 39.8h.6M20.8 53.9h.6M22.3 24.8h.6M28.1 30.5h.6M23.2 24.0h.6M22.2 44.4h.6M11.6 31.5h.6M11.4 47.5h.6M10.7 22.1h.6M9.8 16.5h.6M20.4 48.1h.6M22.1 63.5h.6M14.8 42.2h.6M23.7 41.1h.6M24.0 27.5h.6M19.5 31.3h.6M12.1 28.2h.6M28.4 38.2h.6M16.2 40.4h.6M30.6 24.0h.6M20.7 57.3h.6M15.6 21.9h.6M17.5 44.2h.6M11.1 53.2h.6M18.1 47.2h.6M11.6 28.3h.6M27.0 18.6h.6M22.3 13.8h.6M12.5 28.6h.6M24.3 43.1h.6M11.2 27.8h.6M22.2 33.0h.6M22.8 3.4h.6M20.8 59.0h.6M14.6 13.4h.6M19.7 19.5h.6M19.0 24.4h.6M21.4 33.5h.6M28.9 37.6h.6M29.5 42.3h.6M28.6 49.7h.6M17.2 7.8h.6M15.9 19.6h.6M20.6 20.3h.6M23.7 24.2h.6M10.6 57.9h.6M15.9 38.2h.6M30.2 27.7h.6M13.7 18.7h.6M15.9 48.6h.6M15.6 28.6h.6M24.3 35.1h.6M19.7 30.0h.6M18.2 46.0h.6M11.9 29.6h.6M25.0 28.8h.6M20.5 57.2h.6M16.6 16.0h.6M20.6 4.9h.6M25.4 44.0h.6M12.6 19.4h.6M12.0 47.7h.6M14.0 41.9h.6M15.9 10.9h.6M6.3 34.2h.6M17.1 12.5h.6M27.3 25.3h.6M18.4 17.0h.6M27.0 32.4h.6M7.4 20.1h.6M19.8 8.7h.6M28.2 20.2h.6M29.2 37.0h.6M16.6 39.4h.6M15.3 47.5h.6M23.1 20.4h.6M13.3 26.3h.6M17.8 44.5h.6M11.6 22.6h.6M21.1 42.4h.6M20.5 8.1h.6M29.2 18.4h.6M22.4 9.8h.6M16.0 44.5h.6M19.8 48.1h.6M13.8 57.0h.6M20.7 20.1h.6M19.0 49.6h.6M22.8 12.1h.6M26.5 27.2h.6M10.2 25.2h.6M22.4 50.2h.6M25.4 39.6h.6M13.1 30.9h.6M30.3 19.4h.6M16.2 51.4h.6M32.5 24.1h.6M25.5 42.8h.6M26.2 18.0h.6M23.0 34.8h.6M26.9 34.1h.6M14.0 26.7h.6M15.8 16.7h.6M10.0 37.9h.6M23.6 13.2h.6M16.0 48.0h.6M25.5 24.9h.6M24.1 47.3h.6M12.6 30.7h.6M24.9 44.3h.6M22.8 28.9h.6M21.8 20.1h.6M23.5 45.9h.6M20.3 55.7h.6M20.6 35.0h.6M26.8 21.8h.6M14.1 29.6h.6M13.4 46.6h.6M15.8 20.4h.6M27.1 33.9h.6M18.3 19.6h.6M30.4 40.1h.6M6.2 31.2h.6M16.3 16.2h.6M17.2 43.8h.6M22.9 36.3h.6M28.1 20.7h.6M19.1 22.2h.6M14.1 27.9h.6M26.2 31.6h.6M28.5 49.2h.6M7.9 35.7h.6M23.9 49.5h.6M23.0 28.1h.6M16.2 61.8h.6M17.8 12.9h.6M21.9 7.1h.6M20.6 22.7h.6M18.7 46.4h.6M13.2 38.3h.6M22.3 17.1h.6M16.1 22.4h.6M21.1 44.0h.6M17.0 15.7h.6M21.8 19.1h.6M25.3 21.6h.6M22.6 37.9h.6M25.2 29.9h.6M12.5 44.1h.6M24.0 26.6h.6M22.6 42.7h.6M16.8 16.2h.6M18.8 30.0h.6M7.1 33.6h.6M21.1 24.3h.6M17.3 26.3h.6M9.4 52.2h.6M23.3 12.9h.6M15.8 31.0h.6M22.6 41.1h.6M18.8 47.9h.6M23.8 42.2h.6M21.1 42.9h.6M17.8 31.3h.6M23.7 44.6h.6M26.1 28.0h.6M8.9 33.6h.6M20.6 44.1h.6M17.4 6.1h.6M13.5 35.6h.6M28.1 24.7h.6M26.7 28.0h.6M13.8 36.2h.6M13.8 24.1h.6M24.9 12.0h.6M15.7 34.2h.6M18.1 46.7h.6M10.1 28.2h.6M19.7 59.8h.6M27.4 27.4h.6M16.6 36.2h.6M19.4 25.1h.6M29.3 48.3h.6M26.2 37.1h.6M28.3 43.6h.6M24.8 39.7h.6M27.5 21.6h.6M11.2 37.6h.6M15.0 43.1h.6M11.8 19.9h.6M31.7 28.8h.6M21.4 58.3h.6M19.6 49.0h.6M15.3 27.0h.6M14.1 27.5h.6M7.1 34.0h.6M31.8 25.9h.6M19.8 47.4h.6M21.3 34.0h.6M12.7 50.5h.6M20.0 46.7h.6M22.9 46.4h.6M19.8 46.9h.6M24.9 37.1h.6M14.7 37.9h.6M22.6 45.3h.6M25.6 15.9h.6M24.5 39.4h.6M22.5 11.3h.6M19.7 17.4h.6M14.7 51.3h.6M23.9 18.1h.6M18.1 53.5h.6M15.2 15.3h.6M25.6 25.9h.6M11.8 48.5h.6M17.5 61.1h.6M25.6 38.0h.6M25.7 50.0h.6M18.1 17.4h.6M20.8 51.5h.6M24.5 36.2h.6M19.8 23.9h.6M15.0 34.7h.6M23.8 27.2h.6M21.9 38.5h.6M21.1 20.6h.6M26.9 44.6h.6M22.6 22.5h.6M17.6 51.8h.6M22.0 28.6h.6M30.3 44.6h.6M15.3 38.4h.6M18.4 23.5h.6M15.8 17.6h.6M22.3 56.6h.6M13.1 46.4h.6M23.2 47.7h.6M24.8 15.1h.6M15.6 48.0h.6M15.0 24.4h.6M12.0 43.1h.6M20.6 53.8h.6M13.4 34.0h.6M16.6 51.2h.6M17.5 22.4h.6M16.0 22.2h.6M25.1 13.8h.6M28.9 44.2h.6M10.1 18.2h.6M15.5 20.9h.6M21.7 56.8h.6M15.2 8.5h.6M17.4 12.1h.6M21.7 49.3h.6M28.5 26.6h.6M26.8 49.5h.6M17.7 37.5h.6M21.7 28.7h.6M17.8 23.7h.6M19.2 47.7h.6M13.2 36.2h.6M11.1 48.3h.6M17.5 27.3h.6M26.4 21.9h.6M25.8 30.9h.6M10.8 22.2h.6M19.0 21.2h.6M15.9 28.6h.6M22.2 15.7h.6M14.3 52.3h.6M26.5 32.5h.6M19.3 57.5h.6M24.8 32.8h.6M26.1 39.4h.6M10.3 26.2h.6M18.7 42.8h.6M28.8 39.8h.6M20.6 36.7h.6M27.1 33.8h.6M23.5 23.6h.6M17.2 48.3h.6M22.0 54.0h.6M26.0 52.6h.6M27.5 16.1h.6M28.1 47.7h.6M13.6 42.6h.6M25.3 48.0h.6M12.7 24.0h.6M19.4 44.4h.6M19.1 15.8h.6M24.5 43.7h.6M23.0 26.9h.6M27.6 20.8h.6M16.6 20.1h.6M25.3 49.0h.6M23.4 39.8h.6M20.4 36.4h.6M14.3 58.2h.6M24.2 20.9h.6M22.9 25.3h.6M25.6 23.9h.6M20.2 53.6h.6M18.0 30.3h.6M23.4 24.6h.6M23.3 17.0h.6M25.1 40.8h.6M30.4 22.0h.6M17.2 9.6h.6M30.9 36.0h.6M6.6 42.3h.6M26.6 36.8h.6M15.9 55.0h.6M30.9 35.1h.6M15.6 13.7h.6M26.6 44.9h.6M14.0 38.5h.6M14.1 19.2h.6M25.6 23.0h.6M26.2 28.1h.6M15.5 40.7h.6M32.4 31.4h.6M17.5 34.2h.6M29.0 21.7h.6M13.9 34.3h.6M14.7 21.7h.6M20.9 57.8h.6M14.4 23.4h.6M23.7 41.9h.6M9.4 36.6h.6M21.9 41.5h.6M16.6 24.0h.6M14.1 37.3h.6M22.0 21.9h.6M18.9 47.4h.6M16.8 30.9h.6M25.1 14.9h.6M22.2 16.1h.6M23.4 39.4h.6M28.3 29.1h.6M19.8 41.5h.6M26.1 33.8h.6M16.9 34.2h.6M24.0 15.0h.6M24.1 22.5h.6M17.3 14.3h.6M12.6 16.6h.6M13.5 52.3h.6M14.3 30.4h.6M24.4 40.1h.6M19.7 55.7h.6M18.6 50.5h.6M23.9 41.3h.6M24.4 10.3h.6M28.6 29.8h.6M16.0 38.1h.6M24.7 32.7h.6M25.0 43.8h.6M14.2 32.5h.6M21.8 35.5h.6M15.5 56.2h.6M18.7 43.8h.6M11.2 27.9h.6M14.6 36.7h.6M15.3 24.6h.6M21.0 48.7h.6M15.2 33.4h.6M22.9 18.7h.6M15.8 55.9h.6M17.0 46.4h.6M24.7 39.0h.6M23.1 38.3h.6M21.6 42.8h.6M20.0 27.2h.6M26.2 17.3h.6M28.4 26.2h.6M18.1 18.4h.6M16.1 19.5h.6M14.1 44.1h.6M29.9 27.0h.6M14.6 41.0h.6M12.8 26.5h.6M22.6 39.7h.6M27.1 34.3h.6M14.0 14.0h.6M19.1 38.1h.6M13.0 55.1h.6M15.4 32.8h.6M29.4 26.7h.6M21.7 42.6h.6M17.9 32.4h.6M20.9 17.4h.6M22.6 42.2h.6M19.3 38.3h.6M13.5 45.5h.6M13.3 30.6h.6M30.9 31.8h.6M15.7 48.4h.6M27.7 33.5h.6M16.6 11.1h.6M27.1 52.6h.6M24.4 51.2h.6M18.6 26.9h.6M30.4 47.0h.6M15.6 10.6h.6M19.1 54.4h.6M15.6 52.7h.6M15.3 43.0h.6M18.2 17.8h.6M14.7 23.3h.6M18.0 23.9h.6M29.3 26.7h.6M11.5 19.9h.6M14.0 57.7h.6M14.3 30.8h.6M17.8 14.3h.6M26.3 46.5h.6M25.4 26.4h.6M23.3 14.9h.6M21.6 14.7h.6M32.3 31.4h.6M14.7 12.0h.6M13.5 28.0h.6M20.3 17.0h.6M21.7 49.3h.6M18.8 46.5h.6M15.2 46.3h.6M13.8 13.6h.6M19.0 62.0h.6M16.7 57.9h.6M17.3 21.5h.6M13.6 33.1h.6M26.5 64.0h.6M23.8 39.4h.6M30.3 34.3h.6M17.4 16.8h.6M20.7 57.9h.6M18.5 43.6h.6M20.6 16.9h.6M18.7 21.1h.6M19.3 48.3h.6M10.1 40.0h.6M18.9 54.2h.6M24.4 13.4h.6M10.2 41.7h.6M18.4 15.6h.6M24.1 19.6h.6M27.6 43.2h.6M19.5 37.3h.6M23.6 21.5h.6M29.9 24.7h.6M27.2 12.0h.6M17.7 17.6h.6M16.1 28.8h.6M26.6 21.3h.6M22.0 44.9h.6M16.7 44.2h.6M18.7 23.0h.6M23.0 25.8h.6M19.2 50.3h.6M18.0 35.5h.6M18.8 46.8h.6M12.0 43.2h.6M29.3 14.7h.6M27.4 44.0h.6M28.8 39.4h.6M19.4 23.1h.6M21.8 30.4h.6M24.7 28.7h.6M25.0 51.1h.6M10.6 36.4h.6M23.3 39.2h.6M14.4 46.6h.6M19.9 43.7h.6M15.7 39.4h.6M29.5 19.7h.6M23.3 8.4h.6M20.1 29.6h.6M27.7 12.4h.6M19.6 29.8h.6M16.4 54.2h.6M18.5 31.8h.6M18.3 15.5h.6M20.7 13.4h.6M25.6 44.4h.6M19.8 6.1h.6M20.0 45.8h.6M26.6 41.8h.6M22.6 41.8h.6M25.6 12.5h.6M21.5 24.6h.6M13.1 22.9h.6M14.9 61.1h.6M11.3 36.4h.6M27.5 32.5h.6M23.3 20.6h.6M16.9 42.1h.6M14.8 18.5h.6M23.0 43.7h.6M19.6 52.9h.6M22.2 54.4h.6M15.6 17.2h.6M13.9 24.2h.6M29.0 40.6h.6M15.0 19.3h.6M20.2 37.2h.6M28.3 32.2h.6M11.2 53.3h.6M25.1 40.3h.6M21.2 29.2h.6M19.1 28.3h.6M22.5 42.3h.6M13.7 21.4h.6M9.8 19.6h.6M30.3 40.1h.6M18.2 25.8h.6M25.3 51.5h.6M27.2 24.7h.6M22.3 47.4h.6M24.1 34.5h.6M25.4 28.3h.6M29.3 33.5h.6M23.4 16.5h.6M27.7 41.4h.6M18.1 42.1h.6M17.2 27.6h.6M21.6 32.6h.6M23.6 26.8h.6M24.5 35.2h.6M30.5 39.9h.6M25.7 21.2h.6M21.2 29.7h.6M30.5 18.9h.6M22.4 13.6h.6M23.3 38.5h.6M23.8 43.7h.6M17.8 41.8h.6M13.9 44.1h.6M21.1 57.9h.6M18.7 11.6h.6M14.8 27.9h.6M21.0 4.8h.6M18.9 43.4h.6M16.5 24.2h.6M10.9 32.1h.6M18.6 34.4h.6M29.6 17.9h.6M26.3 30.8h.6M27.2 31.8h.6M20.2 28.2h.6M25.7 57.8h.6M16.0 45.2h.6M17.3 45.6h.6M23.3 10.4h.6M12.4 27.2h.6M20.8 19.6h.6M22.6 21.3h.6M29.7 32.5h.6M16.7 12.6h.6M23.9 35.4h.6M16.7 53.2h.6M16.8 23.5h.6M7.9 23.4h.6M14.3 32.7h.6M27.4 25.3h.6M23.7 17.4h.6M21.3 11.8h.6M32.4 22.4h.6M23.4 10.1h.6M13.1 30.7h.6M19.4 7.3h.6M20.1 52.4h.6M29.0 18.1h.6M14.6 29.8h.6M23.9 28.9h.6M26.0 48.3h.6M15.7 19.0h.6M21.5 36.7h.6M10.3 47.8h.6M21.2 43.6h.6M9.3 38.8h.6M17.2 31.1h.6M29.6 41.5h.6M23.1 46.2h.6M20.9 24.1h.6M22.2 33.2h.6M30.5 7.9h.6M24.5 38.5h.6M26.6 20.2h.6M18.1 10.9h.6M16.9 37.2h.6M14.5 20.8h.6M19.0 26.5h.6M15.5 33.0h.6M25.7 10.8h.6M24.5 46.1h.6M19.6 43.7h.6M17.5 56.5h.6M6.9 38.1h.6M16.8 19.2h.6M23.1 36.7h.6M24.6 19.0h.6M6.4 45.2h.6M9.0 23.1h.6M22.2 34.2h.6M14.0 41.6h.6M19.3 11.4h.6M16.7 33.6h.6M24.4 22.1h.6M10.6 34.1h.6M16.7 22.6h.6M26.6 28.8h.6M21.7 50.0h.6M15.0 29.6h.6M23.7 23.3h.6M22.7 24.4h.6M14.6 37.9h.6M24.1 8.8h.6M24.9 42.6h.6M19.1 29.4h.6M26.5 27.4h.6M13.8 49.2h.6M25.0 48.0h.6M19.1 21.6h.6M14.7 24.4h.6M16.1 31.2h.6M26.6 51.1h.6M16.3 38.8h.6M17.6 28.4h.6M16.2 24.0h.6M15.9 17.7h.6M26.5 24.0h.6M31.3 18.2h.6M27.3 10.4h.6M23.0 60.0h.6M25.0 17.1h.6M17.7 41.4h.6M17.0 25.3h.6M13.3 31.7h.6M28.3 43.7h.6M18.2 47.6h.6M15.7 26.9h.6M15.8 37.0h.6M21.8 20.1h.6M16.4 40.4h.6M20.6 6.5h.6M22.1 37.5h.6M27.0 6.6h.6M13.3 45.3h.6M22.6 22.2h.6M16.4 18.1h.6M17.9 52.0h.6M29.1 42.5h.6M24.8 24.5h.6M18.1 16.8h.6M23.3 13.2h.6M20.3 22.6h.6M26.7 16.8h.6M17.5 50.5h.6M24.1 38.9h.6M19.3 13.3h.6M20.6 42.9h.6M19.0 38.3h.6M17.1 56.3h.6M21.7 36.6h.6M25.8 51.7h.6M16.2 27.7h.6M18.3 13.5h.6M23.4 25.8h.6M15.3 31.4h.6M26.2 37.2h.6M25.1 22.6h.6M9.3 49.1h.6M15.9 41.6h.6M15.1 9.0h.6M25.2 49.1h.6M26.4 39.4h.6M14.0 52.8h.6M16.5 17.0h.6M19.7 38.4h.6M18.3 51.7h.6M24.7 49.0h.6M26.0 16.1h.6M24.4 21.0h.6M26.9 19.8h.6M26.6 31.9h.6M20.0 18.8h.6M18.0 15.4h.6M15.8 24.0h.6M24.9 52.4h.6M25.1 55.8h.6M26.0 50.3h.6M17.8 28.2h.6M18.3 54.0h.6M22.2 48.7h.6M28.0 30.2h.6M22.9 46.1h.6M21.9 51.0h.6M15.6 20.7h.6M23.7 23.5h.6M24.0 19.8h.6M14.9 21.7h.6M29.3 13.2h.6M14.4 35.5h.6M26.5 34.2h.6M19.4 56.5h.6M22.1 38.0h.6M15.4 44.0h.6M17.1 18.9h.6M25.0 21.5h.6M19.4 13.4h.6M18.4 17.7h.6M25.6 15.6h.6M25.2 23.5h.6M22.2 29.3h.6M22.4 40.2h.6M29.9 30.8h.6M19.4 48.6h.6M23.5 25.3h.6M24.0 33.9h.6M13.6 59.4h.6M11.8 65.1h.6M21.4 45.4h.6M26.1 38.9h.6M22.3 39.1h.6M17.4 16.3h.6M16.2 44.7h.6M25.1 49.4h.6M18.2 26.8h.6M12.0 23.3h.6M24.2 11.0h.6M22.0 48.5h.6M23.6 37.4h.6M26.9 37.9h.6M27.4 12.6h.6M24.2 21.3h.6M18.7 33.5h.6M9.8 27.9h.6M22.9 39.7h.6M19.1 38.7h.6M28.3 31.7h.6M27.9 38.3h.6M24.2 37.1h.6M28.4 26.3h.6M19.8 28.1h.6M20.3 13.3h.6M15.4 22.5h.6M17.7 36.1h.6M21.6 59.9h.6M26.2 50.9h.6M15.6 43.1h.6M25.8 38.1h.6M31.6 45.2h.6M12.7 41.2h.6M18.1 31.9h.6M20.7 44.8h.6M26.9 34.0h.6M30.8 31.8h.6M27.6 41.3h.6M20.3 47.7h.6M14.8 37.5h.6M20.0 27.8h.6M20.3 49.6h.6M21.8 58.6h.6M15.2 48.9h.6M29.0 24.6h.6M16.6 55.8h.6M24.7 18.9h.6M22.1 43.7h.6M13.7 34.0h.6M21.0 46.5h.6M20.7 23.2h.6M18.5 33.5h.6M25.9 26.5h.6M18.0 58.8h.6M32.7 22.0h.6M26.4 52.9h.6M14.6 40.8h.6M8.4 31.5h.6M28.0 34.4h.6M22.5 24.2h.6M21.5 29.6h.6M14.2 34.5h.6M12.5 46.9h.6M10.9 24.5h.6M32.6 17.7h.6M29.3 38.3h.6M17.0 48.4h.6M30.4 28.4h.6M10.8 46.1h.6M25.5 30.3h.6M25.0 20.4h.6M15.0 25.7h.6M17.9 14.7h.6M14.0 29.1h.6M20.7 49.6h.6M27.8 43.1h.6M26.7 24.3h.6M22.7 9.2h.6M27.3 37.1h.6M11.1 48.0h.6M30.4 14.7h.6M19.9 37.9h.6M12.9 26.8h.6M18.1 18.7h.6M16.5 49.4h.6M21.3 41.1h.6M22.8 43.0h.6M8.9 31.2h.6M27.8 22.9h.6M29.8 37.5h.6M14.1 27.8h.6M27.9 52.8h.6M27.9 26.9h.6M26.9 27.0h.6M29.5 31.3h.6M13.2 53.9h.6M25.6 34.3h.6M14.6 50.2h.6M31.7 14.4h.6M14.2 40.3h.6M13.1 39.2h.6M27.4 33.6h.6M24.8 24.1h.6M20.9 31.9h.6M21.6 23.9h.6M24.3 46.5h.6M29.5 17.8h.6M15.7 43.2h.6M16.7 23.4h.6M16.1 31.3h.6M20.0 18.0h.6M20.6 36.8h.6M13.6 54.2h.6M22.3 50.0h.6M12.9 39.5h.6M18.6 15.4h.6M18.5 42.6h.6M18.0 33.9h.6M28.4 16.1h.6M29.4 38.5h.6M27.2 27.6h.6M29.3 27.7h.6M18.4 44.9h.6M28.6 28.5h.6M20.1 18.3h.6M21.9 17.8h.6M22.7 40.0h.6M14.2 4.5h.6M16.0 29.6h.6M19.0 40.5h.6M23.0 44.9h.6M19.6 49.2h.6M15.1 23.8h.6M15.0 66.6h.6M20.5 38.3h.6M14.0 53.2h.6M13.2 38.6h.6M19.2 35.9h.6M21.5 51.9h.6M15.4 49.3h.6M11.2 21.6h.6M22.6 43.1h.6M26.0 32.6h.6M17.2 40.9h.6M17.9 21.8h.6M9.1 23.6h.6M25.9 19.5h.6M13.7 28.2h.6M25.3 23.9h.6M16.9 51.5h.6M19.6 15.8h.6M19.0 44.4h.6M11.0 47.6h.6M33.5 34.2h.6M11.9 46.6h.6M21.4 25.7h.6M15.2 24.9h.6M19.0 16.3h.6M28.5 32.9h.6M10.6 44.2h.6M19.1 40.5h.6M23.4 49.6h.6M21.3 45.9h.6M22.6 8.7h.6M15.7 46.8h.6M11.4 42.5h.6M12.8 27.8h.6M17.1 30.4h.6M25.2 21.2h.6M21.0 47.5h.6M29.0 44.6h.6M21.0 15.2h.6M21.8 45.0h.6M22.4 36.1h.6M10.9 34.1h.6M23.5 56.0h.6M13.5 38.9h.6M17.8 45.5h.6M32.1 24.5h.6M13.0 40.6h.6M21.0 60.5h.6M22.5 20.8h.6M21.1 63.0h.6M20.5 42.2h.6M16.7 46.0h.6M30.8 38.2h.6M9.9 37.3h.6M14.3 22.8h.6M28.6 42.7h.6M24.2 42.7h.6M15.5 24.5h.6M14.6 28.3h.6M18.6 22.7h.6M33.2 26.4h.6M24.2 37.4h.6M14.0 43.0h.6M22.3 42.2h.6M16.4 21.9h.6M28.3 13.6h.6M22.0 8.9h.6M27.5 45.4h.6M21.9 39.0h.6M31.1 30.8h.6M23.8 36.4h.6M22.2 49.8h.6M15.3 9.9h.6M18.0 14.5h.6M23.7 36.5h.6M16.8 42.9h.6M32.7 30.4h.6M20.4 51.3h.6M15.2 41.0h.6M26.5 21.3h.6M17.5 13.4h.6M23.2 19.5h.6M19.9 15.8h.6M16.1 50.1h.6M26.7 65.7h.6M21.0 14.6h.6M27.3 29.3h.6M17.4 36.8h.6M13.0 16.1h.6M13.4 48.7h.6M17.1 49.1h.6M19.1 46.6h.6M20.7 12.4h.6M23.8 18.9h.6M14.0 57.2h.6M21.7 11.7h.6M13.0 36.0h.6M15.7 28.6h.6M32.8 38.9h.6M27.0 9.5h.6M17.6 27.0h.6M29.6 15.5h.6M28.2 44.4h.6M26.0 22.1h.6M28.9 30.3h.6M18.2 39.6h.6M19.6 47.4h.6M15.0 45.9h.6M23.9 49.3h.6M13.1 45.2h.6M16.4 35.9h.6M23.7 23.3h.6M17.6 55.3h.6M22.6 48.7h.6M30.1 38.7h.6M15.1 56.0h.6M28.6 35.5h.6M15.6 39.9h.6M14.3 38.8h.6M22.3 25.6h.6M26.5 19.2h.6M15.8 23.4h.6M15.3 31.1h.6M17.2 25.1h.6M15.9 47.2h.6M21.7 48.2h.6M15.7 25.5h.6M18.5 24.6h.6M22.3 6.8h.6M17.1 39.5h.6M27.0 45.3h.6M15.6 30.7h.6M15.3 42.6h.6M30.8 41.5h.6M28.4 14.7h.6M20.8 9.4h.6M26.0 26.6h.6M22.8 44.2h.6M16.5 30.7h.6M25.3 33.6h.6M22.2 52.5h.6M27.8 20.6h.6M10.5 32.6h.6M25.1 15.5h.6M21.7 43.6h.6M15.5 35.9h.6M16.9 37.5h.6M18.2 56.8h.6M14.1 7.5h.6M17.5 60.2h.6M25.0 48.4h.6M11.8 41.2h.6M18.3 55.3h.6M8.6 32.5h.6M16.4 43.0h.6M23.8 31.7h.6M19.9 28.7h.6M21.1 31.8h.6M13.4 34.6h.6M24.7 35.4h.6M14.5 29.2h.6M26.0 20.5h.6M22.3 38.9h.6M17.5 42.8h.6M28.9 36.7h.6M17.2 29.1h.6M26.9 37.4h.6M21.3 41.4h.6M20.4 54.3h.6M25.6 8.7h.6M23.1 50.5h.6M20.4 11.5h.6M19.6 20.9h.6M21.8 17.7h.6M21.3 27.6h.6M17.9 25.6h.6M13.9 31.3h.6M7.9 30.7h.6M19.7 20.3h.6M19.0 13.4h.6M27.3 44.9h.6M23.8 24.2h.6M26.5 11.5h.6M29.3 14.1h.6M19.7 49.5h.6M14.8 30.3h.6M26.0 27.5h.6M16.0 30.6h.6M19.1 61.2h.6M28.4 19.8h.6M23.5 53.8h.6M25.9 6.0h.6M12.7 26.9h.6M20.9 36.3h.6M27.2 22.4h.6M12.8 33.7h.6M22.0 42.7h.6M23.9 34.2h.6M8.9 32.7h.6M29.1 41.2h.6M15.8 23.8h.6M19.6 16.9h.6M29.3 17.3h.6M11.2 21.7h.6M23.2 14.3h.6M17.4 22.7h.6M20.7 14.5h.6M14.8 33.9h.6M28.4 25.3h.6M14.3 16.8h.6M22.4 8.2h.6M24.5 38.2h.6M19.9 53.7h.6M19.0 7.3h.6M18.8 16.7h.6M25.8 9.0h.6M23.4 18.4h.6M19.7 27.8h.6M13.8 44.4h.6M21.5 48.0h.6M23.5 12.6h.6M20.2 17.9h.6M28.7 26.4h.6M10.7 49.7h.6M32.6 35.7h.6M19.1 44.6h.6M13.4 39.7h.6M12.5 66.8h.6M26.2 27.8h.6M23.6 11.5h.6M18.8 43.7h.6M19.8 32.0h.6M22.0 26.7h.6M17.7 49.2h.6M27.5 24.9h.6M24.5 44.5h.6M19.5 42.2h.6M11.3 32.6h.6M28.5 31.6h.6M16.6 32.4h.6M14.3 48.0h.6M27.9 21.0h.6M23.6 48.3h.6M10.1 25.9h.6M11.3 42.3h.6M18.0 51.3h.6M12.9 36.7h.6M19.5 49.7h.6M33.1 35.6h.6M34.4 30.8h.6M20.2 20.1h.6M25.5 19.8h.6M26.2 24.1h.6M19.4 39.8h.6M12.8 54.5h.6M27.2 34.5h.6M18.9 40.4h.6M24.2 34.5h.6M25.3 40.2h.6M15.1 43.0h.6M29.5 20.2h.6M20.9 52.2h.6M22.8 32.1h.6M17.9 15.9h.6M25.1 43.7h.6M26.4 45.3h.6M16.3 38.4h.6M24.8 37.8h.6M17.1 29.1h.6M13.8 17.6h.6M17.6 36.6h.6M24.7 22.7h.6M24.3 41.7h.6M27.1 38.4h.6M15.7 29.5h.6M18.3 45.4h.6M20.9 15.3h.6M24.9 38.7h.6M19.3 37.5h.6M14.9 49.6h.6M11.8 41.7h.6M27.2 44.9h.6M27.1 38.4h.6M16.9 57.3h.6M29.0 30.8h.6M20.1 10.3h.6M22.9 56.7h.6M27.0 9.8h.6M16.6 36.6h.6M15.7 21.4h.6M11.3 48.8h.6M22.1 7.2h.6M23.3 48.5h.6M26.3 32.7h.6M23.9 11.4h.6M21.2 51.7h.6M26.1 59.1h.6M13.9 36.3h.6M23.2 45.0h.6M23.8 47.1h.6M19.7 48.2h.6M29.3 48.6h.6M23.1 12.9h.6M27.8 15.2h.6M25.6 50.3h.6M18.7 36.4h.6M30.7 36.1h.6M26.8 16.3h.6M20.7 47.1h.6M19.8 11.4h.6M13.9 35.2h.6M19.5 46.9h.6M18.2 36.0h.6M22.1 43.4h.6M18.4 6.2h.6M24.9 29.2h.6M19.9 42.9h.6M11.6 34.6h.6M17.6 13.8h.6M15.1 48.9h.6M13.9 56.6h.6M19.0 14.8h.6M26.3 22.2h.6M13.6 42.1h.6M9.9 37.5h.6M19.5 16.7h.6M33.3 57.8h.6M17.1 16.2h.6M23.0 36.3h.6M17.7 22.7h.6M26.3 32.4h.6M19.4 44.9h.6M27.2 16.4h.6M15.3 65.2h.6M22.7 31.6h.6M13.2 24.5h.6M21.6 54.5h.6M17.3 60.0h.6M22.9 30.3h.6M14.1 21.1h.6M22.0 15.2h.6M21.4 45.2h.6M16.4 28.3h.6M16.0 54.1h.6M14.4 13.1h.6M17.7 44.4h.6M22.9 14.2h.6M19.4 39.9h.6M22.0 40.0h.6M27.2 10.8h.6M18.4 48.2h.6M22.3 14.0h.6M26.1 37.5h.6M23.9 46.2h.6M23.2 46.2h.6M21.1 16.0h.6M30.8 31.4h.6M20.0 41.2h.6M18.4 55.1h.6M24.1 15.2h.6M29.2 17.2h.6M28.7 26.4h.6M20.8 20.0h.6M24.3 68.2h.6M24.2 41.6h.6M21.5 28.9h.6M25.4 30.1h.6M24.8 41.6h.6M22.0 27.5h.6M29.8 40.3h.6M17.9 45.6h.6M28.1 47.6h.6M31.4 28.5h.6M31.3 39.2h.6M22.7 42.2h.6M19.5 13.8h.6M11.5 36.7h.6M19.9 35.1h.6M32.1 47.8h.6M11.8 43.2h.6M12.2 22.9h.6M26.0 23.1h.6M25.2 31.1h.6M10.7 38.7h.6M20.0 31.3h.6M23.3 25.0h.6M11.9 40.6h.6M25.2 61.5h.6M13.9 11.2h.6M26.9 15.9h.6M22.6 36.5h.6M16.6 15.0h.6M12.1 52.7h.6M18.5 15.2h.6M19.7 28.8h.6M19.7 19.1h.6M16.3 40.9h.6M18.6 30.4h.6M26.1 22.7h.6M15.2 19.9h.6M19.0 24.1h.6M24.0 24.4h.6M20.4 44.5h.6M25.2 9.7h.6M29.3 28.0h.6M17.6 39.1h.6M22.5 39.7h.6M7.0 51.0h.6M18.2 46.7h.6M24.3 53.1h.6M13.5 32.4h.6M28.4 32.3h.6M10.4 33.6h.6M27.8 47.8h.6M16.8 42.2h.6M14.3 45.0h.6M17.5 19.0h.6M19.0 54.9h.6M15.0 55.3h.6M13.1 18.7h.6M16.7 28.0h.6M25.7 52.7h.6M22.9 13.4h.6M27.6 12.1h.6M16.9 17.7h.6M18.7 60.3h.6M17.6 31.7h.6M21.5 47.5h.6M24.2 37.5h.6M29.3 50.3h.6M24.3 9.5h.6M21.7 45.3h.6M28.5 27.1h.6M15.6 22.5h.6M12.9 27.0h.6M25.2 25.1h.6M22.0 41.1h.6M21.8 27.9h.6M26.6 35.2h.6M18.8 62.2h.6M19.8 17.8h.6M23.2 43.6h.6M25.0 40.9h.6M26.8 38.0h.6M21.2 53.3h.6M22.1 51.1h.6M9.2 57.5h.6M27.8 24.5h.6M12.2 20.6h.6M20.0 31.2h.6M32.6 43.3h.6M18.6 15.0h.6M11.6 40.6h.6M28.7 50.9h.6M17.6 58.9h.6M18.9 29.6h.6M19.5 13.2h.6M25.5 38.5h.6M25.5 42.1h.6M19.4 40.2h.6M27.0 43.8h.6M14.7 43.8h.6M25.3 27.7h.6M16.4 46.5h.6M24.8 18.1h.6M16.4 49.6h.6M17.5 22.5h.6M28.9 26.2h.6M13.6 41.5h.6M13.3 40.2h.6M24.7 38.2h.6M19.0 11.2h.6M17.6 47.6h.6M19.6 15.9h.6M31.1 18.0h.6M13.9 40.8h.6M19.0 11.8h.6M21.3 62.5h.6M14.3 31.5h.6M20.1 30.0h.6M24.4 32.0h.6M14.9 22.7h.6M27.3 37.6h.6M13.4 38.5h.6M19.6 16.3h.6M23.4 35.2h.6M34.8 40.7h.6M11.0 28.8h.6M23.1 34.7h.6M32.7 36.7h.6M16.3 25.4h.6M26.9 42.9h.6M21.8 48.7h.6M12.2 39.8h.6M23.7 36.5h.6M14.5 34.5h.6M21.0 51.5h.6M12.9 14.4h.6M25.2 21.4h.6M8.4 35.4h.6M18.8 28.8h.6M26.6 60.9h.6M23.7 18.1h.6M18.2 50.1h.6M18.6 24.6h.6M17.9 52.0h.6M33.2 18.4h.6M20.0 44.0h.6M20.3 39.0h.6M16.4 14.0h.6M17.4 19.1h.6M23.9 51.9h.6M16.4 46.2h.6M14.9 32.0h.6M16.3 39.2h.6M18.1 20.9h.6M21.7 45.3h.6M17.9 58.8h.6M19.2 48.8h.6M15.2 38.3h.6M27.8 23.4h.6M21.1 20.5h.6M18.5 15.7h.6M23.0 27.8h.6M20.0 38.9h.6M11.8 26.3h.6M18.6 36.8h.6M29.5 37.2h.6M24.1 40.8h.6M27.2 18.5h.6M16.7 14.2h.6M12.6 18.8h.6M16.6 56.2h.6M27.8 16.6h.6M14.7 51.1h.6M15.1 40.9h.6M27.1 22.9h.6M19.0 53.4h.6M19.2 52.2h.6M23.0 45.4h.6M20.9 10.5h.6M18.5 17.6h.6M22.1 47.7h.6M15.3 32.7h.6M19.9 29.9h.6M25.1 26.7h.6M14.1 46.0h.6M19.2 13.4h.6M13.4 41.4h.6M25.1 19.5h.6M23.8 55.1h.6M26.5 25.6h.6M27.0 29.3h.6M26.1 13.4h.6M23.9 63.2h.6M15.3 26.1h.6M26.1 19.7h.6M14.4 39.7h.6M31.7 14.6h.6M21.9 6.4h.6M24.2 18.7h.6M13.3 24.2h.6M26.3 13.6h.6M27.5 24.9h.6M12.2 20.1h.6M16.6 24.6h.6M17.2 46.0h.6M16.5 50.4h.6M27.9 15.7h.6M31.4 22.8h.6M14.0 45.4h.6M27.1 31.2h.6M18.9 13.3h.6M27.4 53.0h.6M8.5 47.8h.6M17.4 22.6h.6M27.4 19.8h.6M16.0 51.7h.6M27.2 45.4h.6M16.4 31.6h.6M26.6 13.0h.6M24.9 32.0h.6M18.3 62.7h.6M15.8 19.7h.6M18.6 34.7h.6M27.4 38.3h.6M20.4 51.2h.6M16.5 17.4h.6M35.4 26.1h.6M11.6 30.6h.6M18.5 26.9h.6M24.3 24.6h.6M14.2 23.2h.6M20.3 10.3h.6M17.8 50.6h.6M11.9 37.1h.6M23.8 40.8h.6M14.4 13.6h.6M15.2 40.0h.6M26.9 52.4h.6M13.4 36.1h.6M24.4 44.2h.6M27.3 42.2h.6M26.7 38.6h.6M23.2 51.6h.6M19.2 59.1h.6M13.4 11.7h.6M21.9 36.5h.6M23.2 47.5h.6M16.9 24.0h.6M14.9 16.9h.6M25.0 55.0h.6M13.8 42.3h.6M23.9 27.1h.6M17.2 48.0h.6M11.2 30.2h.6M28.8 47.0h.6M24.5 43.3h.6M24.6 34.7h.6M12.2 29.9h.6M18.8 33.0h.6M22.3 44.9h.6M15.3 41.3h.6M28.3 56.3h.6M10.9 11.8h.6M25.2 39.1h.6M10.3 40.4h.6M11.5 32.5h.6M12.8 27.6h.6M24.5 26.2h.6M15.7 45.8h.6M16.6 56.8h.6M14.3 38.2h.6M12.1 46.9h.6M14.6 43.9h.6M13.9 35.6h.6M17.5 29.6h.6M18.0 15.5h.6M8.3 39.0h.6M16.7 57.5h.6M27.4 22.9h.6M17.1 20.1h.6M19.7 56.3h.6M15.4 25.4h.6M15.2 31.9h.6M19.4 44.2h.6M12.2 33.6h.6M18.5 26.3h.6M11.1 28.5h.6M22.1 15.7h.6M11.2 36.5h.6M24.8 32.5h.6M25.0 3.3h.6M11.5 50.1h.6M24.8 37.3h.6M16.7 41.3h.6M26.9 20.4h.6M16.7 18.3h.6M18.2 53.4h.6M18.1 16.1h.6M26.9 47.9h.6M11.2 7.2h.6M24.8 43.2h.6M20.4 16.5h.6M16.1 39.8h.6M18.1 22.1h.6M25.7 43.6h.6M25.6 29.8h.6M29.4 30.6h.6M15.2 33.6h.6M10.2 26.6h.6M15.9 42.5h.6M18.0 41.0h.6M17.3 53.4h.6M27.4 33.7h.6M31.5 36.4h.6M22.3 18.6h.6M10.5 27.8h.6M26.2 42.8h.6M15.4 27.7h.6M20.1 14.4h.6M25.6 35.7h.6M22.0 50.8h.6M19.6 3.9h.6M21.8 22.8h.6M24.7 21.0h.6M23.0 2.7h.6M30.6 40.7h.6M6.2 34.3h.6M15.8 59.1h.6M15.7 26.7h.6M25.4 25.4h.6M21.2 46.7h.6M25.1 45.3h.6M11.7 38.6h.6M17.7 39.3h.6M23.4 11.0h.6M19.0 39.7h.6M16.5 37.8h.6M22.1 37.4h.6M28.3 51.3h.6M9.2 43.0h.6M28.2 48.7h.6M22.2 29.9h.6M15.6 61.9h.6M23.8 49.3h.6M19.8 27.8h.6M25.9 57.8h.6M15.5 55.8h.6M25.6 17.5h.6M14.8 53.4h.6M22.6 33.3h.6M24.7 26.8h.6M19.2 50.5h.6M23.3 55.4h.6M16.5 13.9h.6M26.4 40.5h.6M16.2 26.1h.6M15.3 46.8h.6M18.6 26.7h.6M19.5 53.1h.6M15.2 53.9h.6M24.6 47.9h.6M18.8 45.4h.6M23.9 43.3h.6M11.5 40.8h.6M12.3 29.9h.6M17.7 44.1h.6M14.0 22.2h.6M18.7 45.8h.6M23.6 21.4h.6M26.0 13.9h.6M27.4 9.6h.6M23.9 57.9h.6M16.1 12.2h.6M22.8 56.4h.6M16.9 14.8h.6M24.0 32.8h.6M13.3 30.4h.6M27.4 44.7h.6M22.4 18.0h.6M17.7 22.7h.6M12.1 43.8h.6M21.7 44.4h.6M16.4 21.4h.6M21.4 17.1h.6M15.3 23.3h.6M15.9 41.6h.6M24.5 32.4h.6M28.1 18.5h.6M12.7 24.3h.6M18.6 16.9h.6M23.0 29.7h.6M18.6 46.3h.6M16.4 29.5h.6M31.1 24.6h.6M14.5 43.6h.6M22.5 24.3h.6M16.6 47.9h.6M18.6 28.4h.6M8.6 44.4h.6M24.4 6.0h.6M18.5 16.3h.6M13.7 31.5h.6M28.6 48.0h.6M18.2 52.4h.6M15.8 23.8h.6M14.2 37.9h.6M26.7 26.8h.6M20.0 55.6h.6M18.1 55.2h.6M12.1 34.4h.6M14.0 38.8h.6M21.9 52.5h.6M19.6 47.4h.6M9.7 27.0h.6M14.2 42.2h.6M21.4 22.6h.6M32.4 11.2h.6M14.8 29.8h.6M8.8 35.4h.6M24.9 42.1h.6M17.0 16.9h.6M13.0 54.4h.6M23.3 49.3h.6M17.4 34.9h.6M14.7 54.9h.6M12.7 22.6h.6M18.8 45.3h.6M20.3 23.4h.6M10.4 40.6h.6M26.3 36.0h.6M12.4 35.8h.6M26.9 55.8h.6M21.9 49.9h.6M18.2 43.2h.6M21.6 5.4h.6M16.0 22.2h.6M19.2 21.3h.6M28.7 44.8h.6M16.2 21.1h.6M24.6 14.5h.6M14.4 24.2h.6M19.8 2.4h.6M25.3 50.8h.6M13.2 50.4h.6M22.5 38.7h.6M9.3 48.7h.6M12.9 35.1h.6M16.7 25.6h.6M25.9 32.2h.6M25.0 30.4h.6M14.0 29.2h.6M18.8 20.9h.6M21.1 45.3h.6M11.4 45.2h.6M22.4 15.2h.6M27.9 36.4h.6M27.1 43.6h.6M15.5 30.2h.6M16.6 41.2h.6M13.8 33.7h.6M15.9 36.2h.6M17.9 23.3h.6M24.1 18.3h.6M20.3 47.6h.6M14.6 52.1h.6M24.4 10.9h.6M25.4 42.9h.6M16.5 55.8h.6M18.6 58.9h.6M18.3 35.3h.6M11.1 44.9h.6M20.6 57.8h.6M24.0 47.2h.6M30.0 44.2h.6M21.0 17.6h.6M17.3 29.9h.6M18.0 34.8h.6M23.4 51.1h.6M25.4 35.4h.6M14.5 25.4h.6M21.5 29.3h.6M23.9 16.7h.6M9.5 35.9h.6M27.8 21.6h.6M18.0 25.7h.6M25.5 41.3h.6M19.6 14.4h.6M17.7 27.5h.6M19.3 20.2h.6M21.6 49.8h.6M25.0 48.2h.6M17.4 38.5h.6M13.4 47.2h.6M15.3 25.4h.6M13.8 29.4h.6M24.3 14.8h.6M14.0 26.8h.6M28.1 46.4h.6M20.7 18.3h.6M19.1 45.7h.6M27.5 42.1h.6M16.7 33.7h.6M17.1 35.0h.6M24.6 17.0h.6M13.7 29.3h.6M31.7 13.3h.6M24.2 36.7h.6M12.5 31.2h.6M18.4 44.0h.6M25.9 38.9h.6M21.2 13.9h.6M25.6 24.7h.6M31.9 24.8h.6M25.6 44.3h.6M29.8 10.4h.6M24.9 35.7h.6M15.6 45.5h.6M28.7 31.5h.6M15.4 24.6h.6M25.9 20.7h.6M23.7 12.3h.6M15.0 50.5h.6M15.2 42.3h.6M19.0 12.4h.6M22.1 5.0h.6M27.8 40.5h.6M20.5 36.9h.6M29.6 49.8h.6M25.4 44.7h.6M16.1 48.5h.6M15.5 37.0h.6M20.6 51.6h.6M16.8 20.3h.6M18.8 35.9h.6M25.5 36.6h.6M21.8 18.3h.6M26.5 36.2h.6M16.2 52.6h.6M14.4 35.1h.6M13.4 9.8h.6M10.6 35.3h.6M16.9 25.5h.6M20.7 38.7h.6M18.3 39.3h.6M20.2 23.9h.6M29.5 60.2h.6M14.2 52.4h.6M18.2 45.0h.6M16.5 39.9h.6M15.2 15.6h.6M26.7 3.1h.6M19.9 22.3h.6M27.8 25.6h.6M13.5 25.8h.6M29.6 12.4h.6M31.5 42.3h.6M14.6 43.1h.6M20.0 29.6h.6M19.0 27.6h.6M23.2 57.4h.6M12.6 29.8h.6M22.9 54.6h.6M24.9 20.3h.6M16.4 21.6h.6M10.0 62.0h.6M15.6 26.8h.6M17.0 30.8h.6M25.3 42.2h.6M16.4 20.3h.6M14.5 10.7h.6M24.6 23.9h.6M22.6 49.7h.6M24.4 52.3h.6M20.6 51.3h.6M26.4 46.3h.6M23.4 16.0h.6M10.7 32.8h.6M22.3 34.0h.6M25.1 19.0h.6M20.8 33.2h.6M28.8 30.7h.6M17.3 48.1h.6M24.9 42.5h.6M12.9 35.5h.6M20.3 51.4h.6M17.3 12.3h.6M13.9 33.7h.6M12.7 43.8h.6M21.8 17.8h.6M23.0 49.1h.6M16.5 19.1h.6M12.8 34.7h.6M15.8 11.0h.6M25.3 41.2h.6M13.1 41.7h.6M27.0 43.8h.6M11.7 52.1h.6M22.8 27.7h.6M24.4 48.3h.6M27.7 26.8h.6M17.3 45.6h.6M15.8 19.6h.6M13.7 65.0h.6M26.3 25.4h.6M18.8 33.1h.6M16.6 34.9h.6M17.4 45.5h.6M21.7 9.9h.6M20.6 42.2h.6M27.5 25.3h.6M9.3 40.3h.6M26.0 38.0h.6M16.2 33.4h.6M19.8 21.9h.6M18.4 51.2h.6M19.6 43.3h.6M24.6 51.9h.6M22.2 25.2h.6M12.4 47.7h.6M19.9 46.8h.6M19.6 22.3h.6M23.6 33.2h.6M20.7 25.3h.6M19.5 38.0h.6M26.8 25.6h.6M13.5 34.5h.6M31.2 44.1h.6M16.1 31.2h.6M13.9 41.0h.6M25.8 36.3h.6M27.1 27.5h.6M27.8 39.6h.6M28.3 45.5h.6M23.3 15.4h.6M20.7 9.2h.6M23.4 39.7h.6M20.4 16.2h.6M16.4 28.1h.6M29.2 39.8h.6M30.0 41.7h.6M20.5 40.3h.6M18.6 42.8h.6M16.7 41.1h.6M11.1 38.2h.6M16.4 51.4h.6M17.1 21.0h.6M20.3 51.1h.6M14.7 50.6h.6M10.6 24.9h.6M20.2 15.5h.6M24.3 8.9h.6M14.9 20.0h.6M8.5 7.4h.6M22.8 15.4h.6M12.3 19.8h.6M12.2 13.3h.6M7.3 4.2h.6M17.4 20.1h.6M18.1 13.0h.6M21.1 17.4h.6M1.7 12.0h.6M19.3 12.8h.6M30.9 15.3h.6M10.9 12.2h.6M4.3 24.2h.6M27.7 22.4h.6M9.8 25.7h.6M4.3 20.5h.6M23.6 19.4h.6M2.0 13.9h.6M3.4 24.7h.6M7.2 19.9h.6M19.6 5.9h.6M22.1 17.4h.6M13.0 8.5h.6M10.2 7.6h.6M1.8 25.0h.6M18.0 15.6h.6M7.8 25.8h.6M19.0 21.1h.6M22.0 14.6h.6M13.8 27.5h.6M5.5 18.9h.6M24.3 19.6h.6M16.0 13.1h.6M24.4 23.8h.6M11.9 17.5h.6M11.9 23.9h.6M1.0 19.3h.6M8.3 26.2h.6M21.3 24.9h.6M17.9 25.8h.6M9.2 27.4h.6M16.3 24.6h.6M22.9 23.7h.6M4.5 17.7h.6M22.0 22.6h.6M8.2 29.2h.6M23.8 13.6h.6M12.7 27.3h.6M22.3 24.5h.6M21.3 20.7h.6M16.4 17.5h.6M10.3 17.2h.6M7.5 15.8h.6M15.4 19.2h.6M15.2 9.3h.6M24.3 11.8h.6M12.6 22.8h.6M17.0 20.0h.6M25.8 27.2h.6M16.4 12.3h.6M17.9 19.9h.6M24.9 5.3h.6M14.3 23.8h.6M16.6 6.9h.6M19.7 25.0h.6M12.6 30.0h.6M4.7 24.3h.6M2.1 15.5h.6M11.8 9.9h.6M22.4 24.4h.6M21.4 10.7h.6M25.9 21.7h.6M21.1 22.0h.6M7.6 20.5h.6M3.0 6.7h.6M8.6 16.4h.6M10.8 15.1h.6M7.8 28.8h.6M21.4 16.6h.6M6.5 15.7h.6M17.9 6.3h.6M19.9 24.7h.6M9.9 25.3h.6M23.4 22.8h.6M20.6 12.7h.6M14.6 24.6h.6M5.0 8.9h.6M7.1 17.7h.6M14.2 25.4h.6M23.5 22.8h.6M17.4 28.1h.6M12.8 28.7h.6M15.4 9.1h.6M19.9 11.2h.6M5.3 21.5h.6M13.7 6.4h.6M23.1 23.4h.6M22.5 16.3h.6M6.8 14.0h.6M13.7 20.3h.6M6.9 19.6h.6M9.7 21.1h.6M15.2 16.8h.6M10.7 29.3h.6M8.2 17.7h.6M3.9 16.7h.6M1.9 27.1h.6M11.5 14.0h.6M15.1 25.6h.6M17.8 35.2h.6M7.5 31.3h.6M7.0 17.3h.6M23.5 13.9h.6M17.3 21.9h.6M20.2 28.5h.6M8.1 19.6h.6M7.6 11.0h.6M4.0 18.5h.6M21.0 28.5h.6M4.2 14.6h.6M6.8 19.6h.6M23.7 17.7h.6M13.7 13.1h.6M16.0 19.4h.6M14.4 25.8h.6M12.8 19.6h.6M11.5 16.8h.6M2.9 9.8h.6M25.7 26.5h.6M11.7 19.7h.6M22.9 24.6h.6M1.4 16.2h.6M18.3 22.8h.6M5.6 37.4h.6M3.5 11.3h.6M15.8 23.8h.6M21.5 26.2h.6M23.5 28.5h.6M23.6 25.8h.6M11.3 27.9h.6M20.4 19.4h.6M7.9 17.0h.6M8.3 18.9h.6M15.9 14.8h.6M12.4 25.0h.6M20.6 13.4h.6M22.8 14.8h.6M8.3 13.1h.6M25.0 20.9h.6M22.3 9.2h.6M4.3 12.2h.6M12.9 22.1h.6M18.6 5.8h.6M7.5 6.4h.6M7.9 29.1h.6M11.3 33.3h.6M19.8 23.1h.6M21.2 14.5h.6M9.9 10.7h.6M20.5 12.9h.6M25.0 18.2h.6M20.9 10.8h.6M7.3 12.5h.6M6.3 21.6h.6M16.5 16.4h.6M20.1 10.1h.6M17.3 23.5h.6M10.0 23.4h.6M6.0 24.4h.6M23.0 7.9h.6M12.1 12.3h.6M27.2 12.3h.6M4.2 20.9h.6M10.0 18.4h.6M8.4 9.0h.6M27.3 20.0h.6M22.9 9.6h.6M8.7 18.3h.6M22.8 13.9h.6M14.7 11.0h.6M5.3 6.0h.6M1.9 20.6h.6M16.6 6.0h.6M11.7 24.4h.6M14.8 25.0h.6M16.4 33.1h.6M10.3 11.2h.6M11.4 7.2h.6M18.8 27.0h.6M12.4 21.2h.6M10.7 20.5h.6M18.4 29.1h.6M23.6 15.8h.6M17.6 22.3h.6M7.4 25.7h.6M11.5 16.7h.6M23.3 13.6h.6M17.9 28.3h.6M5.3 13.7h.6M14.8 36.1h.6M27.0 15.7h.6M19.3 6.0h.6M12.0 27.7h.6M18.2 8.3h.6M13.8 21.0h.6M10.8 12.8h.6M17.4 19.5h.6M21.0 29.8h.6M17.4 2.1h.6M10.1 27.9h.6M6.3 20.2h.6M4.6 8.0h.6M16.4 15.1h.6M15.3 16.2h.6M14.9 31.9h.6M26.4 22.3h.6M8.3 30.5h.6M6.9 15.0h.6M21.3 11.7h.6M11.4 24.4h.6M5.9 23.0h.6M15.7 14.0h.6M17.1 10.9h.6M25.5 25.3h.6M15.7 9.0h.6M9.9 10.6h.6M8.8 18.0h.6M7.2 26.2h.6M18.0 13.2h.6M20.4 12.6h.6M11.9 5.5h.6M12.4 23.2h.6M23.7 7.1h.6M14.7 21.4h.6M18.1 13.5h.6M4.6 18.9h.6M8.0 17.3h.6M3.1 23.0h.6M16.8 11.2h.6M23.6 20.0h.6M10.7 18.4h.6M4.2 23.3h.6M14.7 15.8h.6M21.8 31.4h.6M11.9 20.6h.6M20.9 10.4h.6M13.1 11.0h.6M4.6 29.2h.6M6.5 26.2h.6M11.1 21.8h.6M29.1 5.9h.6M18.9 21.6h.6M11.0 18.1h.6M16.6 20.3h.6M15.8 15.0h.6M9.9 25.2h.6M12.5 15.3h.6M11.2 13.6h.6M19.6 10.0h.6M25.3 24.2h.6M23.8 11.4h.6M11.3 4.5h.6M18.3 11.6h.6M7.5 12.5h.6M6.1 33.9h.6M14.2 7.8h.6M18.1 4.6h.6M13.1 8.5h.6M20.7 13.8h.6M20.4 11.5h.6M12.3 24.0h.6M3.0 20.9h.6M26.7 10.3h.6M9.1 15.6h.6M18.9 32.6h.6M18.3 15.9h.6M10.3 14.7h.6M27.0 24.4h.6M19.6 14.7h.6M13.5 15.3h.6M10.5 30.7h.6M5.6 13.8h.6M4.8 3.5h.6M17.9 5.5h.6M10.1 26.6h.6M10.1 27.8h.6M18.5 17.4h.6M10.2 15.3h.6M18.7 27.8h.6M8.2 23.9h.6M9.6 7.8h.6M21.4 15.9h.6M8.1 9.9h.6M19.3 18.2h.6M17.8 9.9h.6M13.7 22.7h.6M1.2 21.6h.6M3.6 24.8h.6M5.8 31.1h.6M3.4 20.9h.6M20.2 27.8h.6M6.3 21.7h.6M3.7 16.8h.6M8.8 16.4h.6M12.6 14.1h.6M1.0 20.8h.6M19.2 18.5h.6M19.3 9.2h.6M8.1 19.3h.6M20.7 17.7h.6M3.1 33.9h.6M9.2 26.5h.6M12.3 9.3h.6M14.2 25.1h.6M22.4 25.9h.6M10.9 10.2h.6M5.9 27.0h.6M15.4 10.0h.6M15.4 19.1h.6M17.6 23.3h.6M11.2 32.2h.6M15.0 7.9h.6M9.4 30.8h.6M18.0 27.3h.6M8.1 11.7h.6M8.8 27.4h.6M22.9 14.1h.6M6.9 18.3h.6M13.6 20.9h.6M18.2 26.2h.6M10.8 23.7h.6M21.3 15.8h.6M8.9 25.7h.6M21.9 13.1h.6M1.7 16.2h.6M3.1 13.9h.6M14.4 15.6h.6M24.6 13.8h.6M25.8 15.2h.6M6.7 11.6h.6M13.3 14.3h.6M9.0 15.1h.6M18.9 30.3h.6M9.8 17.6h.6M24.0 11.0h.6M15.9 25.6h.6M9.6 29.6h.6M7.7 22.6h.6M11.7 14.6h.6M17.4 11.1h.6M9.1 20.9h.6M32.4 25.6h.6M15.9 18.8h.6M4.6 12.8h.6M14.6 18.8h.6M22.4 10.5h.6M17.5 22.5h.6M10.8 10.9h.6M8.7 6.2h.6M7.3 25.7h.6M4.5 24.5h.6M9.1 12.6h.6M8.6 13.7h.6M26.0 18.2h.6M16.6 8.1h.6M9.3 19.1h.6M13.4 29.8h.6M24.6 24.9h.6M1.4 8.7h.6M15.4 30.2h.6M31.5 27.2h.6M21.6 11.7h.6M5.9 16.8h.6M14.6 8.6h.6M11.7 26.4h.6M32.4 22.8h.6M7.7 21.0h.6M11.4 27.5h.6M10.3 20.3h.6M2.5 19.3h.6M11.0 19.0h.6M18.3 21.6h.6M9.6 13.7h.6M17.6 9.4h.6M19.6 10.0h.6M19.8 15.7h.6M0.9 20.8h.6M25.1 21.5h.6M20.2 27.7h.6M20.6 17.5h.6M13.7 18.5h.6M13.6 5.9h.6M8.5 16.1h.6M17.2 11.8h.6M20.6 8.4h.6M9.4 31.2h.6M20.4 23.2h.6M9.2 20.2h.6M19.1 17.0h.6M12.4 26.9h.6M20.5 11.3h.6M27.5 11.7h.6M15.8 13.4h.6M9.3 12.3h.6M10.2 26.6h.6M18.6 9.3h.6M9.3 23.2h.6M20.6 31.1h.6M16.7 16.8h.6M21.2 14.6h.6M8.9 23.7h.6M6.6 29.8h.6M7.8 26.7h.6M17.5 19.5h.6M8.2 34.9h.6M19.2 10.0h.6M7.6 19.6h.6M12.3 9.6h.6M8.8 26.7h.6M2.2 13.4h.6M13.0 12.9h.6M11.6 25.6h.6M19.3 28.4h.6M7.0 25.6h.6M1.8 9.8h.6M8.6 20.8h.6M14.5 23.8h.6M15.2 12.7h.6M23.4 15.5h.6M10.1 20.2h.6M11.8 11.0h.6M6.8 24.7h.6M8.1 18.6h.6M21.6 26.7h.6M16.2 33.0h.6M22.7 26.4h.6M10.0 13.0h.6M21.8 19.4h.6M15.0 14.3h.6M17.8 5.6h.6M21.1 16.5h.6M16.5 13.9h.6M4.3 26.7h.6M16.8 11.1h.6M7.9 11.2h.6M11.0 12.3h.6M18.7 15.2h.6M15.0 20.3h.6M13.8 17.0h.6M25.4 2.2h.6M16.1 23.6h.6M21.4 20.7h.6M17.1 17.0h.6M26.1 19.3h.6M11.0 31.0h.6M23.0 13.1h.6M26.9 11.5h.6M10.9 5.5h.6M22.1 22.4h.6M3.7 27.0h.6M16.5 12.3h.6M19.6 25.9h.6M6.5 18.0h.6M14.3 15.9h.6M10.7 22.1h.6M15.4 12.0h.6M16.2 25.5h.6M19.5 1.9h.6M25.4 12.3h.6M17.6 23.3h.6M2.4 24.9h.6M19.8 19.6h.6M17.3 22.2h.6M15.0 24.9h.6M25.2 8.2h.6M16.0 10.1h.6M10.9 26.5h.6M17.9 13.2h.6M1.6 17.9h.6M21.5 12.0h.6M14.4 23.8h.6M25.3 3.8h.6M20.0 17.3h.6M16.5 3.9h.6M15.6 22.3h.6M5.0 8.2h.6M12.9 19.3h.6M16.1 5.8h.6M22.0 19.4h.6M17.3 26.3h.6M19.4 26.2h.6M19.7 23.2h.6M9.2 12.8h.6M16.8 14.5h.6M11.5 16.7h.6M4.3 10.1h.6M3.1 6.6h.6M20.4 25.6h.6M24.6 10.7h.6M23.6 2.6h.6M6.8 22.9h.6M25.3 22.1h.6M25.7 15.0h.6M7.2 16.0h.6M18.2 22.5h.6M26.7 18.4h.6M14.6 6.1h.6M23.0 11.1h.6M8.8 24.5h.6M11.4 30.3h.6M20.7 26.3h.6M12.2 16.0h.6M15.1 24.6h.6M14.8 24.9h.6M5.7 12.3h.6M25.4 20.0h.6M12.7 21.6h.6M10.7 15.8h.6M10.5 7.1h.6M14.7 14.8h.6M6.3 12.4h.6M21.3 17.2h.6M11.3 6.4h.6M20.0 27.1h.6M7.1 26.4h.6M5.6 21.9h.6M7.3 3.9h.6M15.7 6.5h.6M4.0 25.9h.6M21.0 21.6h.6M10.9 13.0h.6M21.5 17.3h.6M10.7 10.6h.6M20.7 21.9h.6M6.4 29.7h.6M5.1 13.1h.6M18.5 8.4h.6M9.7 29.2h.6M21.4 30.9h.6M7.8 21.7h.6M17.6 31.1h.6M6.9 14.3h.6M1.3 26.0h.6M24.7 12.4h.6M11.8 21.2h.6M22.0 16.8h.6M15.5 12.1h.6M0.9 19.4h.6M17.1 25.9h.6M22.3 11.0h.6M23.3 28.3h.6M25.6 8.1h.6M17.4 23.1h.6M12.9 22.7h.6M14.6 14.0h.6M4.5 14.6h.6M20.1 13.7h.6M19.3 28.6h.6M16.8 25.1h.6M7.1 15.0h.6M19.5 14.7h.6M8.6 18.7h.6M23.1 8.5h.6M8.2 19.4h.6M9.5 10.3h.6M11.2 9.3h.6M5.3 15.1h.6M6.1 19.5h.6M11.3 11.6h.6M28.2 13.5h.6M17.0 24.9h.6M16.6 13.6h.6M7.2 6.4h.6M15.8 20.7h.6M13.8 16.2h.6M14.9 20.3h.6M2.6 11.4h.6M12.9 32.3h.6M11.9 13.1h.6M6.2 19.7h.6M8.2 15.4h.6M11.1 9.0h.6M20.9 14.8h.6M23.3 12.7h.6M14.0 8.4h.6M4.8 16.4h.6M25.0 12.4h.6M3.5 7.4h.6M8.9 13.0h.6M11.8 23.2h.6M7.6 11.6h.6M23.1 4.0h.6M17.6 20.7h.6M22.5 14.2h.6M10.9 13.8h.6M20.7 10.9h.6M12.2 21.7h.6M11.9 17.9h.6M15.9 4.0h.6M17.1 11.9h.6M18.7 22.9h.6M11.8 11.1h.6M2.0 17.3h.6M11.2 6.4h.6M10.6 16.7h.6M7.2 10.2h.6M20.0 27.2h.6M28.2 14.4h.6M10.1 17.3h.6M1.5 19.9h.6M17.7 14.9h.6M17.4 28.1h.6M17.3 24.6h.6M28.6 6.4h.6M6.7 22.9h.6M16.4 13.7h.6M15.5 18.3h.6M8.0 10.9h.6M16.5 14.6h.6M23.6 14.6h.6M7.0 9.0h.6M17.9 14.8h.6M21.0 29.7h.6M19.2 23.1h.6M2.1 7.9h.6M16.0 9.4h.6M9.8 19.9h.6M22.6 28.9h.6M12.5 23.9h.6M27.0 4.2h.6M4.3 9.1h.6M17.6 8.5h.6M7.1 29.2h.6M26.4 27.0h.6M25.6 22.0h.6M6.6 27.6h.6M20.3 16.8h.6M13.3 26.4h.6M1.3 14.3h.6M5.0 19.5h.6M14.6 22.8h.6M18.1 12.3h.6M10.1 13.7h.6M16.7 16.4h.6M16.7 21.1h.6M16.7 18.2h.6M5.1 30.9h.6M14.6 31.5h.6M18.3 23.3h.6M2.0 16.7h.6M24.6 5.8h.6M24.9 14.8h.6M15.0 25.7h.6M28.7 21.1h.6M7.4 27.1h.6M5.6 18.1h.6M7.9 18.5h.6M7.2 18.1h.6M27.3 15.8h.6M14.0 9.5h.6M13.1 11.8h.6M16.6 26.7h.6M25.5 11.8h.6M15.1 25.9h.6M10.1 14.3h.6M39.9 10.3h.6M55.7 10.1h.6M37.6 10.4h.6M37.7 25.1h.6M35.1 13.5h.6M48.9 14.4h.6M42.5 10.9h.6M35.9 26.5h.6M48.4 20.9h.6M59.8 17.3h.6M55.0 8.7h.6M54.6 20.6h.6M32.6 10.8h.6M37.3 15.5h.6M40.4 5.3h.6M21.0 14.9h.6M55.6 26.1h.6M23.3 18.6h.6M44.3 14.9h.6M25.9 9.1h.6M40.5 12.0h.6M48.7 18.8h.6M44.5 24.9h.6M28.5 16.6h.6M30.6 17.8h.6M48.6 8.6h.6M38.1 10.4h.6M40.1 25.8h.6M47.9 30.0h.6M14.5 19.2h.6M42.5 14.6h.6M52.2 22.9h.6M57.1 20.0h.6M46.3 9.2h.6M30.4 11.8h.6M48.6 27.1h.6M57.9 14.8h.6M30.8 15.7h.6M30.0 18.3h.6M37.0 12.5h.6M33.8 12.5h.6M20.0 3.4h.6M15.7 15.5h.6M24.8 21.4h.6M31.2 20.4h.6M44.1 11.8h.6M33.5 5.3h.6M41.2 12.3h.6M53.5 13.4h.6M66.7 15.3h.6M49.0 19.9h.6M27.4 16.3h.6M49.4 24.4h.6M38.9 11.4h.6M43.3 13.2h.6M50.1 15.6h.6M47.6 22.5h.6M24.4 18.5h.6M26.2 20.5h.6M42.6 14.3h.6M47.5 18.9h.6M59.8 14.7h.6M45.7 10.6h.6M34.8 8.6h.6M33.3 23.6h.6M30.2 19.2h.6M25.2 23.5h.6M25.3 9.2h.6M32.4 22.6h.6M39.9 8.1h.6M29.7 20.3h.6M39.0 9.8h.6M35.2 20.9h.6M35.5 18.7h.6M32.9 15.8h.6M43.1 16.0h.6M39.2 18.3h.6M13.6 13.0h.6M41.7 8.9h.6M40.1 10.7h.6M31.3 20.2h.6M40.5 27.9h.6M30.1 15.9h.6M39.9 32.5h.6M28.8 12.2h.6M46.8 12.5h.6M42.6 24.7h.6M23.4 13.1h.6M30.6 21.3h.6M46.3 8.7h.6M43.6 22.1h.6M40.4 22.6h.6M26.3 21.0h.6M30.3 15.0h.6M40.6 23.8h.6M41.6 3.7h.6M38.6 19.9h.6M30.3 6.3h.6M35.5 19.2h.6M32.4 19.2h.6M26.1 21.3h.6M26.7 21.7h.6M29.2 13.7h.6M23.4 9.6h.6M45.0 15.9h.6M47.3 22.6h.6M49.1 15.3h.6M29.9 22.1h.6M31.6 31.7h.6M42.4 15.7h.6M33.9 27.4h.6M34.8 21.4h.6M34.1 16.3h.6M21.8 19.2h.6M52.6 18.5h.6M24.4 7.6h.6M22.5 11.0h.6M47.0 7.5h.6M26.2 15.3h.6M50.8 15.2h.6M42.2 6.0h.6M43.0 21.3h.6M33.6 14.2h.6M23.4 15.9h.6M25.5 14.8h.6M39.9 12.3h.6M36.8 15.6h.6M25.7 11.6h.6M26.3 22.1h.6M28.6 13.4h.6M37.9 23.8h.6M43.5 9.6h.6M48.4 10.5h.6M33.5 18.5h.6M53.8 20.0h.6M47.5 17.0h.6M54.2 13.3h.6M29.6 26.0h.6M45.1 23.4h.6M50.3 10.8h.6M20.4 18.1h.6M48.3 24.8h.6M42.6 29.7h.6M49.1 19.8h.6M40.4 27.5h.6M51.4 16.0h.6M32.9 17.5h.6M33.3 5.8h.6M46.3 24.8h.6M47.0 12.5h.6M24.9 24.1h.6M51.2 23.3h.6M51.6 18.3h.6M49.7 22.3h.6M31.3 6.0h.6M52.4 17.3h.6M44.6 22.1h.6M47.5 3.8h.6M38.0 22.6h.6M33.1 19.8h.6M30.0 18.5h.6M31.6 22.2h.6M48.8 12.9h.6M30.3 9.4h.6M32.1 25.1h.6M42.8 20.7h.6M35.1 20.0h.6M19.0 24.9h.6M31.7 25.2h.6M33.9 19.9h.6M54.9 22.4h.6M46.8 14.8h.6M27.7 11.7h.6M26.2 15.8h.6M32.6 14.9h.6M41.2 23.3h.6M29.7 21.1h.6M44.2 14.2h.6M23.7 13.5h.6M43.2 17.9h.6M51.6 13.6h.6M13.5 18.4h.6M38.3 24.7h.6M42.2 14.6h.6M44.2 20.3h.6M39.6 27.4h.6M37.8 11.2h.6M42.4 14.1h.6M40.0 11.8h.6M39.8 20.8h.6M54.1 8.4h.6M50.1 13.9h.6M48.6 10.8h.6M31.3 21.6h.6M32.4 19.5h.6M49.6 9.2h.6M26.7 17.3h.6M50.2 16.9h.6M25.1 8.3h.6M59.1 10.5h.6M52.2 15.6h.6M33.1 5.8h.6M33.8 26.2h.6M18.3 17.4h.6M38.0 21.2h.6M50.7 8.3h.6M44.9 7.4h.6M35.3 20.7h.6M58.9 16.2h.6M44.9 10.8h.6M43.8 13.2h.6M34.4 14.9h.6M45.1 10.5h.6M62.3 6.6h.6M44.6 16.1h.6M22.0 23.4h.6M41.9 18.1h.6M57.8 17.2h.6M51.6 19.4h.6M32.5 12.2h.6M42.8 11.9h.6M23.4 11.5h.6M46.3 13.7h.6M28.3 15.2h.6M32.7 23.6h.6M31.6 19.5h.6M30.6 22.6h.6M56.0 15.0h.6M54.2 17.7h.6M34.4 17.4h.6M39.9 13.0h.6M55.9 18.7h.6M35.3 9.9h.6M33.6 10.1h.6M29.4 23.0h.6M54.1 9.3h.6M40.8 19.7h.6M38.7 22.1h.6M33.1 19.4h.6M29.1 24.7h.6M49.5 14.7h.6M30.3 9.5h.6M33.2 26.2h.6M21.3 14.4h.6M26.5 13.3h.6M32.4 12.4h.6M32.6 12.5h.6M22.7 14.3h.6M31.2 20.3h.6M36.9 10.9h.6M13.8 15.1h.6M45.3 11.6h.6M34.7 14.5h.6M24.1 18.6h.6M34.5 17.5h.6M43.9 12.7h.6M38.4 10.1h.6M38.9 28.1h.6M38.6 25.1h.6M45.1 26.7h.6M24.1 20.3h.6M31.6 21.5h.6M43.7 15.5h.6M38.8 19.6h.6M27.5 9.0h.6M35.0 21.4h.6M30.5 21.7h.6M38.7 22.7h.6M21.4 18.8h.6M21.6 16.0h.6M23.3 20.0h.6M36.9 23.2h.6M61.5 24.4h.6M49.7 15.8h.6M51.6 20.5h.6M38.5 23.6h.6M55.0 18.7h.6M43.2 14.5h.6M39.1 5.1h.6M49.4 7.5h.6M25.6 22.5h.6M17.1 19.5h.6M26.9 28.0h.6M51.9 27.9h.6M47.3 27.7h.6M40.6 10.8h.6M34.9 18.4h.6M36.6 26.1h.6M43.0 21.8h.6M28.5 20.4h.6M47.2 21.5h.6M28.4 8.3h.6M51.4 27.9h.6M34.1 20.5h.6M27.7 15.5h.6M34.6 13.5h.6M29.4 29.2h.6M36.1 15.5h.6M20.7 24.2h.6M32.4 21.1h.6M39.1 26.7h.6M42.9 11.7h.6M51.1 10.9h.6M21.0 18.8h.6M36.1 27.4h.6M32.7 11.2h.6M38.2 9.3h.6M35.4 24.2h.6M52.8 11.4h.6M38.3 27.6h.6M28.6 24.8h.6M62.2 16.2h.6M38.7 25.7h.6M36.3 11.7h.6M47.6 8.4h.6M30.7 16.6h.6M35.3 13.3h.6M47.2 7.5h.6M25.4 13.7h.6M33.4 8.8h.6M48.1 8.3h.6M56.2 23.0h.6M37.5 4.4h.6M37.1 9.3h.6M50.6 15.9h.6M23.0 12.0h.6M29.9 14.7h.6M28.8 15.3h.6M18.3 22.5h.6M11.5 19.0h.6M33.0 19.4h.6M48.1 10.1h.6M46.3 13.5h.6M52.1 14.3h.6M12.7 17.4h.6M36.7 8.8h.6M50.9 30.1h.6M28.8 22.6h.6M24.7 11.1h.6M42.8 20.0h.6M38.4 12.1h.6M44.9 7.3h.6M38.2 11.2h.6M50.9 25.4h.6M46.8 18.4h.6M41.2 24.2h.6M33.5 13.3h.6M46.1 10.2h.6M30.1 18.5h.6M59.7 38.3h.6M45.8 36.2h.6M80.2 55.7h.6M52.4 62.0h.6M55.0 55.1h.6M60.7 39.3h.6M68.4 57.9h.6M61.8 69.7h.6M49.2 57.5h.6M51.0 60.5h.6" stroke="#000" stroke-opacity="0.5" stroke-width="0.6" fill="none" filter="url(#bl)"/>
<rect x="148.9" y="289.2" width="90.8" height="89.3" fill="none" stroke="#444" stroke-width="1.2"/>
<text class="sa" x="194.4" y="280" font-size="12.2" font-weight="normal" font-style="italic" text-anchor="middle" fill="#000" stroke="#000" stroke-width=".2">Mll-AF4</text>
<rect x="150.1" y="291.4" width="12.8" height="5.6" fill="#fff"/>
<text class="se" x="150.6" y="296.4" font-size="6.7" font-weight="normal" font-style="normal" text-anchor="start" fill="#000" stroke="#000" stroke-width=".15">47.2</text>
<rect x="225.6" y="291.4" width="12.8" height="5.6" fill="#fff"/>
<text class="se" x="237.89999999999998" y="296.4" font-size="6.7" font-weight="normal" font-style="normal" text-anchor="end" fill="#000" stroke="#000" stroke-width=".15">8.79</text>
<rect x="150.1" y="371.5" width="7.7" height="5.6" fill="#fff"/>
<text class="se" x="150.6" y="376.5" font-size="6.7" font-weight="normal" font-style="normal" text-anchor="start" fill="#000" stroke="#000" stroke-width=".15">44</text>
<rect x="225.6" y="371.5" width="12.8" height="5.6" fill="#fff"/>
<text class="se" x="237.89999999999998" y="376.5" font-size="6.7" font-weight="normal" font-style="normal" text-anchor="end" fill="#000" stroke="#000" stroke-width=".15">0.03</text>
<text class="se" x="144.2" y="381.6" font-size="5.7" font-weight="bold" text-anchor="end" fill="#000">10<tspan dy="-2" font-size="4.6">0</tspan></text>
<text class="se" x="149.8" y="388.7" font-size="5.7" font-weight="bold" text-anchor="middle" fill="#000">10<tspan dy="-2" font-size="4.6">0</tspan></text>
<text class="se" x="144.2" y="359.3" font-size="5.7" font-weight="bold" text-anchor="end" fill="#000">10<tspan dy="-2" font-size="4.6">1</tspan></text>
<text class="se" x="172.5" y="388.7" font-size="5.7" font-weight="bold" text-anchor="middle" fill="#000">10<tspan dy="-2" font-size="4.6">1</tspan></text>
<text class="se" x="144.2" y="337.0" font-size="5.7" font-weight="bold" text-anchor="end" fill="#000">10<tspan dy="-2" font-size="4.6">2</tspan></text>
<text class="se" x="195.2" y="388.7" font-size="5.7" font-weight="bold" text-anchor="middle" fill="#000">10<tspan dy="-2" font-size="4.6">2</tspan></text>
<text class="se" x="144.2" y="314.6" font-size="5.7" font-weight="bold" text-anchor="end" fill="#000">10<tspan dy="-2" font-size="4.6">3</tspan></text>
<text class="se" x="217.9" y="388.7" font-size="5.7" font-weight="bold" text-anchor="middle" fill="#000">10<tspan dy="-2" font-size="4.6">3</tspan></text>
<text class="se" x="144.2" y="292.3" font-size="5.7" font-weight="bold" text-anchor="end" fill="#000">10<tspan dy="-2" font-size="4.6">4</tspan></text>
<text class="se" x="240.6" y="388.7" font-size="5.7" font-weight="bold" text-anchor="middle" fill="#000">10<tspan dy="-2" font-size="4.6">4</tspan></text>
<line x1="296.5" y1="289.2" x2="296.5" y2="377.3" stroke="#999" stroke-width="0.8"/>
<line x1="270.5" y1="346.6" x2="359.0" y2="346.6" stroke="#999" stroke-width="0.8"/>
<path transform="translate(270.5,289.2)" d="M21.5 20.1h.6M14.9 47.0h.6M16.0 56.4h.6M27.0 23.4h.6M21.4 37.6h.6M12.6 36.3h.6M23.8 53.4h.6M16.2 55.3h.6M13.8 51.8h.6M22.4 37.3h.6M10.7 41.0h.6M17.8 18.1h.6M21.0 15.8h.6M22.9 32.4h.6M14.4 39.5h.6M15.8 14.5h.6M17.2 35.0h.6M24.3 21.0h.6M9.4 45.6h.6M23.2 36.0h.6M20.5 40.8h.6M25.2 42.6h.6M11.9 33.5h.6M24.2 45.0h.6M12.9 40.0h.6M20.3 28.1h.6M16.3 12.4h.6M7.9 60.2h.6M17.5 34.3h.6M20.7 24.9h.6M23.3 39.6h.6M14.6 25.2h.6M11.8 31.5h.6M22.5 27.2h.6M15.7 44.7h.6M24.2 37.2h.6M25.6 36.5h.6M16.8 51.3h.6M16.7 32.8h.6M14.3 52.3h.6M8.8 50.7h.6M18.2 54.8h.6M22.1 20.0h.6M24.1 41.9h.6M18.1 49.9h.6M27.0 23.6h.6M14.7 44.6h.6M18.0 29.6h.6M14.4 40.9h.6M15.1 31.2h.6M16.0 33.3h.6M15.0 62.4h.6M16.0 18.1h.6M19.8 21.2h.6M18.8 55.2h.6M12.6 26.5h.6M21.8 38.9h.6M13.1 36.5h.6M20.6 18.2h.6M18.6 21.6h.6M9.3 28.3h.6M13.4 15.0h.6M23.2 20.1h.6M14.3 47.0h.6M14.8 54.5h.6M15.6 24.8h.6M18.8 57.5h.6M22.0 40.7h.6M16.1 43.8h.6M26.5 41.8h.6M15.2 19.7h.6M15.0 31.9h.6M16.7 41.7h.6M19.2 22.4h.6M25.8 38.7h.6M28.5 19.3h.6M16.6 12.8h.6M16.7 40.0h.6M22.4 37.4h.6M17.6 20.4h.6M22.2 57.7h.6M12.8 54.2h.6M22.8 48.4h.6M8.7 57.5h.6M22.0 35.0h.6M22.5 30.0h.6M29.3 32.4h.6M12.7 38.9h.6M22.1 22.0h.6M21.8 20.3h.6M13.4 22.2h.6M20.4 38.5h.6M13.0 38.1h.6M12.5 20.6h.6M10.4 34.0h.6M17.0 19.0h.6M12.3 45.3h.6M8.4 40.6h.6M20.1 46.1h.6M9.6 39.9h.6M22.5 28.1h.6M20.0 43.7h.6M14.3 14.9h.6M10.8 56.4h.6M13.2 26.4h.6M11.4 52.4h.6M15.4 32.0h.6M15.9 49.1h.6M29.3 31.3h.6M8.2 39.3h.6M14.7 49.4h.6M21.2 51.6h.6M23.8 44.0h.6M25.4 33.4h.6M12.7 27.4h.6M22.2 15.1h.6M6.3 58.4h.6M16.5 28.8h.6M23.3 41.4h.6M22.8 34.5h.6M10.7 35.1h.6M13.4 27.1h.6M8.0 35.6h.6M13.3 38.6h.6M11.6 20.6h.6M20.3 30.2h.6M13.2 38.4h.6M21.5 19.7h.6M17.5 52.7h.6M16.1 50.9h.6M26.3 16.7h.6M24.7 36.7h.6M11.9 59.3h.6M25.3 23.6h.6M22.2 19.0h.6M25.1 43.7h.6M20.6 52.8h.6M9.2 40.5h.6M15.4 31.2h.6M7.1 47.2h.6M11.0 50.6h.6M13.8 30.2h.6M25.0 26.8h.6M18.3 56.6h.6M19.4 51.7h.6M22.8 39.8h.6M12.9 47.4h.6M24.5 31.1h.6M19.7 27.0h.6M13.5 16.5h.6M14.3 32.2h.6M16.6 23.4h.6M21.2 54.8h.6M25.5 42.5h.6M16.3 22.2h.6M16.9 55.9h.6M26.6 18.0h.6M31.5 25.9h.6M27.1 31.5h.6M19.9 38.8h.6M16.1 53.3h.6M21.9 49.7h.6M20.2 44.8h.6M13.2 44.9h.6M24.9 19.1h.6M29.3 43.2h.6M13.2 47.4h.6M14.2 58.9h.6M14.4 35.3h.6M11.1 39.3h.6M22.6 20.4h.6M11.4 17.6h.6M22.3 26.9h.6M20.5 48.4h.6M22.9 31.3h.6M10.3 36.0h.6M19.6 37.8h.6M19.7 51.2h.6M23.5 29.5h.6M20.2 52.2h.6M14.0 39.7h.6M24.6 38.4h.6M24.2 61.5h.6M25.3 26.1h.6M14.6 13.6h.6M21.7 41.4h.6M12.8 47.4h.6M17.1 23.2h.6M22.1 51.9h.6M10.4 39.3h.6M30.4 29.4h.6M24.8 41.5h.6M13.1 39.7h.6M14.7 50.1h.6M17.6 46.8h.6M17.1 26.1h.6M11.7 50.3h.6M17.2 46.8h.6M10.2 48.2h.6M14.1 30.3h.6M27.1 37.7h.6M17.7 49.8h.6M15.2 31.9h.6M25.3 55.9h.6M19.7 58.7h.6M22.3 30.4h.6M15.3 15.4h.6M24.4 41.0h.6M15.6 31.5h.6M22.7 52.3h.6M22.5 33.0h.6M26.9 30.9h.6M23.9 26.5h.6M18.0 48.5h.6M13.0 16.3h.6M16.3 51.2h.6M14.5 19.0h.6M25.8 46.6h.6M15.3 25.8h.6M7.8 26.0h.6M20.0 10.8h.6M23.3 36.5h.6M13.5 58.1h.6M22.4 23.1h.6M11.1 48.3h.6M19.6 51.2h.6M17.0 46.9h.6M20.0 49.2h.6M20.8 23.9h.6M13.6 35.3h.6M22.9 25.0h.6M15.0 25.2h.6M19.0 43.6h.6M25.6 24.8h.6M13.2 22.8h.6M18.5 13.8h.6M26.5 31.2h.6M25.2 37.4h.6M14.2 51.0h.6M14.0 44.3h.6M22.1 34.9h.6M13.7 34.2h.6M18.5 54.3h.6M10.7 44.5h.6M22.4 38.2h.6M9.9 46.9h.6M19.0 46.4h.6M22.7 29.4h.6M14.2 51.4h.6M9.9 33.7h.6M11.5 52.4h.6M8.6 37.5h.6M26.8 46.0h.6M9.0 26.6h.6M11.2 29.6h.6M19.9 18.0h.6M18.4 49.3h.6M23.5 50.8h.6M24.8 49.8h.6M21.5 39.3h.6M17.7 21.4h.6M14.6 27.2h.6M16.8 26.0h.6M23.2 50.2h.6M21.6 20.3h.6M22.0 24.2h.6M9.5 46.4h.6M14.6 65.5h.6M14.0 49.4h.6M14.2 40.3h.6M12.8 19.6h.6M22.7 31.3h.6M24.4 35.0h.6M26.6 15.5h.6M15.3 17.9h.6M17.3 29.5h.6M18.8 25.8h.6M18.1 19.3h.6M13.2 48.5h.6M23.1 28.5h.6M8.3 45.1h.6M15.2 51.3h.6M8.7 34.2h.6M21.7 20.1h.6M11.5 17.8h.6M11.7 28.7h.6M18.0 20.4h.6M11.9 41.3h.6M19.5 55.3h.6M15.5 47.5h.6M27.8 28.0h.6M11.3 46.8h.6M14.1 15.4h.6M21.3 18.9h.6M19.2 40.5h.6M20.4 14.1h.6M16.1 26.6h.6M22.9 14.7h.6M20.9 38.7h.6M25.2 23.6h.6M10.6 42.2h.6M20.4 35.1h.6M16.8 20.8h.6M20.1 12.6h.6M12.3 36.7h.6M23.3 29.8h.6M11.1 50.1h.6M23.7 37.3h.6M21.8 27.0h.6M9.4 54.0h.6M21.0 42.6h.6M8.8 52.6h.6M22.1 31.4h.6M10.0 28.6h.6M17.5 29.7h.6M15.9 42.5h.6M10.0 51.5h.6M9.5 57.5h.6M21.9 34.5h.6M15.6 17.9h.6M24.5 37.6h.6M17.5 38.5h.6M30.5 36.3h.6M19.2 51.8h.6M26.8 20.5h.6M20.5 24.2h.6M18.6 55.4h.6M21.2 51.7h.6M14.1 20.5h.6M14.3 50.3h.6M26.8 33.5h.6M17.0 51.6h.6M11.5 34.3h.6M21.4 46.7h.6M13.1 46.9h.6M18.7 51.9h.6M23.7 12.3h.6M24.0 6.4h.6M27.4 30.0h.6M24.8 24.9h.6M22.4 26.0h.6M22.2 34.5h.6M20.9 36.9h.6M18.0 43.5h.6M28.9 23.4h.6M17.9 53.3h.6M26.7 43.0h.6M17.5 25.0h.6M24.5 50.9h.6M6.1 24.3h.6M19.8 41.2h.6M14.0 34.6h.6M26.0 17.7h.6M26.4 33.7h.6M14.0 35.5h.6M17.9 46.5h.6M23.9 26.7h.6M20.5 24.4h.6M19.1 49.3h.6M24.1 25.0h.6M11.5 26.4h.6M26.8 27.1h.6M21.4 46.3h.6M5.7 31.1h.6M13.6 20.6h.6M18.1 45.2h.6M28.5 51.6h.6M18.6 47.6h.6M10.3 38.9h.6M25.4 17.9h.6M20.9 18.9h.6M18.7 24.7h.6M24.6 42.4h.6M16.2 25.1h.6M17.7 36.4h.6M24.1 47.2h.6M20.9 57.1h.6M24.0 20.9h.6M16.7 57.4h.6M26.8 18.5h.6M12.1 13.7h.6M11.0 38.5h.6M21.9 47.0h.6M16.8 47.4h.6M20.3 46.3h.6M19.3 28.4h.6M17.9 21.6h.6M12.7 48.7h.6M21.3 40.9h.6M25.8 41.6h.6M14.1 22.4h.6M27.8 21.4h.6M26.7 43.3h.6M13.4 42.8h.6M23.9 31.6h.6M13.3 59.4h.6M18.1 45.8h.6M12.2 36.4h.6M15.9 55.6h.6M9.2 37.0h.6M17.7 34.6h.6M12.6 46.3h.6M13.8 23.8h.6M9.1 50.7h.6M19.4 27.8h.6M28.1 35.5h.6M16.7 21.2h.6M18.0 48.8h.6M12.3 30.1h.6M15.8 27.1h.6M14.0 22.5h.6M11.2 20.1h.6M14.1 56.9h.6M15.0 38.8h.6M20.7 50.5h.6M16.8 22.4h.6M20.3 17.3h.6M25.8 37.2h.6M24.3 30.4h.6M16.4 19.2h.6M9.5 37.0h.6M17.3 39.9h.6M19.2 56.8h.6M24.4 43.5h.6M19.7 21.1h.6M30.5 46.6h.6M16.3 31.1h.6M23.1 30.9h.6M12.9 38.4h.6M12.9 27.2h.6M16.8 48.7h.6M19.8 17.2h.6M23.1 41.0h.6M5.1 30.8h.6M25.0 41.4h.6M26.5 29.8h.6M26.0 37.6h.6M22.9 14.1h.6M18.0 51.5h.6M22.3 44.3h.6M25.0 16.2h.6M13.1 26.9h.6M23.2 34.9h.6M22.3 39.0h.6M17.9 54.0h.6M27.6 36.0h.6M14.0 32.0h.6M13.3 22.4h.6M18.4 22.1h.6M15.2 18.6h.6M25.9 28.3h.6M10.0 48.2h.6M11.2 43.6h.6M20.2 15.7h.6M23.5 32.5h.6M12.5 20.9h.6M24.9 52.4h.6M8.9 45.6h.6M24.3 44.6h.6M13.0 34.2h.6M15.6 49.3h.6M27.0 48.1h.6M18.3 38.6h.6M15.4 63.5h.6M20.3 45.3h.6M27.8 27.5h.6M18.9 52.3h.6M13.4 38.9h.6M19.9 49.0h.6M11.4 43.6h.6M13.9 33.8h.6M14.7 29.8h.6M22.7 27.7h.6M15.4 48.9h.6M21.0 15.6h.6M25.0 29.1h.6M26.5 41.1h.6M10.2 23.4h.6M18.2 44.0h.6M12.9 15.4h.6M22.3 22.4h.6M20.8 37.3h.6M18.5 44.9h.6M15.2 49.8h.6M12.9 49.1h.6M9.6 42.9h.6M23.4 17.1h.6M16.8 32.4h.6M19.2 37.8h.6M20.8 27.6h.6M23.4 38.8h.6M27.3 47.1h.6M17.5 56.0h.6M21.9 16.3h.6M9.8 42.8h.6M16.4 16.2h.6M14.9 14.4h.6M14.2 32.7h.6M24.7 23.3h.6M19.5 42.5h.6M19.4 38.5h.6M19.5 33.0h.6M16.4 36.5h.6M17.2 16.6h.6M13.9 39.1h.6M15.2 23.8h.6M15.1 34.5h.6M17.2 25.6h.6M9.8 18.6h.6M18.8 56.1h.6M18.2 19.3h.6M21.2 44.8h.6M11.9 35.4h.6M12.7 43.2h.6M23.4 41.1h.6M14.5 55.4h.6M20.5 64.8h.6M15.2 12.0h.6M11.9 26.7h.6M10.5 42.1h.6M15.3 60.0h.6M15.4 26.2h.6M12.3 18.9h.6M25.9 27.2h.6M18.5 57.8h.6M13.0 45.7h.6M26.3 29.4h.6M23.6 34.9h.6M14.2 22.1h.6M12.7 51.3h.6M17.2 47.3h.6M21.7 62.9h.6M11.3 24.3h.6M24.7 24.7h.6M15.7 44.7h.6M22.5 56.5h.6M17.6 22.6h.6M21.0 53.9h.6M21.9 51.9h.6M24.4 56.3h.6M14.7 56.3h.6M27.5 44.0h.6M11.8 52.8h.6M20.3 19.5h.6M22.5 23.8h.6M19.1 33.5h.6M23.7 42.5h.6M9.9 39.9h.6M18.2 54.7h.6M24.3 28.1h.6M18.6 50.6h.6M12.1 45.9h.6M19.9 28.8h.6M19.7 49.4h.6M13.4 56.2h.6M25.2 20.4h.6M15.7 59.2h.6M13.1 55.1h.6M19.1 52.9h.6M14.5 48.9h.6M16.9 40.3h.6M19.4 70.3h.6M15.7 46.1h.6M21.6 16.3h.6M20.2 18.6h.6M24.9 22.0h.6M12.4 39.8h.6M19.3 30.9h.6M20.4 45.2h.6M19.9 57.3h.6M8.3 35.7h.6M12.8 23.7h.6M21.1 29.6h.6M22.5 35.2h.6M18.8 22.3h.6M20.1 29.2h.6M24.7 19.2h.6M16.1 45.1h.6M14.7 60.2h.6M26.3 26.8h.6M22.1 21.7h.6M17.5 49.4h.6M13.8 33.9h.6M26.6 23.9h.6M17.2 67.5h.6M14.8 9.4h.6M25.2 23.2h.6M10.6 42.0h.6M17.7 53.5h.6M21.7 55.5h.6M17.3 1.1h.6M15.0 43.6h.6M21.3 23.9h.6M11.8 48.1h.6M17.0 43.6h.6M22.8 24.6h.6M12.6 51.6h.6M26.0 34.5h.6M16.9 41.6h.6M18.1 27.2h.6M15.7 23.9h.6M22.5 37.8h.6M16.0 18.0h.6M20.3 44.3h.6M25.4 39.0h.6M25.5 32.4h.6M10.4 42.8h.6M25.5 23.2h.6M16.3 68.9h.6M20.0 58.4h.6M19.0 62.4h.6M20.0 16.3h.6M15.0 24.8h.6M22.1 45.7h.6M24.4 28.2h.6M15.6 59.9h.6M18.6 42.9h.6M22.6 15.3h.6M24.5 24.7h.6M20.0 9.6h.6M20.5 44.3h.6M21.2 18.7h.6M15.8 34.8h.6M21.1 29.2h.6M16.4 31.4h.6M16.4 24.4h.6M7.9 24.8h.6M9.3 38.8h.6M21.2 28.2h.6M23.3 35.9h.6M21.7 29.6h.6M19.2 49.0h.6M16.7 21.5h.6M22.0 23.7h.6M15.6 30.8h.6M19.0 36.1h.6M26.1 41.9h.6M11.3 51.4h.6M15.1 53.4h.6M17.0 49.6h.6M9.2 28.1h.6M11.7 32.3h.6M23.7 52.5h.6M21.4 49.3h.6M17.7 17.5h.6M24.6 13.3h.6M13.0 25.9h.6M26.7 9.2h.6M18.1 47.9h.6M14.5 29.8h.6M24.5 42.7h.6M20.8 8.5h.6M20.0 27.0h.6M17.6 27.7h.6M9.3 34.4h.6M8.4 48.0h.6M18.9 36.6h.6M22.7 60.9h.6M13.4 44.6h.6M19.0 50.9h.6M10.4 28.3h.6M11.1 21.6h.6M18.0 29.4h.6M22.3 48.8h.6M22.5 49.5h.6M24.8 22.8h.6M13.3 41.6h.6M17.0 41.5h.6M22.7 49.1h.6M12.3 33.8h.6M16.0 31.6h.6M18.4 22.3h.6M18.3 50.2h.6M23.8 33.6h.6M20.6 54.0h.6M15.2 31.8h.6M7.4 39.5h.6M23.3 39.2h.6M23.7 20.7h.6M21.1 52.2h.6M20.1 14.1h.6M21.3 26.7h.6M24.9 24.7h.6M14.8 31.2h.6M17.9 47.5h.6M12.5 45.8h.6M17.0 21.1h.6M13.0 37.2h.6M13.2 31.8h.6M8.6 43.4h.6M17.7 22.0h.6M23.9 23.6h.6M5.5 54.3h.6M24.1 10.0h.6M18.1 19.7h.6M14.3 24.2h.6M20.5 27.7h.6M16.0 36.4h.6M17.8 21.8h.6M24.3 4.6h.6M20.0 35.8h.6M20.4 50.7h.6M15.9 35.9h.6M16.6 33.1h.6M13.3 23.6h.6M17.5 53.4h.6M13.3 44.0h.6M24.7 37.3h.6M16.9 21.0h.6M22.2 18.3h.6M25.3 29.6h.6M23.5 18.7h.6M13.6 34.8h.6M26.8 30.7h.6M10.0 64.1h.6M25.5 44.5h.6M7.0 52.6h.6M12.8 30.4h.6M17.5 32.8h.6M14.2 52.5h.6M8.0 38.9h.6M10.2 40.3h.6M20.0 27.3h.6M9.5 46.1h.6M22.1 45.3h.6M24.0 17.5h.6M25.5 36.5h.6M19.6 19.9h.6M17.9 49.9h.6M15.1 41.1h.6M30.3 34.9h.6M24.5 46.5h.6M22.0 23.2h.6M20.0 53.9h.6M24.5 29.8h.6M9.8 63.0h.6M23.1 23.6h.6M14.1 36.4h.6M7.7 26.8h.6M23.3 10.0h.6M13.6 48.0h.6M21.5 34.1h.6M14.2 55.0h.6M15.3 45.0h.6M26.5 31.9h.6M20.9 33.8h.6M20.6 22.5h.6M10.1 32.4h.6M23.1 20.4h.6M14.2 48.1h.6M21.6 31.7h.6M12.7 52.3h.6M21.1 38.1h.6M20.6 65.8h.6M10.3 40.4h.6M20.8 33.7h.6M12.8 45.1h.6M25.1 39.1h.6M20.0 57.4h.6M18.5 47.2h.6M31.2 37.7h.6M23.4 30.5h.6M15.5 28.9h.6M23.5 40.8h.6M20.6 38.0h.6M25.5 28.4h.6M12.7 50.7h.6M27.5 20.4h.6M15.8 12.3h.6M15.5 30.0h.6M13.6 45.5h.6M15.8 32.4h.6M27.2 18.7h.6M19.2 17.8h.6M12.7 55.6h.6M17.0 29.8h.6M19.8 47.4h.6M23.9 40.5h.6M15.7 31.6h.6M19.6 26.0h.6M31.0 34.4h.6M17.4 49.9h.6M19.4 40.2h.6M11.9 52.2h.6M22.9 12.9h.6M15.8 57.5h.6M27.3 25.2h.6M25.1 31.9h.6M23.4 34.0h.6M15.3 52.5h.6M15.8 45.7h.6M15.4 43.5h.6M18.9 45.7h.6M15.5 41.9h.6M14.3 35.6h.6M19.0 44.4h.6M18.1 27.7h.6M15.8 25.3h.6M23.6 42.2h.6M24.0 23.7h.6M14.2 36.7h.6M28.4 39.1h.6M20.9 27.0h.6M24.5 19.4h.6M27.5 36.7h.6M11.6 60.4h.6M21.3 23.1h.6M23.3 20.6h.6M24.5 48.4h.6M23.3 36.5h.6M24.1 27.3h.6M11.6 65.2h.6M12.8 27.2h.6M21.8 23.8h.6M8.5 30.3h.6M15.4 17.7h.6M17.1 52.4h.6M20.5 21.3h.6M22.4 8.5h.6M19.4 62.7h.6M13.1 44.2h.6M12.7 28.4h.6M20.9 47.0h.6M21.1 58.1h.6M21.1 29.6h.6M19.6 32.1h.6M19.0 48.3h.6M10.6 36.1h.6M18.1 22.3h.6M22.5 20.7h.6M11.8 32.9h.6M20.6 52.9h.6M22.8 40.0h.6M28.1 57.0h.6M17.9 52.5h.6M16.1 34.0h.6M11.5 31.5h.6M11.8 39.5h.6M9.8 40.1h.6M10.2 61.9h.6M22.0 52.6h.6M18.2 53.4h.6M20.3 46.1h.6M10.0 47.6h.6M9.4 16.0h.6M9.6 27.6h.6M26.2 46.5h.6M24.5 43.8h.6M11.0 47.0h.6M19.0 46.9h.6M19.5 45.8h.6M13.6 62.7h.6M14.7 21.8h.6M23.7 24.9h.6M22.6 25.4h.6M23.8 33.2h.6M20.7 27.7h.6M19.3 43.8h.6M20.7 60.0h.6M16.8 34.8h.6M27.0 33.3h.6M19.5 54.6h.6M20.8 62.3h.6M17.8 20.3h.6M14.6 52.9h.6M18.0 42.2h.6M16.2 49.2h.6M14.3 17.0h.6M22.4 54.5h.6M27.7 20.7h.6M19.6 65.3h.6M17.7 22.7h.6M13.9 46.7h.6M11.8 64.8h.6M22.6 34.6h.6M22.4 37.0h.6M14.3 59.0h.6M19.2 29.5h.6M12.9 39.7h.6M25.9 27.7h.6M19.0 55.8h.6M21.1 47.8h.6M26.7 45.8h.6M7.7 39.5h.6M21.1 45.0h.6M20.0 51.3h.6M16.8 18.4h.6M18.6 46.7h.6M24.8 20.2h.6M14.5 25.8h.6M14.5 49.6h.6M26.2 55.0h.6M24.5 31.8h.6M21.6 25.0h.6M22.8 19.2h.6M19.4 29.0h.6M16.4 29.6h.6M17.6 48.2h.6M20.5 47.9h.6M16.5 3.0h.6M10.5 25.5h.6M17.6 55.7h.6M20.8 30.4h.6M17.6 28.5h.6M21.7 57.9h.6M20.8 41.7h.6M24.1 26.6h.6M19.2 14.7h.6M17.6 15.6h.6M22.4 41.4h.6M23.8 39.8h.6M15.6 46.3h.6M13.1 35.3h.6M25.5 22.8h.6M15.6 53.1h.6M21.4 39.3h.6M15.6 47.9h.6M20.0 48.7h.6M25.8 40.9h.6M26.1 12.6h.6M12.2 17.8h.6M11.5 21.1h.6M4.9 59.1h.6M22.5 30.2h.6M25.2 7.4h.6M20.6 28.4h.6M16.7 49.3h.6M23.4 26.0h.6M12.8 43.1h.6M22.7 41.8h.6M25.8 30.5h.6M25.3 27.6h.6M23.1 38.0h.6M14.8 38.8h.6M16.6 52.7h.6M12.8 39.8h.6M27.5 24.4h.6M25.4 32.8h.6M18.2 41.5h.6M18.1 56.5h.6M19.9 19.6h.6M14.9 54.4h.6M21.8 24.7h.6M21.9 41.8h.6M21.2 23.2h.6M18.8 20.8h.6M7.0 44.7h.6M17.6 70.1h.6M12.0 63.0h.6M10.2 52.2h.6M28.6 43.6h.6M14.9 32.8h.6M17.5 12.3h.6M16.5 26.2h.6M13.1 41.1h.6M26.1 17.2h.6M9.1 42.7h.6M21.3 22.5h.6M14.5 31.8h.6M24.2 57.3h.6M23.1 21.2h.6M18.8 13.7h.6M10.5 44.4h.6M23.0 23.6h.6M24.1 26.9h.6M22.7 39.6h.6M16.3 44.8h.6M22.0 20.8h.6M13.8 48.3h.6M20.1 45.5h.6M20.7 22.5h.6M17.0 22.7h.6M13.4 18.5h.6M16.9 47.5h.6M13.8 56.1h.6M12.1 24.4h.6M23.5 54.0h.6M17.3 45.2h.6M14.7 42.2h.6M15.7 15.4h.6M21.7 34.9h.6M16.6 54.5h.6M13.6 39.0h.6M19.8 17.4h.6M19.0 59.3h.6M13.7 55.9h.6M12.6 24.7h.6M25.5 32.2h.6M16.7 52.5h.6M25.1 37.0h.6M22.5 33.9h.6M17.9 53.5h.6M16.7 47.3h.6M26.0 16.1h.6M14.0 32.8h.6M16.1 21.1h.6M13.0 39.3h.6M17.3 47.1h.6M12.6 34.0h.6M19.1 50.6h.6M11.3 34.0h.6M21.9 40.7h.6M20.9 41.3h.6M20.1 41.6h.6M14.9 51.9h.6M24.7 16.9h.6M27.4 50.6h.6M17.2 32.0h.6M14.2 55.3h.6M22.1 21.8h.6M16.6 42.3h.6M19.7 31.9h.6M22.5 27.4h.6M10.9 34.4h.6M23.0 31.8h.6M12.2 33.5h.6M11.3 34.3h.6M15.6 45.9h.6M26.0 37.7h.6M14.0 42.5h.6M21.2 46.9h.6M12.8 46.8h.6M21.6 17.3h.6M20.0 55.3h.6M23.9 13.7h.6M19.6 45.6h.6M18.4 25.6h.6M8.9 40.1h.6M20.9 39.4h.6M23.1 26.2h.6M19.3 14.1h.6M20.0 38.8h.6M22.3 35.8h.6M23.4 42.8h.6M14.0 13.7h.6M17.9 19.7h.6M20.7 19.5h.6M20.6 35.1h.6M13.7 61.3h.6M8.6 34.3h.6M19.9 58.6h.6M22.6 44.6h.6M26.5 21.3h.6M21.1 45.2h.6M13.2 48.7h.6M20.4 61.3h.6M17.5 24.8h.6M13.9 31.4h.6M10.6 46.1h.6M9.1 35.4h.6M14.7 58.6h.6M15.8 51.6h.6M19.0 31.7h.6M18.4 22.6h.6M20.4 36.7h.6M27.2 47.8h.6M17.8 46.0h.6M25.2 19.7h.6M13.6 47.6h.6M13.5 34.3h.6M14.7 30.6h.6M9.3 46.9h.6M26.8 33.1h.6M19.5 58.8h.6M22.7 43.9h.6M27.0 32.9h.6M21.2 25.2h.6M26.1 17.7h.6M7.3 46.4h.6M25.2 27.5h.6M20.8 38.5h.6M14.9 50.0h.6M24.2 45.2h.6M18.7 38.8h.6M13.5 38.4h.6M8.8 49.4h.6M25.7 4.5h.6M6.4 41.4h.6M18.8 25.1h.6M26.5 37.0h.6M21.1 4.6h.6M15.3 64.0h.6M16.2 44.4h.6M14.0 35.2h.6M19.7 19.0h.6M17.4 39.1h.6M11.5 52.3h.6M11.1 20.3h.6M24.6 25.1h.6M11.1 43.1h.6M11.7 42.9h.6M29.1 35.5h.6M12.9 36.3h.6M11.9 59.7h.6M12.3 37.0h.6M22.8 44.3h.6M13.5 31.0h.6M17.0 30.5h.6M7.6 52.8h.6M14.8 19.8h.6M18.4 24.2h.6M18.4 50.7h.6M25.5 47.3h.6M21.3 46.5h.6M5.4 37.8h.6M10.2 24.4h.6M13.1 51.4h.6M16.2 49.9h.6M18.4 27.2h.6M22.4 36.3h.6M9.4 40.9h.6M7.5 42.3h.6M23.1 40.2h.6M13.1 17.2h.6M7.3 29.8h.6M12.3 44.1h.6M15.5 20.3h.6M12.2 16.6h.6M11.4 32.8h.6M24.1 30.1h.6M11.7 46.3h.6M20.6 33.6h.6M19.8 31.6h.6M16.0 19.6h.6M28.9 43.6h.6M11.5 58.9h.6M29.8 38.1h.6M12.2 33.7h.6M16.7 61.8h.6M20.4 40.5h.6M24.1 45.8h.6M21.9 51.1h.6M15.1 35.6h.6M16.0 21.1h.6M24.0 51.9h.6M26.2 30.8h.6M14.2 41.6h.6M24.8 25.5h.6M22.1 35.5h.6M19.7 47.1h.6M12.0 27.2h.6M11.0 33.7h.6M20.5 51.0h.6M6.4 62.1h.6M14.9 49.3h.6M21.3 32.2h.6M9.6 30.5h.6M26.5 41.2h.6M26.7 38.7h.6M12.9 60.7h.6M17.2 46.1h.6M16.6 35.3h.6M14.6 47.9h.6M14.4 40.6h.6M20.9 50.4h.6M26.4 45.1h.6M18.8 31.0h.6M18.6 57.2h.6M19.5 37.0h.6M14.2 22.2h.6M22.0 44.7h.6M14.8 46.7h.6M12.6 50.8h.6M21.6 53.2h.6M8.9 47.8h.6M15.3 55.5h.6M15.1 42.9h.6M17.2 47.5h.6M10.5 54.1h.6M12.3 39.2h.6M17.2 22.5h.6M21.8 23.9h.6M17.2 44.0h.6M16.1 39.6h.6M13.5 53.5h.6M18.3 43.2h.6M5.8 34.7h.6M22.1 24.5h.6M23.2 17.9h.6M18.0 57.3h.6M13.1 19.5h.6M25.5 29.6h.6M14.5 18.6h.6M25.6 34.7h.6M16.6 20.6h.6M13.1 40.2h.6M16.9 53.4h.6M13.5 34.4h.6M16.9 47.2h.6M21.8 37.4h.6M16.2 29.2h.6M15.2 26.6h.6M18.0 26.4h.6M20.5 22.1h.6M18.1 57.7h.6M21.3 20.0h.6M21.6 48.7h.6M20.7 35.5h.6M22.6 42.6h.6M18.2 54.0h.6M24.4 23.2h.6M20.5 51.4h.6M23.1 44.1h.6M17.1 18.1h.6M11.8 64.9h.6M15.9 59.6h.6M18.4 22.7h.6M20.7 44.2h.6M17.9 24.8h.6M26.0 34.8h.6M11.1 46.9h.6M9.3 32.2h.6M17.0 49.6h.6M14.0 47.9h.6M18.5 32.5h.6M21.8 51.4h.6M29.8 48.4h.6M11.9 59.6h.6M12.3 27.0h.6M17.9 13.4h.6M10.7 25.5h.6M13.7 48.9h.6M25.1 42.0h.6M17.8 52.5h.6M17.8 39.4h.6M24.1 21.3h.6M9.4 41.8h.6M19.4 38.8h.6M17.9 71.4h.6M20.4 31.1h.6M13.0 55.2h.6M15.1 43.7h.6M17.3 30.7h.6M23.0 34.0h.6M13.8 28.1h.6M21.4 16.0h.6M9.2 65.1h.6M20.3 56.7h.6M22.1 14.8h.6M12.7 32.3h.6M16.3 49.7h.6M18.1 43.5h.6M20.6 36.9h.6M24.4 21.0h.6M19.6 43.5h.6M16.1 38.9h.6M17.1 55.9h.6M19.6 16.8h.6M23.0 28.4h.6M19.9 45.2h.6M15.3 56.3h.6M15.4 39.2h.6M13.6 26.2h.6M14.2 11.7h.6M15.8 14.1h.6M14.4 45.1h.6M22.9 42.0h.6M12.0 52.4h.6M18.7 28.1h.6M11.9 49.8h.6M22.9 26.4h.6M20.5 30.0h.6M25.1 28.6h.6M21.2 50.0h.6M12.8 23.5h.6M18.5 41.9h.6M14.8 54.9h.6M14.4 39.3h.6M12.1 36.6h.6M15.5 37.0h.6M18.7 22.0h.6M19.3 19.1h.6M28.4 8.7h.6M16.6 40.2h.6M18.6 19.2h.6M17.7 66.4h.6M16.9 13.6h.6M15.6 38.6h.6M18.5 18.6h.6M16.5 42.7h.6M22.6 26.6h.6M20.9 25.4h.6M13.1 47.8h.6M18.2 47.0h.6M19.5 68.0h.6M16.3 27.7h.6M16.2 41.2h.6M17.3 42.4h.6M21.4 18.5h.6M19.6 29.2h.6M14.4 34.1h.6M17.9 60.4h.6M25.0 31.9h.6M12.5 43.4h.6M21.8 21.0h.6M16.5 46.4h.6M32.7 43.6h.6M22.3 39.2h.6M18.4 13.1h.6M17.5 50.7h.6M10.9 23.4h.6M14.5 41.4h.6M26.7 56.0h.6M20.5 25.3h.6M16.9 9.4h.6M18.1 28.0h.6M18.4 52.5h.6M12.5 42.3h.6M18.8 50.3h.6M20.3 4.0h.6M10.6 32.1h.6M17.1 64.8h.6M6.4 31.8h.6M9.7 34.0h.6M22.6 49.4h.6M24.7 42.8h.6M27.2 34.2h.6M12.2 17.9h.6M17.6 46.6h.6M16.1 49.7h.6M23.8 21.3h.6M20.2 46.6h.6M18.6 52.1h.6M22.2 37.7h.6M15.5 24.8h.6M23.9 32.3h.6M15.8 44.7h.6M23.6 16.1h.6M19.1 17.1h.6M19.3 57.3h.6M12.5 54.2h.6M10.6 51.4h.6M10.1 42.7h.6M21.7 32.3h.6M8.1 41.4h.6M25.5 32.9h.6M15.9 29.3h.6M11.7 55.5h.6M19.7 62.2h.6M11.4 35.0h.6M18.4 18.7h.6M16.0 33.5h.6M24.7 40.1h.6M23.4 26.2h.6M23.7 39.6h.6M15.8 55.5h.6M24.9 39.5h.6M17.7 24.2h.6M19.1 29.5h.6M20.9 24.5h.6M20.0 44.9h.6M11.1 31.6h.6M21.4 16.3h.6M10.1 44.0h.6M21.2 43.9h.6M17.8 19.1h.6M19.0 33.6h.6M12.7 54.2h.6M23.9 40.7h.6M17.4 18.4h.6M23.3 28.9h.6M14.7 14.7h.6M13.9 28.2h.6M18.8 30.5h.6M23.5 20.1h.6M11.3 47.5h.6M15.0 22.3h.6M14.6 39.5h.6M16.1 42.5h.6M15.1 30.6h.6M24.2 41.0h.6M21.9 50.7h.6M18.3 50.4h.6M23.1 26.6h.6M24.1 29.7h.6M14.0 36.5h.6M14.0 27.0h.6M22.0 48.0h.6M28.0 37.6h.6M8.1 22.0h.6M14.7 51.6h.6M22.2 17.6h.6M13.2 42.6h.6M23.2 26.4h.6M20.0 30.6h.6M11.3 42.6h.6M14.8 35.5h.6M20.3 21.1h.6M13.1 48.5h.6M21.5 49.1h.6M20.0 22.2h.6M16.0 44.6h.6M21.1 38.6h.6M15.4 41.1h.6M19.8 43.8h.6M13.5 60.2h.6M25.6 34.8h.6M16.3 45.5h.6M23.8 51.4h.6M28.1 39.4h.6M26.2 30.1h.6M18.1 14.1h.6M19.3 45.6h.6M17.9 17.8h.6M20.3 43.7h.6M13.3 30.9h.6M9.3 42.9h.6M20.2 23.5h.6M18.7 32.3h.6M26.0 38.5h.6M26.3 51.3h.6M11.3 26.0h.6M13.6 57.3h.6M22.7 43.8h.6M23.6 12.8h.6M19.3 30.5h.6M18.9 33.4h.6M9.1 38.1h.6M28.6 29.4h.6M13.7 43.6h.6M21.9 28.9h.6M20.9 38.5h.6M12.8 43.4h.6M23.2 27.1h.6M25.6 25.0h.6M17.8 29.1h.6M19.0 21.4h.6M21.3 12.0h.6M22.8 13.2h.6M23.5 32.5h.6M13.5 53.0h.6M13.3 22.6h.6M14.3 35.5h.6M6.5 31.9h.6M11.1 43.7h.6M17.0 23.1h.6M14.6 53.1h.6M13.0 35.3h.6M22.7 52.1h.6M19.7 11.0h.6M23.2 38.1h.6M17.4 61.7h.6M16.0 19.3h.6M13.5 24.2h.6M19.5 16.8h.6M9.7 52.9h.6M13.0 32.0h.6M21.2 17.0h.6M23.4 36.7h.6M17.7 28.3h.6M11.7 41.4h.6M22.0 39.6h.6M14.4 19.2h.6M17.4 48.7h.6M12.4 37.4h.6M26.9 25.3h.6M25.9 32.3h.6M13.5 25.5h.6M12.8 61.3h.6M17.9 19.5h.6M21.5 51.0h.6M25.0 36.2h.6M17.7 43.0h.6M11.5 31.7h.6M20.6 38.4h.6M20.1 42.8h.6M10.3 29.9h.6M16.9 11.5h.6M16.2 46.8h.6M12.7 47.4h.6M19.7 45.3h.6M23.5 49.8h.6M23.3 49.9h.6M12.9 44.9h.6M14.7 26.2h.6M22.4 42.2h.6M16.1 49.5h.6M15.4 38.9h.6M28.2 41.4h.6M8.1 12.3h.6M14.9 17.4h.6M13.0 37.3h.6M17.9 57.8h.6M26.6 39.9h.6M17.3 50.3h.6M16.4 50.2h.6M18.9 61.6h.6M16.1 45.9h.6M20.6 45.0h.6M29.3 39.4h.6M14.5 54.7h.6M16.6 29.4h.6M17.7 49.7h.6M9.3 63.7h.6M21.5 49.5h.6M17.8 23.4h.6M9.2 25.5h.6M16.6 53.0h.6M19.7 39.3h.6M13.0 29.8h.6M27.2 12.1h.6M12.0 29.1h.6M20.9 33.0h.6M13.1 12.2h.6M29.6 21.0h.6M16.6 26.1h.6M24.8 23.5h.6M14.2 25.6h.6M8.0 29.7h.6M12.1 30.7h.6M23.6 19.6h.6M3.7 26.9h.6M32.2 11.8h.6M39.2 21.5h.6M29.2 25.7h.6M12.1 15.5h.6M25.9 27.0h.6M20.2 29.6h.6M14.3 25.0h.6M29.4 23.7h.6M18.6 7.3h.6M32.4 30.3h.6M22.4 27.8h.6M2.4 17.2h.6M14.5 24.3h.6M18.1 19.8h.6M10.6 15.8h.6M3.5 23.1h.6M36.8 26.5h.6M17.1 31.7h.6M17.2 23.5h.6M0.9 18.5h.6M26.3 20.1h.6M16.5 13.3h.6M30.9 25.2h.6M35.4 20.3h.6M10.0 28.6h.6M10.9 34.0h.6M31.2 17.9h.6M30.7 25.6h.6M22.4 16.4h.6M27.2 27.1h.6M14.6 32.6h.6M17.7 29.6h.6M18.1 25.8h.6M28.0 24.6h.6M27.9 17.7h.6M6.0 22.3h.6M10.3 18.0h.6M23.5 24.0h.6M27.0 27.6h.6M18.2 30.0h.6M13.6 35.3h.6M24.0 17.0h.6M19.5 13.7h.6M6.9 29.2h.6M14.0 29.7h.6M13.3 29.2h.6M27.2 19.3h.6M2.9 21.5h.6M7.2 24.3h.6M11.2 22.9h.6M18.2 33.2h.6M39.8 23.0h.6M14.7 24.8h.6M30.5 18.6h.6M27.4 27.8h.6M32.2 26.0h.6M35.7 20.9h.6M23.0 7.2h.6M6.4 26.9h.6M14.5 9.6h.6M33.2 28.2h.6M38.5 21.9h.6M31.5 28.5h.6M39.0 14.6h.6M27.7 21.1h.6M6.9 20.5h.6M19.3 14.1h.6M21.3 12.8h.6M29.0 27.2h.6M29.2 20.1h.6M7.0 26.1h.6M30.3 14.4h.6M12.6 34.8h.6M20.6 9.0h.6M27.2 24.2h.6M24.6 34.6h.6M25.8 19.5h.6M11.2 28.8h.6M14.8 21.7h.6M29.9 21.2h.6M12.5 14.0h.6M6.7 33.2h.6M18.2 13.4h.6M8.3 30.9h.6M18.0 15.5h.6M5.8 16.3h.6M11.7 27.0h.6M14.2 34.1h.6M30.0 20.9h.6M6.9 25.9h.6M6.0 12.3h.6M20.2 25.1h.6M27.9 16.7h.6M6.3 19.3h.6M25.8 20.3h.6M18.0 31.2h.6M24.4 28.1h.6M20.4 23.5h.6M12.9 23.5h.6M20.7 15.5h.6M8.0 21.7h.6M16.2 15.7h.6M17.5 17.9h.6M32.8 25.7h.6M19.9 32.4h.6M18.8 15.0h.6M22.3 15.1h.6M33.0 17.7h.6M9.4 28.4h.6M2.8 15.0h.6M4.3 21.4h.6M8.1 20.6h.6M19.1 28.2h.6M28.3 26.1h.6M8.4 27.2h.6M5.3 19.3h.6M28.5 27.3h.6M30.9 22.3h.6M7.9 26.5h.6M26.0 30.9h.6M13.6 21.4h.6M9.9 20.8h.6M14.5 21.0h.6M10.4 37.9h.6M0.8 15.6h.6M1.9 22.2h.6M8.8 29.2h.6M20.7 10.0h.6M24.5 21.9h.6M28.0 16.5h.6M6.9 21.0h.6M17.4 35.8h.6M3.0 14.5h.6M6.9 29.9h.6M28.9 14.6h.6M14.5 24.0h.6M36.1 27.4h.6M23.8 36.1h.6M10.7 26.4h.6M9.4 29.5h.6M31.3 29.3h.6M29.3 16.8h.6M46.6 24.8h.6M37.8 24.9h.6M20.9 9.8h.6M5.6 16.5h.6M11.5 18.5h.6M17.3 32.9h.6M2.0 27.1h.6M27.5 23.7h.6M29.1 27.6h.6M6.6 29.2h.6M13.9 16.4h.6M2.3 26.2h.6M29.3 28.0h.6M6.6 26.8h.6M4.5 26.9h.6M4.9 19.9h.6M1.2 31.0h.6M28.8 13.3h.6M25.0 14.2h.6M3.2 24.2h.6M7.3 29.2h.6M15.0 22.0h.6M19.1 27.6h.6M4.8 18.3h.6M33.0 22.5h.6M24.7 13.3h.6M36.0 31.3h.6M27.1 26.3h.6M21.1 26.5h.6M14.1 30.7h.6M6.4 10.8h.6M25.5 24.0h.6M10.5 16.4h.6M32.4 27.4h.6M30.8 25.6h.6M29.6 22.8h.6M21.2 12.5h.6M33.5 10.6h.6M35.0 13.3h.6M30.3 12.9h.6M31.4 23.8h.6M8.0 27.5h.6M32.5 14.0h.6M36.4 26.6h.6M23.9 17.4h.6M24.7 27.4h.6M15.8 30.2h.6M21.9 21.5h.6M13.6 29.3h.6M25.0 25.2h.6M15.3 15.0h.6M0.9 23.5h.6M10.1 14.7h.6M23.8 26.4h.6M21.4 18.5h.6M32.9 28.6h.6M28.1 13.4h.6M29.8 33.9h.6M16.6 18.8h.6M30.5 18.1h.6M11.2 36.6h.6M10.6 32.7h.6M27.0 32.0h.6M22.5 23.4h.6M6.9 24.4h.6M29.8 24.9h.6M33.6 18.1h.6M25.0 9.0h.6M31.7 28.8h.6M29.6 19.4h.6M29.8 21.9h.6M8.3 14.5h.6M1.0 33.7h.6M14.0 32.8h.6M11.0 30.1h.6M4.0 20.4h.6M19.4 27.0h.6M10.6 34.3h.6M17.5 28.7h.6M8.3 32.4h.6M14.0 28.7h.6M34.1 23.6h.6M5.6 27.8h.6M30.5 9.6h.6M27.8 18.2h.6M17.2 32.6h.6M13.0 12.4h.6M20.6 9.5h.6M11.2 24.3h.6M29.8 19.4h.6M13.8 14.0h.6M8.2 20.5h.6M24.0 13.3h.6M7.1 17.9h.6M25.1 27.4h.6M3.8 25.8h.6M9.3 24.7h.6M20.1 28.3h.6M9.6 13.3h.6M30.0 19.8h.6M15.5 25.0h.6M20.4 15.4h.6M24.4 14.5h.6M18.5 11.4h.6M21.2 27.7h.6M21.5 30.8h.6M10.2 11.1h.6M4.2 19.5h.6M2.1 26.3h.6M17.9 24.1h.6M17.9 30.7h.6M15.0 12.7h.6M37.7 20.4h.6M16.9 26.4h.6M19.2 32.3h.6M3.0 10.4h.6M23.3 21.0h.6M26.3 35.0h.6M6.4 26.7h.6M38.2 22.4h.6M8.7 21.0h.6M19.2 30.5h.6M12.9 13.8h.6M11.7 17.1h.6M28.1 27.3h.6M31.9 25.6h.6M4.0 23.9h.6M11.3 30.7h.6M40.8 20.6h.6M5.9 16.6h.6M13.9 26.9h.6M3.0 25.2h.6M13.1 22.8h.6M21.9 11.4h.6M33.0 13.6h.6M16.1 27.2h.6M23.0 7.8h.6M29.1 25.0h.6M9.5 11.3h.6M18.7 17.3h.6M35.6 14.8h.6M23.3 25.9h.6M38.3 21.7h.6M3.5 18.4h.6M7.3 22.5h.6M18.1 23.7h.6M6.6 13.0h.6M27.0 23.8h.6M5.6 13.7h.6M22.3 27.6h.6M1.0 24.3h.6M6.9 16.8h.6M21.4 17.3h.6M24.9 14.9h.6M5.1 22.0h.6M0.9 22.4h.6M25.4 26.4h.6M7.2 32.1h.6M23.6 26.2h.6M31.5 15.4h.6M27.1 22.9h.6M0.8 20.9h.6M30.7 14.2h.6M30.1 28.5h.6M8.8 19.2h.6M11.4 27.2h.6M32.5 15.0h.6M21.1 32.2h.6M24.2 25.7h.6M30.6 26.0h.6M25.6 25.4h.6M42.5 25.2h.6M31.0 11.3h.6M20.7 25.0h.6M20.3 24.4h.6M14.4 32.0h.6M30.4 30.6h.6M4.2 27.4h.6M27.6 30.4h.6M9.4 17.9h.6M29.9 25.7h.6M25.0 23.8h.6M21.5 29.4h.6M14.1 31.2h.6M17.5 28.3h.6M8.4 20.5h.6M33.2 23.0h.6M32.6 27.8h.6M17.3 11.6h.6M18.1 18.1h.6M22.1 16.4h.6M27.4 12.4h.6M20.9 29.5h.6M12.1 14.8h.6M13.5 19.4h.6M23.0 19.2h.6M16.3 32.4h.6M12.8 28.8h.6M32.5 22.2h.6M25.2 22.8h.6M27.6 12.4h.6M6.5 25.2h.6M29.2 20.3h.6M18.7 25.9h.6M15.0 31.4h.6M8.4 25.2h.6M8.4 21.3h.6M13.0 11.1h.6M19.4 13.2h.6M16.8 27.4h.6M37.4 27.4h.6M25.9 22.5h.6M21.8 27.4h.6M17.1 8.1h.6M8.2 15.9h.6M6.8 22.6h.6M23.4 27.0h.6M2.3 28.8h.6M35.4 22.7h.6M31.7 35.7h.6M1.6 24.7h.6M32.1 25.3h.6M29.4 12.6h.6M29.2 32.6h.6M26.5 15.4h.6M35.5 24.3h.6M8.1 16.3h.6M12.0 28.2h.6M26.8 18.7h.6M18.9 15.1h.6M5.3 8.4h.6M28.1 28.0h.6M31.0 23.1h.6M13.8 23.6h.6M23.7 27.2h.6M30.4 22.8h.6M9.9 25.2h.6M9.1 32.8h.6M15.5 18.9h.6M5.3 31.1h.6M3.1 22.7h.6M21.0 14.3h.6M35.7 29.5h.6M3.4 23.1h.6M35.3 20.8h.6M30.5 22.5h.6M30.4 25.5h.6M33.3 22.0h.6M12.3 16.3h.6M30.6 28.8h.6M1.3 23.2h.6M8.1 16.6h.6M23.1 27.3h.6M26.9 30.3h.6M3.0 17.0h.6M23.5 14.8h.6M24.0 22.3h.6M27.2 27.1h.6M17.3 11.8h.6M4.4 14.2h.6M31.0 16.6h.6M28.4 25.9h.6M22.2 20.6h.6M38.6 27.0h.6M21.2 30.0h.6M34.7 21.5h.6M15.9 18.4h.6M4.0 21.3h.6M15.2 29.7h.6M30.5 13.8h.6M27.0 15.3h.6M14.6 29.3h.6M26.8 9.4h.6M22.4 12.3h.6M7.8 32.0h.6M24.8 13.1h.6M17.9 19.4h.6M28.8 15.6h.6M37.7 22.0h.6M14.3 23.7h.6M34.2 30.1h.6M16.9 26.7h.6M27.5 22.1h.6M20.3 32.8h.6M10.1 29.2h.6M21.9 21.7h.6M11.7 17.7h.6M26.5 25.7h.6M7.0 13.0h.6M6.2 25.8h.6M29.1 17.3h.6M24.4 12.9h.6M25.8 28.0h.6M25.0 13.7h.6M31.3 22.8h.6M24.6 28.4h.6M27.8 11.9h.6M10.2 11.5h.6M26.3 24.5h.6M9.7 14.2h.6M4.7 15.2h.6M13.7 21.8h.6M24.5 9.1h.6M19.9 23.3h.6M36.4 25.8h.6M28.2 21.4h.6M25.7 22.7h.6M20.7 26.1h.6M2.8 23.7h.6M19.1 31.2h.6M19.0 16.1h.6M35.2 29.7h.6M9.3 14.0h.6M16.8 15.6h.6M8.3 25.0h.6M21.5 25.6h.6M24.2 21.4h.6M18.5 10.6h.6M21.9 18.1h.6M41.9 24.1h.6M17.5 10.5h.6M25.9 25.1h.6M18.6 25.6h.6M28.5 9.6h.6M39.3 17.9h.6M34.9 14.6h.6M23.3 16.3h.6M3.8 17.9h.6M24.4 16.0h.6M1.1 16.8h.6M9.9 9.0h.6M11.3 30.1h.6M7.9 35.1h.6M19.0 24.9h.6M14.3 31.8h.6M7.9 20.1h.6M22.9 30.3h.6M7.8 21.2h.6M31.8 14.7h.6M27.2 25.8h.6M12.4 27.8h.6M24.2 15.4h.6M9.5 27.6h.6M8.8 22.2h.6M31.1 22.7h.6M2.0 29.5h.6M24.1 14.5h.6M36.9 28.1h.6M40.5 19.6h.6M4.0 23.7h.6M12.4 8.9h.6M15.8 13.0h.6M26.7 32.2h.6M7.3 23.7h.6M19.7 14.0h.6M24.4 33.5h.6M36.2 20.0h.6M17.1 30.1h.6M26.3 30.7h.6M25.2 27.6h.6M19.2 27.0h.6M12.8 26.4h.6M23.6 27.0h.6M26.9 28.2h.6M6.2 35.9h.6M13.8 12.4h.6M21.4 9.2h.6M22.9 17.4h.6M24.1 24.5h.6M34.9 27.9h.6M31.1 19.7h.6M3.2 19.7h.6M34.6 27.4h.6M7.9 23.3h.6M7.8 16.2h.6M31.3 19.6h.6M11.9 22.2h.6M26.4 27.5h.6M25.7 22.2h.6M26.6 21.0h.6M2.4 26.7h.6M29.2 22.7h.6M10.3 14.9h.6M28.4 14.6h.6M6.2 34.3h.6M7.6 31.1h.6M7.5 18.3h.6M31.0 18.6h.6M20.8 31.5h.6M9.1 21.0h.6M33.3 17.9h.6M21.6 17.5h.6M27.9 27.3h.6M23.2 26.9h.6M16.3 18.1h.6M21.1 19.3h.6M23.1 12.8h.6M28.7 34.7h.6M26.4 26.7h.6M27.9 13.5h.6M5.6 29.5h.6M21.6 12.0h.6M20.0 29.7h.6M24.9 18.6h.6M7.9 10.4h.6M19.7 31.0h.6M7.4 33.6h.6M19.0 13.7h.6M16.8 26.7h.6M13.9 22.3h.6M23.9 20.9h.6M12.1 13.1h.6M17.6 25.3h.6M26.4 14.6h.6M34.1 16.9h.6M25.1 21.8h.6M27.5 14.4h.6M26.6 19.1h.6M35.8 22.4h.6M35.1 6.9h.6M11.4 34.0h.6M26.1 30.0h.6M21.8 29.7h.6M35.1 24.6h.6M8.3 23.8h.6M2.2 9.6h.6M33.5 25.3h.6M21.5 30.1h.6M27.8 21.7h.6M24.4 25.9h.6M22.6 26.5h.6M23.3 14.7h.6M11.2 18.7h.6M22.1 30.0h.6M17.1 16.2h.6M9.0 21.7h.6M9.6 27.0h.6M31.2 31.5h.6M7.3 22.6h.6M6.1 29.7h.6M26.6 16.3h.6M34.1 18.9h.6M2.9 18.6h.6M9.0 6.9h.6M6.4 13.6h.6M21.8 34.3h.6M25.7 16.9h.6M33.9 20.5h.6M16.9 19.0h.6M13.9 26.7h.6M10.3 14.9h.6M27.8 37.0h.6M11.0 31.2h.6M7.2 17.2h.6M13.4 19.6h.6M17.5 14.5h.6M24.3 25.6h.6M9.1 26.4h.6M35.8 17.1h.6M37.5 20.9h.6M6.4 32.5h.6M19.7 14.4h.6M6.4 29.4h.6M14.1 14.8h.6M3.1 20.6h.6M13.6 16.6h.6M21.3 14.1h.6M20.0 29.9h.6M2.7 17.5h.6M32.5 21.9h.6M14.9 26.9h.6M20.1 21.1h.6M34.1 20.3h.6M5.6 26.7h.6M22.9 13.8h.6M7.8 21.1h.6M20.2 30.3h.6M11.8 17.2h.6M17.0 32.0h.6M20.0 18.5h.6M1.6 24.5h.6M13.2 19.0h.6M29.6 23.3h.6M16.2 17.7h.6M29.3 20.4h.6M24.2 35.3h.6M22.9 20.9h.6M12.3 17.0h.6M18.9 15.6h.6M7.4 13.6h.6M27.3 19.0h.6M21.6 12.7h.6M31.2 16.1h.6M39.5 24.7h.6M28.4 27.2h.6M24.3 13.0h.6M20.6 15.8h.6M26.6 32.9h.6M32.5 28.8h.6M14.3 13.3h.6M2.7 20.8h.6M4.3 32.3h.6M30.3 18.6h.6M23.7 14.4h.6M25.2 16.5h.6M9.0 23.8h.6M0.8 25.5h.6M4.1 25.7h.6M9.1 19.4h.6M11.4 7.7h.6M31.7 8.2h.6M2.7 23.2h.6M10.9 31.9h.6M7.1 22.7h.6M19.3 25.4h.6M28.1 24.1h.6M9.3 32.6h.6M11.7 27.6h.6M24.8 21.4h.6M6.4 31.7h.6M30.4 21.7h.6M6.4 30.1h.6M9.5 28.4h.6M11.4 27.5h.6M37.2 25.4h.6M28.1 26.3h.6M23.1 27.1h.6M5.4 26.5h.6M4.6 27.0h.6M8.3 26.7h.6M35.2 24.3h.6M30.4 10.9h.6M19.7 14.5h.6M8.3 26.8h.6M12.2 13.6h.6M26.2 22.1h.6M26.1 18.8h.6M22.5 13.4h.6M10.6 33.8h.6M25.0 27.2h.6M14.4 19.5h.6M27.3 12.8h.6M23.0 23.0h.6M28.6 21.3h.6M24.1 22.4h.6M9.8 22.4h.6M32.1 20.9h.6M5.1 26.2h.6M26.5 27.6h.6M10.8 25.6h.6M12.4 16.4h.6M21.1 13.3h.6M9.4 20.7h.6M4.8 24.1h.6M7.4 13.6h.6M4.3 17.9h.6M18.2 15.5h.6M23.7 23.3h.6M16.3 26.4h.6M0.8 18.7h.6M20.9 24.1h.6M28.4 14.0h.6M4.7 28.1h.6M6.0 19.3h.6M29.9 21.8h.6M15.6 29.9h.6M31.1 24.6h.6M13.5 30.0h.6M1.6 24.4h.6M17.0 25.3h.6M17.3 7.1h.6M21.5 30.0h.6M7.0 17.0h.6M10.8 26.2h.6M38.1 19.8h.6M9.4 25.0h.6M34.5 27.1h.6M5.9 12.8h.6M20.6 13.5h.6M21.7 33.2h.6M29.5 23.1h.6M17.7 26.0h.6M10.8 32.4h.6M20.2 19.6h.6M1.4 18.6h.6M0.9 18.9h.6M32.8 11.7h.6M28.8 25.5h.6M35.8 14.6h.6M22.6 9.0h.6M5.1 37.1h.6M5.0 23.7h.6M21.4 12.4h.6M6.6 19.1h.6M6.0 26.5h.6M6.3 12.8h.6M8.5 15.3h.6M23.4 15.3h.6M7.4 23.5h.6M32.6 20.4h.6M34.4 29.1h.6M16.7 16.6h.6M30.9 20.6h.6M30.3 28.4h.6M21.6 25.5h.6M15.7 12.0h.6M30.7 12.4h.6M25.0 31.8h.6M14.9 16.9h.6M9.9 24.7h.6M17.9 27.0h.6M29.9 19.9h.6M25.2 11.9h.6M9.6 17.2h.6M15.8 29.6h.6M21.7 20.9h.6M11.5 17.6h.6M16.7 13.4h.6M5.1 22.4h.6M6.7 20.6h.6M22.9 19.2h.6M21.2 16.0h.6M14.6 33.8h.6M37.7 14.0h.6M14.8 18.2h.6M27.9 21.7h.6M21.3 30.1h.6M10.3 19.2h.6M24.6 9.8h.6M30.9 26.1h.6M17.9 32.8h.6M25.2 17.8h.6M43.0 21.7h.6M6.0 22.2h.6M15.5 32.3h.6M26.0 18.1h.6M17.9 15.9h.6M11.5 42.3h.6M10.1 20.1h.6M14.7 15.3h.6M14.3 29.1h.6M18.4 34.9h.6M35.0 21.2h.6M20.1 8.9h.6M11.9 18.2h.6M24.4 8.7h.6M27.0 18.8h.6M4.6 23.5h.6M10.0 28.0h.6M6.5 12.7h.6M21.7 31.3h.6M28.7 26.5h.6M14.2 26.1h.6M32.3 19.7h.6M9.0 21.2h.6M14.3 32.0h.6M17.1 30.7h.6M19.8 10.6h.6M35.5 21.2h.6M4.2 21.8h.6M26.3 24.9h.6M19.5 18.3h.6M31.3 27.1h.6M3.9 14.5h.6M4.9 15.8h.6M35.9 21.9h.6M31.6 15.6h.6M31.2 23.0h.6M15.9 26.3h.6M29.7 15.0h.6M18.8 23.2h.6M5.4 27.6h.6M16.5 11.1h.6M12.9 23.8h.6M5.3 18.3h.6M11.8 11.7h.6M10.1 30.7h.6M25.9 24.6h.6M28.9 15.0h.6M31.4 24.0h.6M31.1 25.1h.6M4.6 22.9h.6M26.5 24.4h.6M28.8 24.3h.6M24.2 17.9h.6M5.7 21.0h.6M20.8 18.0h.6M9.4 11.2h.6M29.7 20.6h.6M3.8 11.5h.6M26.4 22.9h.6M12.9 12.9h.6M2.6 20.5h.6M13.1 11.1h.6M15.8 28.5h.6M28.7 25.4h.6M28.4 18.4h.6M31.4 28.2h.6M25.9 12.1h.6M10.3 23.4h.6M11.6 16.9h.6M19.9 13.7h.6M13.0 16.2h.6M25.8 32.5h.6M19.4 29.2h.6M37.2 26.3h.6M11.1 28.2h.6M30.4 18.2h.6M19.6 31.5h.6M23.1 32.5h.6M19.4 19.1h.6M28.6 10.9h.6M24.4 28.9h.6M10.0 22.8h.6M15.0 22.2h.6M15.0 13.5h.6M18.9 14.6h.6M21.7 26.2h.6M12.5 14.5h.6M9.0 21.0h.6M17.7 14.9h.6M1.5 11.5h.6M21.8 35.0h.6M22.0 31.7h.6M6.0 30.1h.6M17.4 19.8h.6M22.3 10.6h.6M28.1 12.6h.6M25.1 18.9h.6M30.0 22.8h.6M16.3 15.8h.6M28.8 18.4h.6M27.3 25.7h.6M16.0 15.6h.6M19.3 26.9h.6M2.3 22.9h.6M30.0 26.3h.6M30.2 26.6h.6M6.6 21.2h.6M0.9 22.7h.6M29.2 11.6h.6M21.4 10.8h.6M35.4 12.5h.6M31.1 14.2h.6M37.9 22.5h.6M27.6 28.8h.6M10.9 29.5h.6M14.2 33.2h.6M31.2 24.3h.6M3.9 32.2h.6M26.5 20.8h.6M11.0 19.2h.6M32.4 25.7h.6M9.9 26.6h.6M7.3 22.4h.6M29.5 17.6h.6M28.4 11.5h.6M21.6 29.1h.6M9.6 27.1h.6M26.8 26.0h.6M9.9 23.9h.6M26.9 20.0h.6M19.1 16.7h.6M28.1 24.7h.6M7.8 11.9h.6M10.9 33.5h.6M36.6 20.3h.6M23.6 21.5h.6M15.6 31.6h.6M8.0 31.4h.6M9.4 21.0h.6M20.5 13.5h.6M3.5 19.2h.6M16.3 23.6h.6M13.1 25.5h.6M17.8 26.4h.6M31.7 17.6h.6M12.3 14.1h.6M14.3 17.0h.6M21.3 28.1h.6M9.4 17.4h.6M18.0 33.7h.6M10.5 19.1h.6M8.9 26.6h.6M33.4 21.4h.6M18.9 31.3h.6M8.9 29.7h.6M7.7 23.2h.6M34.6 25.7h.6M28.2 26.1h.6M26.3 18.4h.6M11.6 14.3h.6M10.5 29.4h.6M31.3 20.3h.6M27.3 25.9h.6M6.3 20.2h.6M17.4 13.8h.6M27.0 20.0h.6M14.9 24.1h.6M22.7 30.1h.6M9.4 14.2h.6M30.5 12.3h.6M31.4 33.2h.6M8.7 17.5h.6M1.7 23.4h.6M12.2 31.1h.6M26.6 11.4h.6M21.0 17.2h.6M17.1 9.5h.6M20.1 28.8h.6M1.5 25.3h.6M17.2 32.3h.6M14.8 21.4h.6M11.1 32.9h.6M28.3 24.9h.6M9.9 14.1h.6M8.8 17.9h.6M26.2 15.1h.6M27.1 21.1h.6M18.7 15.6h.6M22.3 23.9h.6M22.2 31.2h.6M23.0 17.8h.6M5.1 22.8h.6M27.8 28.1h.6M36.9 28.6h.6M22.3 13.5h.6M14.8 33.0h.6M30.9 27.9h.6M26.8 19.2h.6M7.9 17.5h.6M15.6 19.4h.6M11.5 32.2h.6M29.2 14.9h.6M2.5 23.1h.6M30.4 31.3h.6M9.6 14.5h.6M23.3 23.6h.6M13.2 33.7h.6M21.2 36.9h.6M31.7 23.5h.6M26.0 27.4h.6M3.3 20.4h.6M12.5 20.7h.6M19.6 28.9h.6M36.8 19.6h.6M9.6 20.2h.6M12.8 30.2h.6M8.0 16.4h.6M16.4 19.7h.6M27.3 24.0h.6M5.2 19.7h.6M32.8 27.6h.6M31.7 27.6h.6M28.7 23.2h.6M25.3 29.3h.6M39.4 14.1h.6M4.5 20.4h.6M10.3 16.4h.6M37.0 12.5h.6M5.0 13.2h.6M20.8 9.5h.6M15.4 29.2h.6M8.0 11.9h.6M5.7 25.4h.6M13.6 24.7h.6M22.8 19.8h.6M25.7 21.4h.6M26.8 22.3h.6M19.1 18.5h.6M18.1 11.8h.6M23.6 34.9h.6M10.7 31.8h.6M4.0 30.2h.6M28.9 19.7h.6M25.9 18.6h.6M30.0 11.0h.6M2.9 21.8h.6M6.6 18.6h.6M20.9 10.5h.6M8.2 10.3h.6M30.7 22.5h.6M27.2 20.7h.6M5.2 19.5h.6M27.6 17.3h.6M1.5 23.0h.6M10.9 26.3h.6M20.2 11.6h.6M31.0 12.7h.6M28.7 21.8h.6M33.9 25.9h.6M1.8 26.1h.6M44.5 27.8h.6M7.8 30.3h.6M22.6 25.0h.6M34.3 26.6h.6M25.6 19.4h.6M31.8 25.6h.6M4.1 28.2h.6M4.1 24.8h.6M13.5 36.2h.6M9.3 18.8h.6M19.9 25.1h.6M13.9 12.5h.6M3.8 25.2h.6M22.2 23.9h.6M2.6 27.9h.6M10.8 9.7h.6M23.2 19.1h.6M7.6 13.8h.6M17.2 25.9h.6M26.5 17.3h.6M33.3 28.1h.6M31.6 26.4h.6M29.3 24.5h.6M24.0 29.0h.6M3.5 17.1h.6M7.3 16.0h.6M7.8 14.0h.6M10.7 29.0h.6M15.5 27.5h.6M5.2 22.5h.6M11.4 16.6h.6M29.6 30.3h.6M10.5 24.8h.6M12.0 21.1h.6M14.2 23.7h.6M13.2 30.4h.6M38.6 24.1h.6M29.0 17.0h.6M34.8 15.9h.6M11.1 32.8h.6M27.9 18.9h.6M21.7 26.0h.6M16.4 29.6h.6M9.1 10.9h.6M20.7 16.3h.6M28.5 29.3h.6M42.5 21.3h.6M32.3 31.1h.6M20.6 17.4h.6M9.2 31.1h.6M8.2 20.9h.6M12.9 18.1h.6M31.1 26.9h.6M27.6 19.3h.6M6.8 17.4h.6M25.7 18.6h.6M19.6 28.3h.6M37.4 17.3h.6M1.3 24.6h.6M14.6 19.9h.6M5.1 21.9h.6M16.0 23.1h.6M6.7 15.2h.6M15.4 17.6h.6M8.3 21.4h.6M6.3 17.8h.6M15.2 26.8h.6M8.8 23.9h.6M5.7 18.6h.6M15.0 35.1h.6M17.6 28.8h.6M22.0 27.7h.6M11.4 27.2h.6M30.7 27.7h.6M1.3 20.8h.6M19.1 15.7h.6M9.9 18.5h.6M29.6 15.4h.6M31.7 18.8h.6M20.3 12.3h.6M11.9 11.9h.6M10.5 28.7h.6M6.8 26.9h.6M17.8 26.4h.6M33.9 17.7h.6M36.7 19.2h.6M22.9 20.2h.6M19.0 28.4h.6M15.0 26.7h.6M22.6 24.8h.6M13.1 20.0h.6M32.0 37.4h.6M7.0 20.4h.6M19.2 17.5h.6M9.5 28.1h.6M27.6 13.1h.6M35.8 17.6h.6M26.2 16.8h.6M19.6 32.8h.6M18.1 15.6h.6M26.3 21.1h.6M9.8 20.6h.6M32.2 34.7h.6M34.2 31.3h.6M30.1 24.8h.6M26.4 31.3h.6M12.9 13.1h.6M35.4 29.0h.6M2.5 17.5h.6M7.6 19.4h.6M35.2 8.1h.6M10.5 22.0h.6M9.0 12.6h.6M29.0 30.0h.6M31.8 19.8h.6M20.3 13.1h.6M0.7 25.8h.6M16.7 14.2h.6M7.6 17.7h.6M29.7 22.3h.6M34.0 20.9h.6M25.2 21.1h.6M23.8 27.5h.6M34.6 21.3h.6M35.6 19.6h.6M4.5 27.4h.6M21.9 36.7h.6M4.3 17.7h.6M8.4 27.6h.6M31.3 18.3h.6M5.4 28.2h.6M15.2 18.2h.6M32.4 23.9h.6M25.1 25.4h.6M16.4 18.3h.6M15.7 33.5h.6M8.1 13.8h.6M37.4 16.3h.6M19.5 18.6h.6M18.7 33.0h.6M30.0 16.3h.6M22.2 22.5h.6M5.1 12.3h.6M18.5 27.0h.6M25.2 24.3h.6M20.4 14.5h.6M28.0 34.5h.6M29.3 25.4h.6M26.3 24.0h.6M16.7 35.7h.6M18.9 29.8h.6M37.5 20.8h.6M0.7 20.1h.6M29.5 12.1h.6M24.1 15.0h.6M10.8 31.4h.6M18.5 15.5h.6M27.1 19.0h.6M2.5 21.5h.6M20.5 30.7h.6M24.2 10.6h.6M9.4 11.2h.6M21.5 18.9h.6M33.1 27.5h.6M20.9 30.7h.6M8.8 30.1h.6M1.9 16.5h.6M2.0 32.0h.6M29.2 14.5h.6M15.1 24.7h.6M17.2 18.3h.6M15.7 15.6h.6M11.6 8.4h.6M35.9 17.6h.6M28.2 23.7h.6M34.4 19.7h.6M4.1 21.2h.6M27.5 21.9h.6M28.0 21.3h.6M6.0 29.0h.6M7.0 19.6h.6M9.7 31.3h.6M29.5 14.6h.6M22.5 26.0h.6M10.5 30.5h.6M27.5 17.0h.6M10.0 16.6h.6M22.0 20.9h.6M17.7 32.4h.6M9.2 31.0h.6M30.0 18.1h.6M18.9 8.8h.6M15.5 18.7h.6M34.3 18.3h.6M28.6 14.5h.6M22.0 27.7h.6M3.9 21.9h.6M18.4 29.0h.6M6.4 30.2h.6M2.3 27.2h.6M23.4 29.3h.6M23.2 26.1h.6M1.4 13.1h.6M10.4 19.3h.6M19.3 27.5h.6M1.5 19.4h.6M31.0 26.2h.6M10.0 14.0h.6M23.8 15.7h.6M27.5 25.2h.6M6.2 22.5h.6M24.8 21.4h.6M20.1 30.0h.6M23.2 30.5h.6M11.3 23.6h.6M29.4 28.4h.6M28.5 22.3h.6M34.2 16.7h.6M31.3 23.7h.6M3.4 18.0h.6M12.7 10.9h.6M25.0 26.0h.6M28.7 12.8h.6M9.9 28.5h.6M18.7 30.6h.6M24.2 20.1h.6M16.9 24.4h.6M28.7 31.4h.6M7.8 13.4h.6M24.9 15.4h.6M9.2 29.2h.6M25.5 24.0h.6M6.4 22.7h.6M15.3 31.0h.6M30.1 19.5h.6M8.3 31.0h.6M19.2 33.3h.6M25.3 12.4h.6M17.1 27.9h.6M15.0 28.5h.6M19.4 25.0h.6M7.7 27.5h.6M25.5 9.4h.6M28.0 18.3h.6M35.6 16.9h.6M22.2 14.9h.6M28.4 9.7h.6M13.7 35.2h.6M24.8 15.8h.6M6.5 20.6h.6M23.6 21.1h.6M14.8 13.4h.6M29.8 17.4h.6M15.8 18.9h.6M13.3 24.1h.6M26.1 14.1h.6M11.6 34.5h.6M12.8 16.4h.6M32.8 21.0h.6M10.4 16.6h.6M12.7 18.1h.6M28.9 34.1h.6M25.5 22.4h.6M23.1 28.5h.6M21.9 14.6h.6M4.8 12.0h.6M9.1 14.3h.6M8.9 29.9h.6M26.8 16.0h.6M11.1 22.0h.6M34.0 22.2h.6M18.9 24.3h.6M25.7 14.5h.6M10.3 28.4h.6M10.2 18.1h.6M23.0 32.3h.6M29.6 19.5h.6M11.2 30.9h.6M31.4 30.1h.6M13.9 22.7h.6M33.8 29.0h.6M5.4 14.6h.6M14.4 30.3h.6M25.1 11.7h.6M17.8 15.1h.6M9.8 21.1h.6M26.9 17.0h.6M30.3 20.4h.6M14.7 8.3h.6M28.3 18.0h.6M12.6 27.3h.6M8.1 18.7h.6M32.8 24.4h.6M9.9 22.7h.6M11.9 27.2h.6M28.2 26.2h.6M7.2 15.8h.6M6.3 22.4h.6M15.2 15.4h.6M20.7 25.5h.6M30.3 22.7h.6M15.9 26.8h.6M11.3 13.0h.6M5.9 11.9h.6M12.7 23.1h.6M12.8 14.9h.6M29.6 31.1h.6M2.6 29.9h.6M1.4 32.0h.6M16.2 6.6h.6M23.7 14.3h.6M33.1 11.9h.6M1.0 22.5h.6M20.2 31.5h.6M10.9 28.9h.6M34.6 27.5h.6M22.9 15.1h.6M33.6 28.5h.6M18.2 28.8h.6M28.9 12.1h.6M22.5 30.8h.6M10.1 27.2h.6M28.1 12.9h.6M15.5 7.6h.6M17.3 36.0h.6M4.5 26.9h.6M26.4 19.9h.6M34.7 22.2h.6M22.9 27.0h.6M24.5 31.0h.6M4.8 16.0h.6M8.1 26.1h.6M10.6 27.4h.6M37.5 21.6h.6M13.8 11.9h.6M23.5 19.8h.6M2.8 8.1h.6M10.7 25.0h.6M20.3 16.2h.6M16.9 35.0h.6M14.3 27.8h.6M25.6 22.0h.6M24.8 27.7h.6M4.8 27.4h.6M3.4 25.8h.6M25.0 29.3h.6M28.5 26.1h.6M2.7 21.3h.6M27.4 18.6h.6M3.7 29.0h.6M15.2 24.5h.6M32.0 27.4h.6M1.6 16.0h.6M18.1 10.5h.6M14.4 19.2h.6M4.8 18.6h.6M28.5 24.0h.6M6.6 17.9h.6M8.6 23.7h.6M6.5 30.3h.6M23.1 12.9h.6M23.3 8.6h.6M32.8 17.5h.6M13.3 21.6h.6M7.6 17.8h.6M32.1 11.8h.6M9.5 25.8h.6M26.5 15.9h.6M35.1 20.6h.6M25.5 34.8h.6M5.7 17.4h.6M7.7 18.6h.6M29.2 22.6h.6M9.4 30.5h.6M28.4 19.5h.6M22.3 19.4h.6M20.5 16.4h.6M17.8 10.2h.6M7.5 21.2h.6M32.0 14.5h.6M20.0 16.7h.6M63.9 6.2h.6M45.7 15.7h.6M63.3 7.8h.6M29.1 9.9h.6M26.3 24.3h.6M45.7 19.8h.6M37.7 15.7h.6M52.8 11.2h.6M47.8 9.4h.6M48.7 13.0h.6M30.2 16.8h.6M39.3 25.8h.6M48.7 11.4h.6M32.8 23.2h.6M39.8 11.9h.6M51.9 9.9h.6M39.2 27.8h.6M42.0 6.6h.6M52.9 19.1h.6M44.7 11.3h.6M24.5 13.7h.6M40.9 7.4h.6M40.1 10.8h.6M43.2 8.4h.6M61.5 12.6h.6M51.9 22.8h.6M42.3 20.0h.6M32.1 14.2h.6M49.0 11.9h.6M42.8 17.1h.6M53.5 22.2h.6M43.3 26.5h.6M51.1 17.3h.6M32.3 2.7h.6M37.4 19.9h.6M40.7 22.3h.6M30.3 15.0h.6M44.5 13.2h.6M34.6 17.7h.6M36.0 30.7h.6M31.6 23.8h.6M38.8 23.3h.6M22.7 15.7h.6M49.8 22.1h.6M45.2 20.0h.6M46.0 25.4h.6M53.1 21.3h.6M42.3 5.6h.6M36.2 12.9h.6M53.8 15.0h.6M35.2 24.7h.6M41.4 26.4h.6M18.6 13.9h.6M32.5 19.0h.6M39.4 14.1h.6M47.5 15.9h.6M46.3 17.2h.6M48.5 31.9h.6M33.2 12.8h.6M33.7 8.3h.6M42.8 17.6h.6M29.8 20.3h.6M34.1 17.0h.6M40.5 20.7h.6M20.4 30.0h.6M22.7 21.8h.6M44.9 18.2h.6M31.4 12.1h.6M47.5 24.4h.6M33.0 21.3h.6M27.3 19.1h.6M46.6 14.8h.6M36.5 7.1h.6M43.6 13.6h.6M31.3 14.4h.6M30.5 26.7h.6M35.6 8.9h.6M31.0 29.4h.6M37.0 10.0h.6M28.1 13.5h.6M43.8 17.3h.6M47.4 24.8h.6M44.7 14.2h.6M25.2 22.4h.6M51.4 9.6h.6M23.2 35.1h.6M42.2 17.5h.6M39.9 33.2h.6M48.1 17.4h.6M30.7 21.2h.6M33.2 13.1h.6M50.9 24.9h.6M50.9 24.0h.6M29.1 31.6h.6M35.2 22.2h.6M29.5 17.9h.6M14.3 21.4h.6M50.9 24.0h.6M30.8 20.7h.6M39.7 14.2h.6M42.3 15.8h.6M26.4 30.7h.6M49.2 21.4h.6M31.4 25.0h.6M25.6 34.5h.6M43.0 13.9h.6M41.2 15.8h.6M32.8 25.9h.6M38.2 14.6h.6M56.2 16.1h.6M47.1 21.5h.6M39.1 15.9h.6M33.9 20.6h.6M57.3 21.6h.6M34.0 12.0h.6M20.2 28.7h.6M50.7 6.9h.6M32.5 17.0h.6M17.6 22.3h.6M24.0 16.8h.6M24.7 25.3h.6M17.4 22.3h.6M31.4 7.4h.6M31.6 15.6h.6M55.8 18.6h.6M37.5 20.2h.6M32.3 12.8h.6M36.9 12.3h.6M41.6 21.1h.6M49.2 10.6h.6M53.0 17.9h.6M19.2 20.0h.6M23.5 14.8h.6M38.6 24.0h.6M57.2 26.4h.6M32.3 20.1h.6M50.4 12.3h.6M31.8 21.2h.6M32.5 13.0h.6M36.0 10.8h.6M53.6 19.9h.6M32.5 18.8h.6M40.2 19.8h.6M42.9 13.6h.6M49.3 14.6h.6M39.9 16.7h.6M48.1 9.5h.6M56.2 15.1h.6M48.3 15.9h.6M34.4 24.0h.6M36.8 17.8h.6M41.9 9.8h.6M35.8 13.6h.6M26.4 18.4h.6M28.1 19.7h.6M32.6 25.1h.6M19.4 23.9h.6M65.5 11.3h.6M49.1 17.6h.6M31.7 18.1h.6M31.1 10.9h.6M52.3 20.3h.6M24.0 22.4h.6M28.5 10.4h.6M50.4 13.6h.6M38.1 28.4h.6M48.3 17.9h.6M40.3 23.9h.6M39.0 22.4h.6M31.0 20.6h.6M44.0 28.2h.6M42.0 23.4h.6M41.3 7.4h.6M33.3 20.3h.6M52.1 20.7h.6M39.8 11.8h.6M45.4 26.6h.6M26.0 20.7h.6M22.6 11.8h.6M47.9 17.8h.6M31.1 16.4h.6M29.0 20.5h.6M43.8 15.4h.6M53.0 13.2h.6M35.0 20.0h.6M34.8 17.6h.6M44.8 16.0h.6M44.5 29.4h.6M39.8 12.0h.6M21.8 9.2h.6M47.6 12.4h.6M29.7 17.2h.6M59.6 19.3h.6M30.7 16.2h.6M41.2 6.7h.6M38.4 9.1h.6M41.6 23.2h.6M62.1 8.7h.6M35.9 23.5h.6M50.4 21.8h.6M39.4 19.5h.6M34.8 14.0h.6M48.2 19.2h.6M42.9 11.4h.6M36.7 15.8h.6M29.2 9.5h.6M43.6 26.8h.6M69.6 15.9h.6M37.5 13.5h.6M45.6 8.5h.6M33.3 30.8h.6M70.1 17.7h.6M25.2 30.4h.6M32.0 15.4h.6M20.1 22.7h.6M47.4 15.3h.6M40.9 11.4h.6M44.0 12.0h.6M39.1 20.0h.6M55.2 13.5h.6M51.4 1.2h.6M52.0 20.5h.6M13.8 16.6h.6M28.6 22.1h.6M40.4 12.2h.6M49.0 22.8h.6M13.4 16.4h.6M54.8 25.8h.6M43.7 16.2h.6M53.8 3.7h.6M26.8 25.9h.6M30.1 22.6h.6M27.9 13.0h.6M32.1 25.7h.6M31.5 31.9h.6M22.0 28.6h.6M53.1 16.0h.6M45.0 10.7h.6M29.2 17.9h.6M18.5 19.0h.6M51.1 10.8h.6M16.7 19.7h.6M27.6 10.7h.6M26.3 10.1h.6M30.0 20.8h.6M43.9 9.8h.6M48.5 12.9h.6M43.5 18.6h.6M25.9 19.0h.6M52.3 10.8h.6M51.3 24.9h.6M47.1 27.3h.6M61.3 10.4h.6M28.5 7.5h.6M29.8 16.6h.6M30.4 12.0h.6M32.4 28.5h.6M45.9 26.1h.6M41.7 22.1h.6M33.5 21.1h.6M51.7 16.3h.6M37.8 22.0h.6M31.6 19.0h.6M30.9 20.0h.6M24.9 15.1h.6M36.2 11.2h.6M29.3 13.0h.6M37.6 9.5h.6M44.0 19.3h.6M44.7 21.2h.6M34.1 29.8h.6M57.0 26.7h.6M26.4 13.9h.6M47.1 14.3h.6M39.2 17.5h.6M42.7 20.5h.6M31.3 26.6h.6M31.1 31.5h.6M46.4 21.9h.6M20.9 20.9h.6M40.0 32.9h.6M24.0 11.4h.6M20.2 23.5h.6M39.6 14.8h.6M32.6 10.4h.6M57.3 8.7h.6M20.6 21.3h.6M40.4 11.6h.6M39.9 12.0h.6M41.3 17.4h.6M32.7 16.2h.6M22.1 24.7h.6M47.5 15.9h.6M47.3 22.3h.6M44.0 19.7h.6M42.6 17.1h.6M51.3 11.7h.6M50.0 19.3h.6M47.2 19.7h.6M31.0 21.8h.6M48.1 2.8h.6M28.5 21.8h.6M43.6 14.5h.6M28.4 28.2h.6M36.1 17.8h.6M47.2 25.5h.6M34.7 22.8h.6M49.2 12.8h.6M33.9 8.2h.6M56.0 16.3h.6M36.8 13.9h.6M63.5 15.9h.6M47.3 21.0h.6M38.1 17.3h.6M26.8 12.9h.6M33.1 17.0h.6M58.5 19.5h.6M25.1 22.2h.6M22.4 16.4h.6M42.8 20.7h.6M51.9 11.8h.6M34.7 27.6h.6M29.1 13.9h.6M36.0 24.3h.6M35.3 19.1h.6M49.5 5.6h.6M57.2 11.2h.6M36.7 22.5h.6M29.0 21.6h.6M26.0 13.5h.6M21.3 13.8h.6M37.3 18.4h.6M22.7 14.7h.6M47.3 20.8h.6M36.5 34.0h.6M31.0 11.7h.6M54.0 20.5h.6M21.0 15.8h.6M49.3 18.9h.6M40.3 20.7h.6M41.7 24.4h.6M38.5 12.8h.6M26.5 13.7h.6M45.1 9.9h.6M51.5 13.1h.6M18.5 17.0h.6M40.0 22.3h.6M36.6 17.8h.6M34.8 15.2h.6M42.6 32.4h.6M36.4 26.2h.6M33.1 20.0h.6M51.3 12.4h.6M28.6 10.3h.6M34.4 8.2h.6M33.5 24.0h.6M28.9 18.4h.6M32.0 22.5h.6M53.3 22.6h.6M28.7 21.4h.6M62.6 16.3h.6M22.3 14.4h.6M15.8 28.0h.6M29.8 19.8h.6M25.1 25.4h.6M51.1 9.2h.6M43.1 7.7h.6M26.4 22.2h.6M35.9 23.7h.6M34.5 14.1h.6M63.2 11.6h.6M40.0 25.2h.6M42.0 21.6h.6M45.2 15.9h.6M41.0 25.4h.6M38.4 9.0h.6M28.2 18.7h.6M39.8 17.5h.6M40.7 26.1h.6M24.7 11.9h.6M39.2 27.2h.6M24.9 23.9h.6M21.2 23.2h.6M36.9 19.8h.6M43.9 27.3h.6M48.8 23.0h.6M31.7 14.7h.6M22.7 19.7h.6M27.8 18.3h.6M35.3 12.0h.6M36.7 15.0h.6M43.6 11.4h.6M35.3 18.3h.6M49.8 23.6h.6M31.8 8.8h.6M43.2 28.7h.6M45.2 26.8h.6M42.7 25.9h.6M43.5 4.7h.6M26.0 18.7h.6M47.9 11.0h.6M33.0 28.6h.6M36.3 26.0h.6M26.9 17.0h.6M43.1 21.8h.6M32.4 17.9h.6M30.4 14.8h.6M46.9 17.3h.6M29.1 18.4h.6M43.3 16.4h.6M41.1 20.1h.6M45.1 15.7h.6M39.0 11.8h.6M25.5 25.1h.6M40.4 15.9h.6M42.7 12.1h.6M57.6 18.5h.6M57.5 17.9h.6M47.3 7.0h.6M48.9 10.7h.6M15.4 7.6h.6M33.2 7.6h.6M26.2 21.4h.6M45.7 22.8h.6M45.5 20.1h.6M44.8 12.1h.6M43.9 36.5h.6M43.7 17.6h.6M37.4 10.6h.6M31.1 18.4h.6M47.2 15.5h.6M38.6 20.4h.6M49.4 27.8h.6M33.6 12.3h.6M34.7 20.9h.6M29.4 15.6h.6M46.9 17.7h.6M30.5 7.4h.6M15.7 17.1h.6M29.1 15.9h.6M30.0 19.5h.6M38.5 24.2h.6M34.0 15.5h.6M51.8 10.9h.6M43.3 17.9h.6M48.1 30.3h.6M53.4 22.4h.6M49.0 6.5h.6M49.2 21.5h.6M32.5 17.2h.6M43.2 29.6h.6M37.4 22.8h.6M47.5 23.6h.6M32.0 13.3h.6M46.5 13.5h.6M32.7 14.7h.6M46.9 11.3h.6M52.2 20.7h.6M51.0 7.7h.6M33.3 20.5h.6M52.7 11.8h.6M22.6 7.6h.6M41.1 22.2h.6M23.6 16.9h.6M39.2 19.4h.6M25.6 18.3h.6M38.3 15.7h.6M30.0 19.3h.6M52.8 17.4h.6M60.0 13.0h.6M48.0 26.1h.6M50.3 22.5h.6M44.8 21.6h.6M38.0 27.3h.6M36.0 15.7h.6M26.0 22.1h.6M30.0 24.6h.6M47.4 26.4h.6M34.1 24.8h.6M43.9 14.7h.6M29.4 26.9h.6M61.0 11.9h.6M53.4 13.6h.6M37.9 15.9h.6M57.0 26.9h.6M45.2 23.3h.6M50.7 11.2h.6M37.0 21.6h.6M33.8 24.1h.6M54.1 22.0h.6M47.9 15.2h.6M47.5 28.8h.6M49.9 11.3h.6M41.2 16.2h.6M34.0 25.6h.6M43.9 13.7h.6M23.0 34.1h.6M40.2 26.5h.6M51.7 15.6h.6M36.8 9.2h.6M57.5 24.3h.6M35.5 27.7h.6M27.3 19.6h.6M46.7 17.2h.6M37.2 24.1h.6M46.4 23.4h.6M32.5 9.3h.6M45.5 24.3h.6M40.4 28.5h.6M42.7 21.5h.6M49.1 9.8h.6M30.4 14.3h.6M36.6 18.9h.6M50.7 25.7h.6M52.7 18.3h.6M45.8 2.4h.6M27.0 15.2h.6M41.5 11.3h.6M35.0 28.6h.6M35.1 22.0h.6M23.0 22.9h.6M19.4 10.0h.6M50.4 19.8h.6M48.8 18.4h.6M23.7 22.5h.6M35.8 34.5h.6M39.8 10.9h.6M33.2 30.2h.6M45.2 22.3h.6M35.0 28.6h.6M24.3 23.2h.6M33.8 22.3h.6M44.7 22.0h.6M29.6 10.2h.6M47.1 25.7h.6M50.9 19.9h.6M46.3 14.3h.6M46.0 21.1h.6M37.9 22.7h.6M44.4 6.7h.6M30.8 13.8h.6M16.5 24.7h.6M30.5 17.2h.6M54.0 23.2h.6M50.5 14.8h.6M28.0 28.0h.6M36.3 13.0h.6M30.3 16.4h.6M25.9 17.1h.6M34.2 18.8h.6M48.3 16.4h.6M39.5 24.7h.6M35.1 18.2h.6M17.7 16.4h.6M60.2 14.8h.6M26.5 25.2h.6M39.1 14.2h.6M47.5 25.7h.6M41.0 23.8h.6M48.0 23.7h.6M16.4 23.5h.6M28.4 20.1h.6M30.9 14.4h.6M24.9 12.9h.6M22.3 16.8h.6M48.5 23.0h.6M25.2 14.7h.6M50.3 11.7h.6M48.7 23.1h.6M34.9 26.7h.6M23.8 20.5h.6M32.8 7.5h.6M30.0 21.3h.6M30.6 20.4h.6M29.9 14.4h.6M39.2 26.4h.6M35.4 26.1h.6M37.7 19.9h.6M38.3 12.7h.6M52.0 19.9h.6M58.5 21.3h.6M38.8 29.0h.6M37.8 8.8h.6M36.9 27.0h.6M48.6 9.9h.6M46.6 23.1h.6M39.9 11.0h.6M37.2 8.3h.6M45.2 24.2h.6M50.2 14.1h.6M33.6 13.8h.6M43.3 10.3h.6M20.3 21.7h.6M31.6 11.2h.6M45.0 17.5h.6M22.7 25.7h.6M23.4 13.5h.6M41.4 10.3h.6M19.0 19.9h.6M34.1 20.0h.6M21.9 54.6h.6M24.5 49.1h.6M14.3 53.9h.6M22.9 58.8h.6M25.6 65.8h.6M15.6 50.1h.6M20.9 48.0h.6M19.1 66.2h.6M20.5 59.0h.6M23.4 54.4h.6M13.1 59.4h.6M16.7 54.5h.6M13.8 61.4h.6M17.5 64.4h.6M25.1 49.2h.6M15.3 71.4h.6M16.9 52.4h.6M16.4 65.3h.6M20.7 58.0h.6M17.5 64.6h.6M15.6 56.9h.6M15.8 63.8h.6M18.0 55.3h.6M14.6 69.4h.6M11.0 66.1h.6M23.2 59.5h.6M19.4 52.3h.6M16.5 65.7h.6M18.3 43.4h.6M21.8 61.9h.6M15.5 51.7h.6M18.9 72.6h.6M16.8 66.9h.6M23.2 66.5h.6M11.0 66.8h.6M14.1 70.4h.6M23.9 62.0h.6M14.5 65.4h.6M16.1 45.7h.6M14.2 59.0h.6M11.1 56.3h.6M18.5 74.3h.6M21.2 46.5h.6M19.9 46.0h.6M14.4 67.2h.6M16.8 67.5h.6M24.5 64.4h.6M18.1 46.8h.6M15.5 69.1h.6M22.1 66.9h.6M17.7 71.1h.6M12.3 56.3h.6M15.5 51.3h.6M22.2 66.5h.6M18.1 48.6h.6M18.2 56.5h.6M21.3 65.8h.6M15.7 53.5h.6M13.6 48.6h.6M18.7 47.7h.6M16.2 53.6h.6M18.7 47.4h.6M15.7 58.3h.6M15.7 55.5h.6M14.1 45.0h.6M20.2 59.6h.6M25.3 64.5h.6M14.4 68.0h.6M23.1 62.7h.6M21.1 72.7h.6M16.3 66.4h.6M15.1 67.6h.6M21.1 60.1h.6M17.5 69.6h.6M17.4 59.6h.6M16.7 58.4h.6M25.3 52.3h.6M13.3 50.3h.6M20.3 45.8h.6M25.3 60.3h.6M19.4 69.7h.6M25.9 52.5h.6M18.8 54.0h.6M19.6 62.8h.6M21.8 51.2h.6M16.4 43.3h.6M19.0 54.2h.6M21.3 62.2h.6M16.0 56.2h.6M20.7 66.3h.6M22.5 43.4h.6M14.7 67.9h.6M18.4 67.2h.6M20.4 49.4h.6M15.9 60.0h.6M22.5 68.1h.6M23.3 50.6h.6M16.8 48.5h.6M19.7 71.2h.6M16.4 52.3h.6M18.4 49.5h.6M20.5 43.9h.6M18.2 53.3h.6M19.6 51.2h.6M16.9 57.0h.6M23.2 52.3h.6M22.1 44.9h.6M16.5 51.7h.6M21.2 63.7h.6M27.4 58.7h.6M17.3 43.1h.6M23.7 67.9h.6M27.5 62.5h.6M18.1 64.5h.6M21.8 47.6h.6M11.7 64.7h.6M23.9 61.6h.6M21.7 58.7h.6M22.2 53.3h.6M19.8 52.2h.6M22.5 67.4h.6M22.9 67.3h.6M21.5 69.7h.6M17.9 48.4h.6M18.2 61.0h.6M19.3 55.9h.6M17.9 58.1h.6M16.0 70.0h.6M14.6 70.8h.6M18.6 67.9h.6M15.9 43.5h.6M17.4 62.1h.6M14.3 54.0h.6M14.1 66.3h.6M17.6 39.4h.6M17.8 57.0h.6M25.9 69.6h.6M18.6 63.2h.6M23.0 55.4h.6M20.9 49.6h.6M20.4 61.8h.6M17.7 52.0h.6M21.7 55.5h.6M21.3 56.1h.6M13.9 61.6h.6M21.7 54.7h.6M18.2 48.7h.6M13.2 58.3h.6M15.8 61.3h.6M21.2 38.5h.6M22.5 52.4h.6M18.5 52.0h.6M23.1 69.5h.6M21.9 49.2h.6M13.8 70.3h.6M15.1 48.7h.6M20.5 54.9h.6M15.4 62.5h.6M16.5 64.4h.6M20.4 56.4h.6M17.7 62.3h.6M16.5 71.6h.6M14.0 49.9h.6M25.6 69.3h.6M13.8 59.7h.6M17.1 62.9h.6M22.7 46.3h.6M18.6 70.6h.6M15.4 50.1h.6M14.6 54.3h.6M22.5 78.5h.6M21.7 69.5h.6M12.3 63.6h.6M14.0 66.6h.6M21.6 56.3h.6M24.6 53.9h.6M16.9 49.4h.6M22.5 64.5h.6M13.2 54.2h.6M13.0 60.2h.6M14.3 54.1h.6M21.2 58.9h.6M20.0 58.6h.6M21.9 61.3h.6M12.7 54.3h.6M24.8 57.4h.6M17.3 66.8h.6M27.1 72.6h.6M19.9 49.6h.6M12.7 52.4h.6M18.7 59.5h.6M15.8 48.7h.6M24.5 58.7h.6M20.1 59.7h.6M23.6 61.8h.6M16.0 48.0h.6M16.2 44.4h.6M19.7 60.6h.6M19.2 64.3h.6M15.5 49.5h.6M20.9 50.5h.6M23.2 53.0h.6M17.6 69.9h.6M16.7 55.3h.6M16.7 56.3h.6M21.2 61.0h.6M18.3 53.6h.6M20.9 59.7h.6M23.1 54.8h.6M17.4 58.3h.6M17.6 61.1h.6M17.8 44.8h.6M24.3 58.5h.6M18.4 52.2h.6M19.1 49.9h.6M17.6 66.5h.6M22.5 59.7h.6M20.5 65.8h.6M14.4 59.6h.6M22.3 67.6h.6M65.2 38.5h.6M49.4 42.7h.6M28.4 28.7h.6M58.9 40.9h.6M32.4 24.4h.6M24.6 41.2h.6M57.9 39.9h.6M35.0 55.3h.6M60.5 13.8h.6" stroke="#000" stroke-opacity="0.5" stroke-width="0.6" fill="none" filter="url(#bl)"/>
<rect x="270.5" y="289.2" width="88.5" height="88.1" fill="none" stroke="#444" stroke-width="1.2"/>
<text class="sa" x="323.1" y="280" font-size="12.2" font-weight="normal" font-style="italic" text-anchor="middle" fill="#000" stroke="#000" stroke-width=".2">Mll-AF9</text>
<rect x="271.7" y="291.4" width="12.8" height="5.6" fill="#fff"/>
<text class="se" x="272.2" y="296.4" font-size="6.7" font-weight="normal" font-style="normal" text-anchor="start" fill="#000" stroke="#000" stroke-width=".15">84.8</text>
<rect x="344.9" y="291.4" width="12.8" height="5.6" fill="#fff"/>
<text class="se" x="357.2" y="296.4" font-size="6.7" font-weight="normal" font-style="normal" text-anchor="end" fill="#000" stroke="#000" stroke-width=".15">12.5</text>
<rect x="271.7" y="370.3" width="12.8" height="5.6" fill="#fff"/>
<text class="se" x="272.2" y="375.3" font-size="6.7" font-weight="normal" font-style="normal" text-anchor="start" fill="#000" stroke="#000" stroke-width=".15">2.68</text>
<rect x="344.9" y="370.3" width="12.8" height="5.6" fill="#fff"/>
<text class="se" x="357.2" y="375.3" font-size="6.7" font-weight="normal" font-style="normal" text-anchor="end" fill="#000" stroke="#000" stroke-width=".15">0.03</text>
<text class="se" x="265.8" y="380.4" font-size="5.7" font-weight="bold" text-anchor="end" fill="#000">10<tspan dy="-2" font-size="4.6">0</tspan></text>
<text class="se" x="271.4" y="387.5" font-size="5.7" font-weight="bold" text-anchor="middle" fill="#000">10<tspan dy="-2" font-size="4.6">0</tspan></text>
<text class="se" x="265.8" y="358.4" font-size="5.7" font-weight="bold" text-anchor="end" fill="#000">10<tspan dy="-2" font-size="4.6">1</tspan></text>
<text class="se" x="293.5" y="387.5" font-size="5.7" font-weight="bold" text-anchor="middle" fill="#000">10<tspan dy="-2" font-size="4.6">1</tspan></text>
<text class="se" x="265.8" y="336.4" font-size="5.7" font-weight="bold" text-anchor="end" fill="#000">10<tspan dy="-2" font-size="4.6">2</tspan></text>
<text class="se" x="315.6" y="387.5" font-size="5.7" font-weight="bold" text-anchor="middle" fill="#000">10<tspan dy="-2" font-size="4.6">2</tspan></text>
<text class="se" x="265.8" y="314.3" font-size="5.7" font-weight="bold" text-anchor="end" fill="#000">10<tspan dy="-2" font-size="4.6">3</tspan></text>
<text class="se" x="337.8" y="387.5" font-size="5.7" font-weight="bold" text-anchor="middle" fill="#000">10<tspan dy="-2" font-size="4.6">3</tspan></text>
<text class="se" x="265.8" y="292.3" font-size="5.7" font-weight="bold" text-anchor="end" fill="#000">10<tspan dy="-2" font-size="4.6">4</tspan></text>
<text class="se" x="359.9" y="387.5" font-size="5.7" font-weight="bold" text-anchor="middle" fill="#000">10<tspan dy="-2" font-size="4.6">4</tspan></text>
</svg>
</body></html>
